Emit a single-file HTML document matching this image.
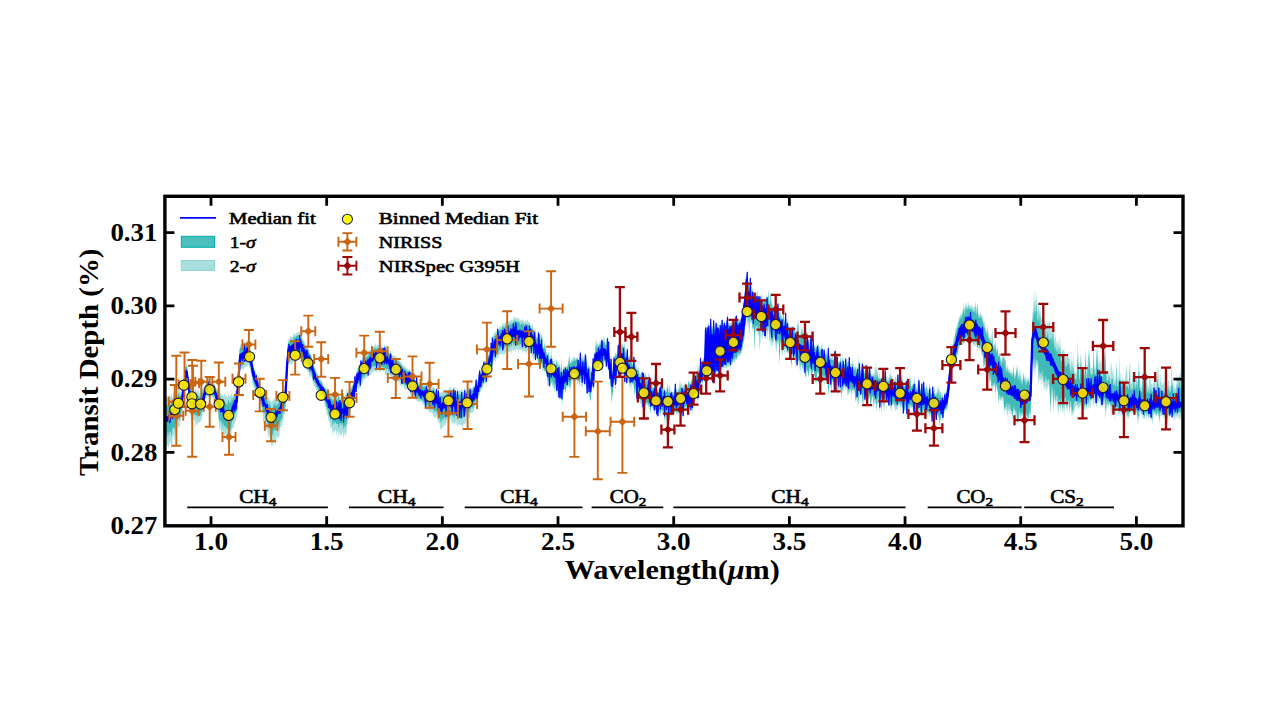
<!DOCTYPE html><html><head><meta charset="utf-8"><style>html,body{margin:0;padding:0;background:#fff;overflow:hidden}svg{display:block}</style></head><body><svg width="1263" height="719" viewBox="0 0 1263 719">
<rect width="1263" height="719" fill="#fff"/>
<defs><clipPath id="cp"><rect x="164.9" y="196.3" width="1018.1" height="329.49999999999994"/></clipPath></defs>
<g clip-path="url(#cp)">
<polygon points="162.9,399.0 163.5,397.2 164.1,395.8 164.7,399.8 165.3,398.4 165.9,399.4 166.5,398.4 167.1,396.4 167.7,396.6 168.3,395.9 168.9,398.0 169.5,392.2 170.1,397.5 170.7,396.3 171.3,392.6 171.9,397.1 172.5,397.7 173.1,395.5 173.7,391.3 174.3,391.8 174.9,394.8 175.5,397.1 176.1,390.3 176.7,392.8 177.3,395.1 177.9,388.8 178.5,387.7 179.1,389.9 179.7,390.0 180.3,392.9 180.9,391.4 181.5,390.6 182.1,387.6 182.7,385.9 183.3,384.7 183.9,378.9 184.5,373.7 185.1,370.7 185.7,363.3 186.3,364.5 186.9,364.4 187.5,367.3 188.1,373.4 188.7,380.1 189.3,385.0 189.9,386.2 190.5,387.2 191.1,391.1 191.7,391.9 192.3,390.0 192.9,390.0 193.5,388.8 194.1,391.5 194.7,390.4 195.3,387.7 195.9,389.9 196.5,391.5 197.1,393.2 197.7,388.8 198.3,388.9 198.9,392.3 199.5,393.9 200.1,394.3 200.7,392.5 201.3,387.5 201.9,389.9 202.5,388.8 203.1,386.6 203.7,388.5 204.3,386.7 204.9,385.4 205.5,384.4 206.1,383.0 206.7,381.6 207.3,379.5 207.9,379.6 208.5,378.3 209.1,380.6 209.7,379.5 210.3,380.7 210.9,381.9 211.5,382.2 212.1,383.2 212.7,383.7 213.3,383.3 213.9,384.1 214.5,383.4 215.1,386.4 215.7,387.2 216.3,388.6 216.9,388.4 217.5,387.9 218.1,390.3 218.7,391.9 219.3,393.2 219.9,388.2 220.5,392.8 221.1,396.5 221.7,393.8 222.3,394.4 222.9,394.8 223.5,396.3 224.1,394.1 224.7,394.3 225.3,394.7 225.9,397.6 226.5,396.1 227.1,396.1 227.7,397.4 228.3,393.0 228.9,394.0 229.5,397.2 230.1,394.6 230.7,395.5 231.3,395.2 231.9,391.6 232.5,397.3 233.1,395.1 233.7,394.9 234.3,393.7 234.9,392.6 235.5,389.7 236.1,390.2 236.7,390.3 237.3,390.3 237.9,382.4 238.5,367.6 239.1,354.0 239.7,347.2 240.3,345.8 240.9,343.7 241.5,344.5 242.1,344.7 242.7,344.5 243.3,345.1 243.9,342.1 244.5,341.5 245.1,343.0 245.7,343.0 246.3,343.3 246.9,339.3 247.5,341.4 248.1,339.7 248.7,339.1 249.3,343.5 249.9,346.1 250.5,348.5 251.1,352.7 251.7,355.5 252.3,359.1 252.9,361.4 253.5,365.1 254.1,367.3 254.7,369.0 255.3,370.4 255.9,373.2 256.5,372.7 257.1,377.2 257.7,379.0 258.3,380.7 258.9,383.3 259.5,384.3 260.1,385.3 260.7,388.0 261.3,388.3 261.9,390.8 262.5,390.4 263.1,392.0 263.7,392.8 264.3,394.1 264.9,390.8 265.5,393.4 266.1,394.1 266.7,393.2 267.3,397.2 267.9,396.6 268.5,397.0 269.1,401.2 269.7,395.7 270.3,400.1 270.9,401.8 271.5,403.1 272.1,401.1 272.7,400.6 273.3,400.5 273.9,400.0 274.5,399.4 275.1,396.6 275.7,402.6 276.3,400.6 276.9,399.4 277.5,399.5 278.1,400.1 278.7,398.2 279.3,392.8 279.9,394.4 280.5,393.4 281.1,396.6 281.7,394.0 282.3,391.4 282.9,393.5 283.5,390.9 284.1,392.1 284.7,390.7 285.3,388.9 285.9,385.1 286.5,371.5 287.1,353.5 287.7,342.5 288.3,339.4 288.9,339.2 289.5,339.5 290.1,336.5 290.7,336.6 291.3,336.3 291.9,337.4 292.5,337.1 293.1,337.0 293.7,331.9 294.3,333.5 294.9,335.3 295.5,334.5 296.1,332.2 296.7,333.7 297.3,332.5 297.9,332.7 298.5,331.7 299.1,332.7 299.7,331.2 300.3,331.6 300.9,332.6 301.5,332.5 302.1,337.2 302.7,338.9 303.3,340.2 303.9,340.4 304.5,341.8 305.1,343.9 305.7,344.9 306.3,346.6 306.9,345.3 307.5,345.4 308.1,346.1 308.7,350.5 309.3,349.7 309.9,352.9 310.5,352.1 311.1,356.4 311.7,354.5 312.3,359.2 312.9,360.6 313.5,362.1 314.1,365.5 314.7,366.3 315.3,369.5 315.9,368.6 316.5,372.2 317.1,373.4 317.7,374.3 318.3,376.1 318.9,377.9 319.5,378.6 320.1,379.3 320.7,378.7 321.3,380.9 321.9,380.3 322.5,383.7 323.1,382.3 323.7,386.3 324.3,386.9 324.9,385.6 325.5,387.2 326.1,388.4 326.7,387.8 327.3,389.3 327.9,388.8 328.5,389.9 329.1,389.1 329.7,393.5 330.3,391.4 330.9,393.4 331.5,393.8 332.1,394.3 332.7,397.4 333.3,394.7 333.9,394.7 334.5,394.8 335.1,394.2 335.7,396.2 336.3,395.4 336.9,392.5 337.5,397.4 338.1,392.2 338.7,393.3 339.3,396.4 339.9,396.4 340.5,397.4 341.1,397.0 341.7,393.7 342.3,396.9 342.9,394.2 343.5,393.7 344.1,395.2 344.7,397.3 345.3,394.5 345.9,395.0 346.5,387.6 347.1,393.2 347.7,388.4 348.3,392.2 348.9,390.7 349.5,389.0 350.1,388.6 350.7,386.9 351.3,387.0 351.9,385.2 352.5,384.5 353.1,383.9 353.7,381.5 354.3,379.8 354.9,373.7 355.5,375.9 356.1,373.8 356.7,370.9 357.3,368.8 357.9,366.7 358.5,366.7 359.1,364.5 359.7,364.1 360.3,363.5 360.9,357.9 361.5,361.5 362.1,359.1 362.7,360.2 363.3,353.3 363.9,357.5 364.5,357.4 365.1,356.7 365.7,354.4 366.3,353.6 366.9,354.3 367.5,353.3 368.1,353.5 368.7,350.9 369.3,350.1 369.9,349.5 370.5,350.8 371.1,350.2 371.7,343.9 372.3,347.4 372.9,347.1 373.5,346.7 374.1,345.5 374.7,344.3 375.3,343.1 375.9,346.5 376.5,346.4 377.1,344.0 377.7,344.8 378.3,344.8 378.9,345.5 379.5,346.4 380.1,345.1 380.7,346.9 381.3,346.7 381.9,344.3 382.5,348.1 383.1,345.4 383.7,348.1 384.3,345.7 384.9,343.7 385.5,346.3 386.1,344.8 386.7,349.9 387.3,348.4 387.9,350.4 388.5,350.2 389.1,352.6 389.7,352.6 390.3,350.5 390.9,351.1 391.5,354.1 392.1,355.0 392.7,355.2 393.3,355.8 393.9,355.4 394.5,356.4 395.1,354.8 395.7,356.1 396.3,358.1 396.9,357.0 397.5,359.2 398.1,359.4 398.7,359.3 399.3,360.9 399.9,360.3 400.5,362.7 401.1,361.5 401.7,362.4 402.3,364.8 402.9,364.7 403.5,365.3 404.1,366.8 404.7,366.5 405.3,366.0 405.9,367.8 406.5,368.3 407.1,368.9 407.7,368.6 408.3,368.7 408.9,370.3 409.5,369.8 410.1,369.6 410.7,372.3 411.3,373.5 411.9,374.4 412.5,373.3 413.1,376.7 413.7,371.1 414.3,377.9 414.9,378.5 415.5,380.0 416.1,381.0 416.7,374.4 417.3,382.0 417.9,382.2 418.5,382.6 419.1,382.7 419.7,382.5 420.3,383.1 420.9,383.8 421.5,382.0 422.1,382.5 422.7,384.1 423.3,384.5 423.9,384.8 424.5,383.5 425.1,385.0 425.7,386.2 426.3,383.7 426.9,386.2 427.5,386.5 428.1,386.0 428.7,385.5 429.3,386.8 429.9,386.8 430.5,387.8 431.1,386.4 431.7,386.5 432.3,388.5 432.9,385.8 433.5,386.9 434.1,387.4 434.7,389.2 435.3,387.5 435.9,390.2 436.5,385.7 437.1,390.9 437.7,389.4 438.3,385.2 438.9,391.9 439.5,392.6 440.1,393.0 440.7,392.7 441.3,392.0 441.9,393.4 442.5,391.4 443.1,392.8 443.7,391.7 444.3,393.5 444.9,390.1 445.5,392.5 446.1,388.6 446.7,389.8 447.3,391.6 447.9,389.9 448.5,391.2 449.1,388.8 449.7,388.1 450.3,387.0 450.9,387.8 451.5,391.1 452.1,389.8 452.7,391.4 453.3,385.6 453.9,388.1 454.5,387.9 455.1,386.4 455.7,390.7 456.3,392.0 456.9,391.1 457.5,387.1 458.1,390.8 458.7,391.0 459.3,391.0 459.9,390.0 460.5,391.1 461.1,390.7 461.7,388.5 462.3,389.8 462.9,391.8 463.5,391.7 464.1,388.7 464.7,387.4 465.3,389.3 465.9,391.3 466.5,389.5 467.1,388.9 467.7,387.5 468.3,388.1 468.9,388.7 469.5,386.0 470.1,386.3 470.7,388.3 471.3,388.0 471.9,387.1 472.5,387.8 473.1,386.9 473.7,386.1 474.3,385.3 474.9,384.0 475.5,384.1 476.1,376.5 476.7,382.9 477.3,380.3 477.9,379.3 478.5,376.6 479.1,372.3 479.7,368.4 480.3,372.2 480.9,371.6 481.5,368.7 482.1,367.1 482.7,366.3 483.3,363.4 483.9,359.5 484.5,361.6 485.1,361.1 485.7,359.9 486.3,358.3 486.9,355.3 487.5,356.3 488.1,354.9 488.7,352.7 489.3,351.7 489.9,345.5 490.5,347.2 491.1,340.0 491.7,342.2 492.3,334.9 492.9,337.9 493.5,334.4 494.1,332.3 494.7,333.2 495.3,331.6 495.9,331.5 496.5,330.8 497.1,331.8 497.7,323.8 498.3,329.9 498.9,328.3 499.5,326.6 500.1,326.7 500.7,327.0 501.3,326.6 501.9,325.9 502.5,321.4 503.1,325.3 503.7,322.9 504.3,324.1 504.9,322.7 505.5,322.7 506.1,321.6 506.7,320.6 507.3,321.5 507.9,320.9 508.5,320.9 509.1,322.0 509.7,320.6 510.3,321.4 510.9,319.0 511.5,319.9 512.1,319.6 512.7,320.8 513.3,318.9 513.9,317.2 514.5,316.2 515.1,317.7 515.7,317.7 516.3,319.5 516.9,316.9 517.5,319.0 518.1,318.5 518.7,318.0 519.3,318.8 519.9,321.7 520.5,319.1 521.1,321.1 521.7,320.5 522.3,317.9 522.9,321.1 523.5,319.4 524.1,322.4 524.7,321.7 525.3,319.7 525.9,321.5 526.5,322.2 527.1,320.1 527.7,319.2 528.3,321.4 528.9,322.6 529.5,321.2 530.1,324.7 530.7,325.9 531.3,326.4 531.9,324.9 532.5,323.4 533.1,328.2 533.7,329.7 534.3,328.7 534.9,330.1 535.5,329.3 536.1,334.3 536.7,337.5 537.3,336.5 537.9,331.9 538.5,330.4 539.1,333.2 539.7,340.1 540.3,342.2 540.9,329.4 541.5,336.0 542.1,333.5 542.7,344.9 543.3,346.4 543.9,346.0 544.5,340.2 545.1,346.5 545.7,345.5 546.3,350.9 546.9,353.5 547.5,353.7 548.1,354.1 548.7,349.6 549.3,356.1 549.9,359.8 550.5,357.1 551.1,348.6 551.7,353.7 552.3,361.2 552.9,361.0 553.5,361.0 554.1,364.1 554.7,358.4 555.3,364.9 555.9,360.5 556.5,360.6 557.1,357.7 557.7,366.1 558.3,360.5 558.9,365.5 559.5,362.4 560.1,367.6 560.7,369.4 561.3,355.9 561.9,370.5 562.5,370.0 563.1,370.8 563.7,364.6 564.3,365.7 564.9,367.5 565.5,365.7 566.1,367.2 566.7,366.7 567.3,365.2 567.9,364.0 568.5,361.5 569.1,349.9 569.7,360.1 570.3,362.6 570.9,361.2 571.5,360.0 572.1,357.1 572.7,359.7 573.3,357.0 573.9,355.9 574.5,357.3 575.1,358.0 575.7,358.8 576.3,357.6 576.9,357.9 577.5,356.0 578.1,357.7 578.7,361.1 579.3,354.3 579.9,350.6 580.5,350.3 581.1,358.6 581.7,358.9 582.3,357.4 582.9,354.9 583.5,357.9 584.1,355.5 584.7,359.6 585.3,352.7 585.9,354.1 586.5,364.2 587.1,360.7 587.7,368.0 588.3,363.0 588.9,367.6 589.5,367.0 590.1,365.0 590.7,375.3 591.3,372.3 591.9,364.4 592.5,365.0 593.1,355.5 593.7,358.7 594.3,351.9 594.9,352.0 595.5,347.3 596.1,338.4 596.7,344.9 597.3,344.0 597.9,345.0 598.5,344.3 599.1,342.3 599.7,343.5 600.3,343.2 600.9,339.7 601.5,338.1 602.1,338.4 602.7,341.6 603.3,338.4 603.9,335.6 604.5,338.9 605.1,341.7 605.7,343.3 606.3,337.0 606.9,341.3 607.5,335.9 608.1,343.6 608.7,339.8 609.3,353.6 609.9,357.2 610.5,358.3 611.1,353.5 611.7,368.6 612.3,373.7 612.9,368.3 613.5,356.8 614.1,354.3 614.7,357.1 615.3,351.4 615.9,353.7 616.5,354.2 617.1,351.6 617.7,345.9 618.3,341.8 618.9,349.8 619.5,348.7 620.1,345.4 620.7,344.7 621.3,345.6 621.9,342.4 622.5,342.0 623.1,346.5 623.7,346.0 624.3,341.3 624.9,353.4 625.5,346.1 626.1,354.0 626.7,351.6 627.3,340.9 627.9,352.7 628.5,356.4 629.1,359.8 629.7,353.1 630.3,361.0 630.9,359.2 631.5,354.6 632.1,362.6 632.7,363.0 633.3,357.5 633.9,354.9 634.5,364.2 635.1,365.4 635.7,365.5 636.3,365.6 636.9,368.7 637.5,366.9 638.1,367.4 638.7,369.3 639.3,372.4 639.9,372.9 640.5,375.1 641.1,371.8 641.7,373.7 642.3,370.0 642.9,379.3 643.5,371.6 644.1,381.3 644.7,373.4 645.3,371.8 645.9,378.9 646.5,375.4 647.1,378.1 647.7,382.0 648.3,373.8 648.9,373.2 649.5,374.8 650.1,380.4 650.7,384.8 651.3,383.2 651.9,376.7 652.5,387.9 653.1,388.2 653.7,388.4 654.3,376.1 654.9,374.4 655.5,389.9 656.1,389.6 656.7,383.4 657.3,387.8 657.9,390.7 658.5,389.7 659.1,388.7 659.7,386.3 660.3,385.5 660.9,379.8 661.5,389.7 662.1,385.2 662.7,380.0 663.3,389.8 663.9,387.2 664.5,387.4 665.1,390.8 665.7,391.2 666.3,387.2 666.9,389.2 667.5,380.5 668.1,386.1 668.7,389.6 669.3,386.1 669.9,384.3 670.5,391.8 671.1,392.1 671.7,388.6 672.3,392.6 672.9,392.0 673.5,392.1 674.1,389.4 674.7,388.2 675.3,381.9 675.9,390.9 676.5,388.2 677.1,390.6 677.7,390.6 678.3,388.1 678.9,387.5 679.5,380.0 680.1,388.0 680.7,382.0 681.3,381.8 681.9,386.3 682.5,385.3 683.1,386.0 683.7,385.3 684.3,385.8 684.9,381.5 685.5,384.0 686.1,385.5 686.7,384.8 687.3,387.2 687.9,384.4 688.5,379.6 689.1,382.6 689.7,381.4 690.3,381.7 690.9,382.7 691.5,379.7 692.1,376.3 692.7,379.8 693.3,374.9 693.9,371.0 694.5,375.3 695.1,375.3 695.7,373.4 696.3,372.7 696.9,372.5 697.5,362.5 698.1,372.8 698.7,364.9 699.3,370.0 699.9,368.6 700.5,356.2 701.1,363.7 701.7,361.6 702.3,360.0 702.9,360.2 703.5,358.0 704.1,356.8 704.7,348.3 705.3,327.1 705.9,324.6 706.5,329.3 707.1,328.4 707.7,324.5 708.3,323.8 708.9,321.1 709.5,326.5 710.1,328.3 710.7,316.0 711.3,327.2 711.9,327.8 712.5,325.3 713.1,326.2 713.7,317.8 714.3,326.8 714.9,327.0 715.5,325.3 716.1,320.1 716.7,326.0 717.3,324.4 717.9,324.6 718.5,324.4 719.1,324.9 719.7,324.6 720.3,321.9 720.9,325.8 721.5,324.9 722.1,317.4 722.7,325.3 723.3,323.8 723.9,321.0 724.5,320.6 725.1,324.4 725.7,323.0 726.3,323.9 726.9,318.5 727.5,312.6 728.1,323.5 728.7,323.2 729.3,322.8 729.9,323.3 730.5,323.2 731.1,323.1 731.7,321.8 732.3,319.4 732.9,322.3 733.5,321.8 734.1,320.4 734.7,321.2 735.3,317.1 735.9,314.5 736.5,313.4 737.1,320.0 737.7,320.5 738.3,319.9 738.9,320.4 739.5,318.2 740.1,319.4 740.7,319.1 741.3,315.9 741.9,314.9 742.5,307.5 743.1,308.9 743.7,301.5 744.3,298.6 744.9,293.0 745.5,283.6 746.1,271.8 746.7,275.7 747.3,269.8 747.9,280.0 748.5,283.5 749.1,285.1 749.7,286.9 750.3,275.4 750.9,285.4 751.5,284.8 752.1,288.3 752.7,290.2 753.3,290.5 753.9,293.7 754.5,298.0 755.1,295.3 755.7,299.2 756.3,291.5 756.9,293.8 757.5,290.2 758.1,294.6 758.7,298.7 759.3,300.7 759.9,293.8 760.5,299.9 761.1,295.4 761.7,291.9 762.3,297.6 762.9,300.7 763.5,298.1 764.1,298.9 764.7,298.4 765.3,299.1 765.9,298.1 766.5,295.7 767.1,294.2 767.7,300.5 768.3,287.7 768.9,302.3 769.5,300.4 770.1,301.8 770.7,292.8 771.3,299.7 771.9,304.5 772.5,304.7 773.1,305.1 773.7,307.7 774.3,308.1 774.9,305.6 775.5,308.0 776.1,308.5 776.7,313.1 777.3,309.9 777.9,301.4 778.5,306.1 779.1,309.0 779.7,315.8 780.3,308.2 780.9,314.0 781.5,316.0 782.1,316.0 782.7,318.7 783.3,307.4 783.9,316.2 784.5,319.0 785.1,321.2 785.7,310.6 786.3,323.7 786.9,324.3 787.5,319.3 788.1,319.7 788.7,326.4 789.3,328.1 789.9,324.9 790.5,327.8 791.1,326.1 791.7,328.3 792.3,325.6 792.9,328.5 793.5,324.1 794.1,331.9 794.7,325.5 795.3,331.6 795.9,332.2 796.5,333.4 797.1,332.5 797.7,320.7 798.3,319.0 798.9,334.4 799.5,334.5 800.1,334.2 800.7,332.1 801.3,324.4 801.9,334.4 802.5,325.7 803.1,338.4 803.7,333.9 804.3,332.5 804.9,332.1 805.5,339.2 806.1,341.3 806.7,327.4 807.3,334.1 807.9,330.9 808.5,343.6 809.1,338.2 809.7,340.4 810.3,341.4 810.9,328.0 811.5,333.5 812.1,345.3 812.7,344.3 813.3,338.2 813.9,347.7 814.5,344.6 815.1,345.1 815.7,346.5 816.3,347.2 816.9,343.9 817.5,342.9 818.1,347.6 818.7,341.9 819.3,346.4 819.9,347.5 820.5,348.9 821.1,345.4 821.7,344.6 822.3,342.5 822.9,350.6 823.5,352.2 824.1,346.0 824.7,351.6 825.3,353.3 825.9,352.3 826.5,348.7 827.1,354.8 827.7,353.4 828.3,343.1 828.9,350.4 829.5,356.6 830.1,357.1 830.7,356.4 831.3,357.6 831.9,358.3 832.5,354.2 833.1,358.3 833.7,358.8 834.3,358.2 834.9,349.2 835.5,348.2 836.1,361.2 836.7,354.4 837.3,353.9 837.9,361.6 838.5,361.7 839.1,361.0 839.7,361.1 840.3,360.4 840.9,355.4 841.5,362.4 842.1,363.2 842.7,355.0 843.3,359.3 843.9,362.2 844.5,363.8 845.1,359.5 845.7,356.3 846.3,364.5 846.9,357.4 847.5,363.5 848.1,360.8 848.7,361.3 849.3,354.8 849.9,365.2 850.5,363.4 851.1,363.7 851.7,364.0 852.3,364.4 852.9,358.4 853.5,368.2 854.1,368.2 854.7,366.3 855.3,363.6 855.9,370.0 856.5,365.8 857.1,368.6 857.7,367.4 858.3,353.1 858.9,369.3 859.5,361.5 860.1,369.9 860.7,372.4 861.3,368.0 861.9,360.4 862.5,361.7 863.1,364.5 863.7,371.2 864.3,373.6 864.9,369.5 865.5,373.8 866.1,363.4 866.7,372.5 867.3,374.7 867.9,360.7 868.5,372.8 869.1,372.2 869.7,365.2 870.3,374.1 870.9,372.0 871.5,375.4 872.1,373.3 872.7,374.9 873.3,374.0 873.9,374.2 874.5,376.4 875.1,359.2 875.7,376.0 876.3,376.8 876.9,362.1 877.5,372.8 878.1,375.5 878.7,377.5 879.3,371.2 879.9,377.7 880.5,377.6 881.1,378.1 881.7,376.1 882.3,375.5 882.9,373.0 883.5,378.2 884.1,372.1 884.7,379.1 885.3,365.4 885.9,371.7 886.5,380.2 887.1,380.5 887.7,374.5 888.3,378.3 888.9,378.2 889.5,376.7 890.1,368.9 890.7,378.1 891.3,374.0 891.9,381.7 892.5,374.4 893.1,381.5 893.7,378.8 894.3,380.0 894.9,378.9 895.5,376.2 896.1,376.4 896.7,380.9 897.3,380.4 897.9,372.4 898.5,381.7 899.1,383.3 899.7,381.7 900.3,372.8 900.9,378.2 901.5,375.1 902.1,377.7 902.7,377.4 903.3,383.7 903.9,384.2 904.5,384.9 905.1,383.6 905.7,383.5 906.3,379.0 906.9,382.0 907.5,376.0 908.1,383.1 908.7,378.3 909.3,384.4 909.9,373.9 910.5,378.5 911.1,386.4 911.7,385.9 912.3,384.8 912.9,383.2 913.5,386.3 914.1,375.3 914.7,382.7 915.3,382.9 915.9,385.3 916.5,386.6 917.1,387.7 917.7,384.6 918.3,379.9 918.9,377.6 919.5,385.4 920.1,388.8 920.7,389.4 921.3,386.3 921.9,378.9 922.5,389.9 923.1,379.4 923.7,380.2 924.3,388.6 924.9,385.4 925.5,388.7 926.1,389.5 926.7,382.1 927.3,389.6 927.9,386.3 928.5,391.7 929.1,388.2 929.7,381.7 930.3,388.0 930.9,393.2 931.5,392.6 932.1,393.8 932.7,384.7 933.3,391.9 933.9,391.3 934.5,385.9 935.1,391.7 935.7,394.4 936.3,395.0 936.9,391.3 937.5,392.2 938.1,384.8 938.7,389.0 939.3,390.5 939.9,390.4 940.5,391.6 941.1,392.0 941.7,396.0 942.3,392.4 942.9,396.6 943.5,396.0 944.1,395.6 944.7,392.3 945.3,391.2 945.9,392.5 946.5,388.9 947.1,387.2 947.7,385.3 948.3,380.0 948.9,371.5 949.5,365.2 950.1,359.3 950.7,353.4 951.3,347.8 951.9,345.0 952.5,344.5 953.1,342.6 953.7,338.4 954.3,337.1 954.9,335.0 955.5,327.5 956.1,331.1 956.7,323.9 957.3,325.3 957.9,323.0 958.5,319.4 959.1,318.4 959.7,315.9 960.3,317.0 960.9,312.1 961.5,315.8 962.1,311.9 962.7,310.4 963.3,308.8 963.9,302.7 964.5,309.6 965.1,309.8 965.7,303.2 966.3,301.9 966.9,305.7 967.5,308.1 968.1,301.0 968.7,305.5 969.3,304.2 969.9,306.2 970.5,306.3 971.1,303.7 971.7,306.5 972.3,305.7 972.9,308.0 973.5,307.5 974.1,307.6 974.7,306.2 975.3,307.6 975.9,300.1 976.5,312.6 977.1,305.7 977.7,302.0 978.3,313.7 978.9,313.9 979.5,314.3 980.1,314.8 980.7,311.8 981.3,315.8 981.9,314.0 982.5,318.9 983.1,314.6 983.7,323.7 984.3,321.3 984.9,322.8 985.5,328.7 986.1,329.6 986.7,332.1 987.3,324.1 987.9,332.7 988.5,332.8 989.1,338.4 989.7,333.6 990.3,337.0 990.9,340.2 991.5,342.1 992.1,326.9 992.7,340.4 993.3,344.8 993.9,344.4 994.5,341.4 995.1,346.1 995.7,337.7 996.3,348.3 996.9,351.2 997.5,344.6 998.1,353.2 998.7,355.1 999.3,352.9 999.9,353.3 1000.5,358.1 1001.1,360.8 1001.7,359.9 1002.3,352.3 1002.9,362.1 1003.5,353.0 1004.1,351.7 1004.7,360.6 1005.3,356.1 1005.9,368.1 1006.5,367.2 1007.1,370.7 1007.7,362.6 1008.3,369.5 1008.9,369.4 1009.5,368.9 1010.1,370.0 1010.7,372.2 1011.3,373.3 1011.9,368.7 1012.5,374.5 1013.1,366.8 1013.7,365.5 1014.3,374.3 1014.9,376.6 1015.5,373.8 1016.1,370.5 1016.7,367.0 1017.3,363.4 1017.9,377.9 1018.5,370.6 1019.1,377.6 1019.7,368.3 1020.3,381.4 1020.9,367.1 1021.5,380.8 1022.1,380.8 1022.7,379.2 1023.3,371.2 1023.9,375.2 1024.5,378.6 1025.1,374.0 1025.7,380.9 1026.3,382.5 1026.9,374.3 1027.5,381.3 1028.1,376.4 1028.7,378.5 1029.3,383.0 1029.9,380.1 1030.5,384.9 1031.1,366.4 1031.7,335.6 1032.3,313.4 1032.9,311.2 1033.5,302.7 1034.1,288.8 1034.7,302.6 1035.3,297.4 1035.9,306.6 1036.5,288.8 1037.1,308.3 1037.7,311.0 1038.3,309.4 1038.9,301.1 1039.5,315.3 1040.1,302.2 1040.7,317.1 1041.3,317.6 1041.9,318.6 1042.5,302.5 1043.1,298.5 1043.7,315.7 1044.3,321.7 1044.9,320.5 1045.5,321.4 1046.1,326.1 1046.7,328.7 1047.3,323.4 1047.9,322.2 1048.5,324.6 1049.1,322.3 1049.7,321.7 1050.3,323.7 1050.9,332.1 1051.5,323.5 1052.1,334.3 1052.7,325.0 1053.3,323.0 1053.9,326.3 1054.5,336.9 1055.1,342.6 1055.7,331.4 1056.3,345.4 1056.9,340.9 1057.5,344.0 1058.1,338.6 1058.7,345.4 1059.3,348.1 1059.9,334.8 1060.5,344.2 1061.1,355.1 1061.7,355.1 1062.3,349.6 1062.9,351.0 1063.5,349.8 1064.1,348.5 1064.7,353.5 1065.3,356.9 1065.9,357.6 1066.5,357.6 1067.1,356.2 1067.7,353.5 1068.3,358.3 1068.9,356.2 1069.5,360.4 1070.1,355.7 1070.7,367.1 1071.3,369.2 1071.9,353.8 1072.5,363.4 1073.1,370.1 1073.7,348.5 1074.3,372.0 1074.9,371.7 1075.5,372.4 1076.1,374.2 1076.7,373.2 1077.3,337.2 1077.9,358.7 1078.5,353.7 1079.1,375.2 1079.7,375.0 1080.3,367.4 1080.9,350.8 1081.5,363.1 1082.1,369.2 1082.7,371.6 1083.3,370.4 1083.9,376.5 1084.5,371.7 1085.1,361.1 1085.7,346.8 1086.3,366.2 1086.9,373.9 1087.5,358.6 1088.1,368.5 1088.7,346.7 1089.3,354.8 1089.9,350.0 1090.5,370.1 1091.1,366.8 1091.7,367.2 1092.3,369.1 1092.9,367.5 1093.5,338.9 1094.1,370.1 1094.7,362.9 1095.3,368.6 1095.9,367.7 1096.5,344.5 1097.1,369.4 1097.7,340.7 1098.3,368.9 1098.9,352.9 1099.5,364.8 1100.1,359.3 1100.7,362.3 1101.3,369.4 1101.9,352.9 1102.5,355.9 1103.1,370.7 1103.7,358.8 1104.3,348.1 1104.9,366.9 1105.5,338.5 1106.1,369.4 1106.7,374.5 1107.3,376.3 1107.9,368.8 1108.5,375.2 1109.1,370.3 1109.7,375.0 1110.3,379.2 1110.9,361.0 1111.5,365.0 1112.1,367.5 1112.7,373.5 1113.3,376.9 1113.9,364.9 1114.5,379.1 1115.1,381.4 1115.7,379.7 1116.3,358.0 1116.9,380.5 1117.5,374.9 1118.1,381.9 1118.7,373.1 1119.3,353.4 1119.9,375.6 1120.5,372.3 1121.1,382.2 1121.7,380.7 1122.3,375.0 1122.9,380.6 1123.5,380.9 1124.1,377.8 1124.7,383.0 1125.3,370.1 1125.9,378.1 1126.5,363.8 1127.1,368.0 1127.7,381.8 1128.3,383.2 1128.9,384.8 1129.5,362.0 1130.1,363.6 1130.7,382.8 1131.3,384.6 1131.9,382.3 1132.5,369.0 1133.1,381.6 1133.7,375.5 1134.3,383.2 1134.9,372.8 1135.5,384.5 1136.1,376.7 1136.7,375.0 1137.3,383.7 1137.9,377.7 1138.5,361.5 1139.1,363.6 1139.7,382.5 1140.3,384.4 1140.9,388.1 1141.5,385.3 1142.1,387.4 1142.7,370.8 1143.3,376.1 1143.9,385.1 1144.5,384.6 1145.1,384.3 1145.7,384.6 1146.3,373.5 1146.9,369.1 1147.5,386.7 1148.1,384.2 1148.7,388.9 1149.3,376.0 1149.9,376.1 1150.5,379.4 1151.1,384.0 1151.7,383.8 1152.3,388.3 1152.9,381.3 1153.5,383.2 1154.1,382.5 1154.7,369.8 1155.3,386.3 1155.9,382.0 1156.5,374.2 1157.1,378.3 1157.7,368.1 1158.3,365.6 1158.9,381.4 1159.5,387.7 1160.1,365.2 1160.7,381.9 1161.3,380.2 1161.9,385.1 1162.5,385.3 1163.1,382.2 1163.7,382.3 1164.3,386.6 1164.9,369.4 1165.5,382.9 1166.1,381.3 1166.7,389.7 1167.3,384.3 1167.9,376.8 1168.5,380.9 1169.1,380.9 1169.7,388.0 1170.3,384.5 1170.9,387.8 1171.5,356.5 1172.1,383.4 1172.7,376.7 1173.3,381.9 1173.9,387.0 1174.5,385.9 1175.1,389.4 1175.7,387.4 1176.3,387.9 1176.9,371.0 1177.5,381.1 1178.1,376.0 1178.7,377.9 1179.3,375.2 1179.9,374.6 1180.5,367.5 1181.1,383.3 1181.7,388.2 1182.3,388.3 1182.9,388.1 1183.5,387.7 1184.1,389.1 1184.7,373.8 1184.7,428.6 1184.1,413.5 1183.5,415.3 1182.9,415.8 1182.3,419.0 1181.7,423.4 1181.1,414.1 1180.5,417.8 1179.9,420.5 1179.3,418.8 1178.7,413.9 1178.1,420.1 1177.5,416.6 1176.9,419.8 1176.3,413.6 1175.7,416.2 1175.1,421.7 1174.5,415.6 1173.9,421.5 1173.3,414.4 1172.7,416.0 1172.1,419.5 1171.5,414.5 1170.9,415.7 1170.3,415.7 1169.7,417.4 1169.1,417.2 1168.5,415.8 1167.9,423.9 1167.3,424.0 1166.7,416.1 1166.1,418.9 1165.5,414.1 1164.9,417.0 1164.3,419.3 1163.7,413.8 1163.1,418.9 1162.5,414.4 1161.9,415.7 1161.3,416.2 1160.7,414.7 1160.1,416.1 1159.5,425.3 1158.9,415.9 1158.3,416.4 1157.7,413.3 1157.1,414.4 1156.5,417.8 1155.9,415.5 1155.3,415.0 1154.7,414.4 1154.1,414.3 1153.5,416.1 1152.9,421.2 1152.3,425.3 1151.7,414.1 1151.1,422.9 1150.5,413.5 1149.9,416.7 1149.3,417.5 1148.7,418.3 1148.1,417.2 1147.5,414.4 1146.9,421.2 1146.3,413.7 1145.7,414.8 1145.1,417.2 1144.5,419.4 1143.9,417.4 1143.3,419.3 1142.7,418.1 1142.1,413.1 1141.5,415.2 1140.9,412.5 1140.3,413.3 1139.7,416.0 1139.1,415.7 1138.5,419.7 1137.9,426.4 1137.3,416.3 1136.7,415.3 1136.1,412.4 1135.5,413.2 1134.9,412.4 1134.3,416.8 1133.7,411.7 1133.1,413.1 1132.5,413.8 1131.9,412.5 1131.3,411.0 1130.7,412.5 1130.1,412.3 1129.5,416.5 1128.9,412.9 1128.3,420.1 1127.7,414.6 1127.1,419.4 1126.5,415.4 1125.9,411.0 1125.3,410.6 1124.7,409.5 1124.1,409.1 1123.5,412.9 1122.9,417.4 1122.3,409.1 1121.7,410.2 1121.1,419.0 1120.5,410.7 1119.9,415.5 1119.3,412.8 1118.7,416.3 1118.1,411.3 1117.5,409.0 1116.9,410.0 1116.3,409.5 1115.7,410.3 1115.1,420.3 1114.5,414.8 1113.9,409.5 1113.3,409.3 1112.7,414.5 1112.1,406.1 1111.5,413.7 1110.9,418.0 1110.3,405.9 1109.7,404.2 1109.1,403.7 1108.5,408.5 1107.9,407.5 1107.3,403.5 1106.7,402.3 1106.1,412.5 1105.5,419.9 1104.9,408.3 1104.3,400.1 1103.7,407.4 1103.1,399.4 1102.5,407.4 1101.9,407.4 1101.3,405.7 1100.7,408.7 1100.1,397.8 1099.5,402.7 1098.9,400.4 1098.3,403.9 1097.7,398.3 1097.1,408.6 1096.5,405.6 1095.9,406.4 1095.3,397.9 1094.7,399.2 1094.1,408.1 1093.5,402.7 1092.9,405.4 1092.3,398.5 1091.7,399.6 1091.1,404.7 1090.5,408.9 1089.9,400.3 1089.3,408.7 1088.7,408.7 1088.1,403.6 1087.5,402.5 1086.9,411.6 1086.3,407.4 1085.7,404.2 1085.1,410.3 1084.5,408.9 1083.9,409.3 1083.3,408.6 1082.7,417.5 1082.1,407.1 1081.5,410.0 1080.9,407.1 1080.3,404.4 1079.7,407.7 1079.1,406.8 1078.5,410.4 1077.9,408.0 1077.3,404.8 1076.7,406.4 1076.1,406.9 1075.5,405.4 1074.9,408.0 1074.3,412.6 1073.7,409.9 1073.1,416.7 1072.5,412.6 1071.9,418.6 1071.3,408.4 1070.7,406.1 1070.1,408.3 1069.5,414.3 1068.9,406.8 1068.3,404.0 1067.7,406.6 1067.1,413.7 1066.5,408.7 1065.9,405.0 1065.3,404.6 1064.7,401.4 1064.1,418.2 1063.5,407.5 1062.9,406.9 1062.3,414.7 1061.7,406.6 1061.1,403.1 1060.5,413.7 1059.9,406.0 1059.3,406.0 1058.7,406.8 1058.1,418.3 1057.5,401.0 1056.9,400.7 1056.3,400.9 1055.7,401.2 1055.1,408.5 1054.5,396.2 1053.9,402.3 1053.3,414.5 1052.7,391.8 1052.1,402.0 1051.5,391.3 1050.9,412.7 1050.3,411.4 1049.7,394.0 1049.1,385.1 1048.5,383.7 1047.9,390.2 1047.3,385.5 1046.7,393.3 1046.1,384.4 1045.5,387.1 1044.9,390.9 1044.3,388.2 1043.7,381.6 1043.1,389.4 1042.5,379.3 1041.9,374.8 1041.3,385.9 1040.7,379.5 1040.1,380.1 1039.5,375.9 1038.9,388.1 1038.3,371.8 1037.7,369.2 1037.1,363.7 1036.5,366.8 1035.9,361.9 1035.3,377.6 1034.7,358.9 1034.1,376.7 1033.5,364.5 1032.9,362.7 1032.3,361.4 1031.7,379.6 1031.1,400.5 1030.5,420.2 1029.9,417.1 1029.3,413.5 1028.7,425.0 1028.1,418.0 1027.5,420.3 1026.9,419.6 1026.3,414.9 1025.7,420.6 1025.1,417.5 1024.5,419.5 1023.9,416.8 1023.3,419.4 1022.7,415.7 1022.1,416.5 1021.5,415.5 1020.9,418.9 1020.3,417.4 1019.7,416.2 1019.1,414.3 1018.5,423.5 1017.9,421.5 1017.3,426.1 1016.7,419.4 1016.1,412.8 1015.5,417.1 1014.9,417.6 1014.3,409.7 1013.7,410.1 1013.1,414.4 1012.5,420.7 1011.9,416.1 1011.3,413.8 1010.7,414.1 1010.1,407.5 1009.5,410.9 1008.9,415.6 1008.3,405.7 1007.7,406.0 1007.1,420.0 1006.5,406.0 1005.9,408.1 1005.3,410.5 1004.7,409.9 1004.1,415.1 1003.5,400.8 1002.9,401.1 1002.3,398.2 1001.7,398.6 1001.1,401.1 1000.5,400.5 999.9,399.4 999.3,398.1 998.7,406.3 998.1,391.7 997.5,393.0 996.9,388.7 996.3,385.8 995.7,398.8 995.1,386.8 994.5,384.3 993.9,389.5 993.3,385.6 992.7,386.9 992.1,393.2 991.5,389.6 990.9,375.4 990.3,383.3 989.7,383.6 989.1,376.0 988.5,373.6 987.9,374.5 987.3,374.0 986.7,368.2 986.1,371.8 985.5,367.4 984.9,365.0 984.3,367.5 983.7,369.3 983.1,359.0 982.5,354.4 981.9,357.8 981.3,351.5 980.7,348.8 980.1,348.3 979.5,351.6 978.9,347.9 978.3,347.8 977.7,349.0 977.1,349.6 976.5,344.1 975.9,344.4 975.3,347.5 974.7,343.7 974.1,345.7 973.5,347.3 972.9,344.6 972.3,340.6 971.7,340.0 971.1,342.8 970.5,340.2 969.9,339.2 969.3,343.2 968.7,337.3 968.1,341.8 967.5,340.0 966.9,337.4 966.3,339.6 965.7,341.3 965.1,338.9 964.5,343.2 963.9,342.9 963.3,345.3 962.7,344.3 962.1,345.1 961.5,344.0 960.9,343.3 960.3,343.7 959.7,346.1 959.1,349.8 958.5,348.2 957.9,352.7 957.3,357.6 956.7,355.2 956.1,362.8 955.5,363.0 954.9,362.9 954.3,366.2 953.7,368.5 953.1,369.0 952.5,370.1 951.9,372.5 951.3,374.9 950.7,377.7 950.1,381.7 949.5,388.4 948.9,393.6 948.3,399.7 947.7,407.9 947.1,408.6 946.5,410.7 945.9,410.5 945.3,411.0 944.7,412.2 944.1,412.2 943.5,416.9 942.9,421.9 942.3,418.8 941.7,415.1 941.1,417.2 940.5,422.0 939.9,416.6 939.3,429.1 938.7,415.4 938.1,417.0 937.5,415.8 936.9,414.8 936.3,421.8 935.7,418.0 935.1,427.1 934.5,415.1 933.9,421.7 933.3,414.1 932.7,416.5 932.1,423.5 931.5,416.1 930.9,418.1 930.3,413.5 929.7,413.8 929.1,418.2 928.5,412.8 927.9,413.0 927.3,417.7 926.7,417.2 926.1,412.2 925.5,414.1 924.9,412.7 924.3,413.4 923.7,412.5 923.1,412.1 922.5,416.9 921.9,412.4 921.3,416.6 920.7,414.3 920.1,412.6 919.5,411.5 918.9,410.0 918.3,411.5 917.7,419.1 917.1,409.1 916.5,409.2 915.9,422.4 915.3,413.8 914.7,407.9 914.1,418.2 913.5,407.8 912.9,409.0 912.3,407.1 911.7,407.5 911.1,408.5 910.5,407.4 909.9,407.1 909.3,411.8 908.7,416.9 908.1,406.9 907.5,407.6 906.9,418.2 906.3,408.3 905.7,410.0 905.1,409.5 904.5,413.2 903.9,409.6 903.3,415.6 902.7,407.9 902.1,407.3 901.5,406.9 900.9,405.9 900.3,410.5 899.7,404.5 899.1,405.6 898.5,404.2 897.9,407.3 897.3,410.0 896.7,408.8 896.1,410.4 895.5,411.0 894.9,408.9 894.3,403.5 893.7,406.0 893.1,403.2 892.5,406.5 891.9,403.2 891.3,412.9 890.7,409.5 890.1,405.9 889.5,406.4 888.9,407.1 888.3,401.9 887.7,402.6 887.1,401.7 886.5,402.2 885.9,400.8 885.3,403.0 884.7,402.2 884.1,412.8 883.5,407.2 882.9,403.1 882.3,401.1 881.7,417.3 881.1,404.6 880.5,398.9 879.9,409.9 879.3,412.1 878.7,398.8 878.1,401.9 877.5,405.6 876.9,403.8 876.3,412.3 875.7,402.8 875.1,403.5 874.5,399.3 873.9,408.7 873.3,403.9 872.7,398.6 872.1,396.7 871.5,403.3 870.9,406.6 870.3,404.1 869.7,396.8 869.1,399.1 868.5,401.2 867.9,398.8 867.3,398.7 866.7,397.3 866.1,397.7 865.5,396.0 864.9,403.6 864.3,395.4 863.7,397.0 863.1,406.6 862.5,402.8 861.9,394.8 861.3,394.2 860.7,396.6 860.1,395.1 859.5,399.8 858.9,393.3 858.3,408.1 857.7,399.7 857.1,405.6 856.5,398.2 855.9,400.5 855.3,403.0 854.7,391.1 854.1,394.9 853.5,390.7 852.9,390.1 852.3,390.7 851.7,401.5 851.1,390.7 850.5,389.4 849.9,395.9 849.3,390.1 848.7,392.1 848.1,395.7 847.5,395.5 846.9,389.0 846.3,388.2 845.7,389.3 845.1,387.6 844.5,386.4 843.9,392.5 843.3,388.3 842.7,389.0 842.1,394.0 841.5,401.0 840.9,390.8 840.3,392.3 839.7,391.2 839.1,385.6 838.5,388.8 837.9,396.8 837.3,385.4 836.7,385.2 836.1,384.3 835.5,386.0 834.9,385.1 834.3,394.0 833.7,383.4 833.1,382.0 832.5,381.8 831.9,383.4 831.3,397.6 830.7,387.3 830.1,384.2 829.5,383.4 828.9,390.8 828.3,396.1 827.7,385.0 827.1,380.0 826.5,383.2 825.9,381.7 825.3,376.8 824.7,377.4 824.1,391.1 823.5,379.1 822.9,382.9 822.3,381.8 821.7,374.9 821.1,384.5 820.5,385.7 819.9,375.8 819.3,377.3 818.7,373.4 818.1,375.1 817.5,372.6 816.9,375.7 816.3,386.2 815.7,382.9 815.1,379.2 814.5,380.2 813.9,371.7 813.3,370.4 812.7,372.7 812.1,374.2 811.5,378.1 810.9,371.2 810.3,372.3 809.7,368.2 809.1,372.8 808.5,378.5 807.9,371.2 807.3,373.1 806.7,369.9 806.1,379.9 805.5,377.9 804.9,375.1 804.3,367.9 803.7,373.0 803.1,363.5 802.5,373.5 801.9,364.9 801.3,365.7 800.7,364.4 800.1,377.9 799.5,362.4 798.9,360.6 798.3,362.9 797.7,361.3 797.1,370.6 796.5,360.1 795.9,368.6 795.3,359.8 794.7,358.3 794.1,359.0 793.5,358.9 792.9,356.6 792.3,354.8 791.7,369.3 791.1,363.8 790.5,360.7 789.9,353.7 789.3,359.3 788.7,352.9 788.1,352.0 787.5,354.1 786.9,352.5 786.3,351.8 785.7,348.5 785.1,349.6 784.5,356.6 783.9,347.3 783.3,350.1 782.7,347.5 782.1,357.4 781.5,345.9 780.9,342.6 780.3,344.0 779.7,365.4 779.1,349.9 778.5,341.1 777.9,340.8 777.3,345.1 776.7,342.2 776.1,353.5 775.5,341.0 774.9,339.6 774.3,337.0 773.7,337.2 773.1,346.5 772.5,344.4 771.9,347.2 771.3,341.9 770.7,330.3 770.1,351.7 769.5,339.9 768.9,328.6 768.3,331.7 767.7,341.1 767.1,327.4 766.5,330.6 765.9,340.2 765.3,337.9 764.7,339.1 764.1,327.1 763.5,334.2 762.9,337.3 762.3,339.5 761.7,338.1 761.1,328.3 760.5,328.5 759.9,354.3 759.3,326.9 758.7,334.1 758.1,337.7 757.5,329.3 756.9,327.9 756.3,328.3 755.7,335.1 755.1,328.6 754.5,354.7 753.9,327.5 753.3,330.3 752.7,331.8 752.1,325.8 751.5,321.2 750.9,325.2 750.3,318.4 749.7,317.6 749.1,340.1 748.5,316.1 747.9,330.2 747.3,314.0 746.7,313.6 746.1,324.3 745.5,326.3 744.9,328.6 744.3,339.6 743.7,342.8 743.1,345.4 742.5,350.4 741.9,352.9 741.3,353.3 740.7,355.3 740.1,355.0 739.5,356.6 738.9,355.5 738.3,356.4 737.7,356.4 737.1,359.9 736.5,360.1 735.9,360.7 735.3,359.8 734.7,360.4 734.1,364.2 733.5,361.4 732.9,362.9 732.3,364.0 731.7,364.5 731.1,365.8 730.5,368.4 729.9,366.3 729.3,367.2 728.7,366.3 728.1,366.9 727.5,365.8 726.9,367.9 726.3,368.6 725.7,367.4 725.1,367.4 724.5,367.2 723.9,368.0 723.3,368.8 722.7,370.0 722.1,368.2 721.5,369.7 720.9,372.0 720.3,369.1 719.7,372.5 719.1,377.1 718.5,370.6 717.9,374.1 717.3,371.5 716.7,372.9 716.1,374.3 715.5,371.1 714.9,378.0 714.3,375.6 713.7,374.6 713.1,374.0 712.5,384.6 711.9,374.2 711.3,374.2 710.7,375.9 710.1,375.9 709.5,375.9 708.9,376.2 708.3,378.0 707.7,377.5 707.1,376.1 706.5,379.9 705.9,377.4 705.3,377.6 704.7,383.0 704.1,377.0 703.5,381.6 702.9,378.7 702.3,386.3 701.7,381.3 701.1,383.9 700.5,385.4 699.9,391.1 699.3,397.9 698.7,397.1 698.1,400.2 697.5,405.3 696.9,395.6 696.3,395.9 695.7,401.1 695.1,400.4 694.5,396.6 693.9,402.9 693.3,405.4 692.7,416.0 692.1,410.0 691.5,406.2 690.9,412.4 690.3,402.9 689.7,410.9 689.1,409.2 688.5,412.7 687.9,417.4 687.3,414.3 686.7,406.9 686.1,408.6 685.5,409.1 684.9,410.7 684.3,411.1 683.7,414.7 683.1,419.1 682.5,413.8 681.9,408.6 681.3,415.7 680.7,409.6 680.1,410.0 679.5,409.3 678.9,411.0 678.3,416.2 677.7,409.9 677.1,416.3 676.5,414.1 675.9,411.0 675.3,413.1 674.7,413.3 674.1,413.1 673.5,417.6 672.9,414.1 672.3,412.5 671.7,415.3 671.1,417.0 670.5,415.1 669.9,416.4 669.3,424.7 668.7,421.5 668.1,421.9 667.5,416.1 666.9,411.9 666.3,422.4 665.7,411.5 665.1,428.9 664.5,420.0 663.9,413.6 663.3,411.1 662.7,413.7 662.1,411.7 661.5,411.3 660.9,413.8 660.3,416.4 659.7,413.6 659.1,411.6 658.5,411.3 657.9,418.4 657.3,413.7 656.7,417.6 656.1,410.6 655.5,409.7 654.9,414.8 654.3,412.6 653.7,409.4 653.1,411.7 652.5,407.6 651.9,409.0 651.3,406.6 650.7,414.1 650.1,413.0 649.5,405.7 648.9,408.0 648.3,407.0 647.7,405.3 647.1,405.3 646.5,403.8 645.9,406.6 645.3,402.9 644.7,412.6 644.1,404.6 643.5,404.2 642.9,411.1 642.3,403.5 641.7,407.7 641.1,399.6 640.5,406.0 639.9,401.5 639.3,396.1 638.7,401.6 638.1,395.4 637.5,401.7 636.9,403.4 636.3,389.5 635.7,393.8 635.1,392.6 634.5,396.8 633.9,384.6 633.3,387.7 632.7,383.7 632.1,385.2 631.5,389.8 630.9,381.1 630.3,391.4 629.7,386.3 629.1,386.4 628.5,379.1 627.9,382.4 627.3,382.0 626.7,384.9 626.1,376.6 625.5,379.9 624.9,386.6 624.3,383.6 623.7,377.6 623.1,371.9 622.5,374.1 621.9,372.5 621.3,377.4 620.7,370.7 620.1,374.4 619.5,369.0 618.9,377.6 618.3,373.4 617.7,374.7 617.1,378.1 616.5,375.8 615.9,390.3 615.3,388.4 614.7,378.4 614.1,383.7 613.5,386.3 612.9,394.6 612.3,396.1 611.7,405.3 611.1,387.1 610.5,390.9 609.9,381.2 609.3,376.7 608.7,371.4 608.1,369.5 607.5,367.8 606.9,365.3 606.3,369.8 605.7,365.3 605.1,362.5 604.5,362.6 603.9,361.5 603.3,366.4 602.7,376.2 602.1,363.8 601.5,365.5 600.9,365.1 600.3,363.4 599.7,370.4 599.1,371.8 598.5,365.4 597.9,370.1 597.3,366.9 596.7,367.3 596.1,371.3 595.5,372.3 594.9,372.4 594.3,381.7 593.7,389.5 593.1,391.8 592.5,384.4 591.9,391.1 591.3,393.4 590.7,402.1 590.1,400.4 589.5,395.2 588.9,396.9 588.3,390.5 587.7,389.6 587.1,396.7 586.5,387.0 585.9,387.3 585.3,382.9 584.7,386.1 584.1,383.8 583.5,381.2 582.9,386.3 582.3,386.4 581.7,384.6 581.1,387.3 580.5,380.9 579.9,382.4 579.3,388.4 578.7,381.2 578.1,381.6 577.5,384.9 576.9,382.2 576.3,379.7 575.7,382.7 575.1,380.2 574.5,380.4 573.9,388.6 573.3,381.4 572.7,381.2 572.1,380.2 571.5,384.5 570.9,382.6 570.3,390.8 569.7,388.0 569.1,388.2 568.5,385.2 567.9,387.8 567.3,386.8 566.7,386.4 566.1,389.3 565.5,394.6 564.9,389.2 564.3,390.6 563.7,390.6 563.1,397.5 562.5,402.5 561.9,407.6 561.3,393.8 560.7,392.6 560.1,401.9 559.5,398.3 558.9,400.8 558.3,389.0 557.7,390.0 557.1,399.1 556.5,391.9 555.9,391.5 555.3,387.1 554.7,389.1 554.1,392.7 553.5,382.8 552.9,388.5 552.3,381.7 551.7,382.7 551.1,385.6 550.5,388.2 549.9,379.1 549.3,388.5 548.7,376.6 548.1,385.6 547.5,385.4 546.9,379.5 546.3,371.6 545.7,372.4 545.1,370.4 544.5,372.9 543.9,370.4 543.3,369.6 542.7,371.7 542.1,370.6 541.5,363.9 540.9,365.8 540.3,366.9 539.7,361.2 539.1,366.1 538.5,365.1 537.9,359.1 537.3,362.9 536.7,357.0 536.1,355.2 535.5,361.7 534.9,358.4 534.3,357.0 533.7,361.5 533.1,357.7 532.5,355.4 531.9,353.7 531.3,358.0 530.7,353.0 530.1,353.6 529.5,357.2 528.9,353.8 528.3,354.0 527.7,349.1 527.1,354.6 526.5,351.4 525.9,354.1 525.3,350.8 524.7,351.1 524.1,350.4 523.5,351.8 522.9,350.8 522.3,354.5 521.7,348.8 521.1,349.5 520.5,350.0 519.9,348.9 519.3,350.3 518.7,353.9 518.1,347.6 517.5,350.0 516.9,349.8 516.3,349.1 515.7,352.7 515.1,347.9 514.5,350.3 513.9,351.9 513.3,350.0 512.7,351.5 512.1,347.7 511.5,354.9 510.9,349.6 510.3,352.9 509.7,352.2 509.1,351.2 508.5,351.7 507.9,352.1 507.3,353.9 506.7,349.4 506.1,353.8 505.5,351.0 504.9,353.9 504.3,355.1 503.7,352.3 503.1,356.9 502.5,354.9 501.9,352.6 501.3,354.8 500.7,353.8 500.1,354.2 499.5,355.4 498.9,354.1 498.3,358.8 497.7,355.4 497.1,360.4 496.5,358.1 495.9,357.1 495.3,362.9 494.7,359.5 494.1,360.0 493.5,360.7 492.9,367.2 492.3,367.3 491.7,370.0 491.1,368.3 490.5,371.0 489.9,374.1 489.3,374.9 488.7,377.8 488.1,380.2 487.5,378.4 486.9,380.0 486.3,388.5 485.7,381.1 485.1,384.0 484.5,383.5 483.9,384.2 483.3,387.1 482.7,388.7 482.1,388.3 481.5,389.5 480.9,391.1 480.3,391.9 479.7,394.6 479.1,396.0 478.5,397.0 477.9,399.1 477.3,402.4 476.7,402.1 476.1,401.9 475.5,404.6 474.9,406.6 474.3,408.8 473.7,410.0 473.1,411.9 472.5,412.6 471.9,413.5 471.3,412.4 470.7,412.8 470.1,414.6 469.5,419.6 468.9,416.7 468.3,417.9 467.7,419.9 467.1,417.4 466.5,417.9 465.9,426.0 465.3,420.2 464.7,424.7 464.1,424.3 463.5,424.5 462.9,425.4 462.3,428.8 461.7,423.8 461.1,425.9 460.5,425.9 459.9,423.3 459.3,425.1 458.7,423.8 458.1,427.1 457.5,427.1 456.9,419.7 456.3,425.4 455.7,424.2 455.1,421.4 454.5,424.3 453.9,426.1 453.3,421.5 452.7,423.5 452.1,423.5 451.5,420.7 450.9,418.2 450.3,419.1 449.7,422.6 449.1,417.5 448.5,422.8 447.9,418.3 447.3,419.1 446.7,421.3 446.1,423.0 445.5,427.4 444.9,423.7 444.3,425.6 443.7,426.8 443.1,424.9 442.5,427.7 441.9,428.8 441.3,427.4 440.7,430.3 440.1,429.3 439.5,423.4 438.9,421.3 438.3,424.2 437.7,419.4 437.1,420.8 436.5,416.4 435.9,416.5 435.3,418.5 434.7,416.3 434.1,417.5 433.5,416.1 432.9,412.2 432.3,414.3 431.7,412.1 431.1,411.5 430.5,414.2 429.9,412.1 429.3,413.1 428.7,408.8 428.1,411.6 427.5,411.0 426.9,408.2 426.3,408.9 425.7,411.1 425.1,407.9 424.5,407.2 423.9,405.8 423.3,404.2 422.7,403.3 422.1,403.3 421.5,402.7 420.9,402.0 420.3,400.9 419.7,402.5 419.1,401.1 418.5,401.6 417.9,402.1 417.3,401.6 416.7,401.1 416.1,399.2 415.5,400.4 414.9,398.2 414.3,398.7 413.7,395.3 413.1,394.9 412.5,395.0 411.9,393.5 411.3,393.7 410.7,396.8 410.1,392.8 409.5,392.6 408.9,389.9 408.3,389.6 407.7,388.2 407.1,389.4 406.5,388.2 405.9,390.2 405.3,389.2 404.7,389.2 404.1,388.3 403.5,385.7 402.9,387.0 402.3,384.3 401.7,387.3 401.1,383.7 400.5,385.9 399.9,386.0 399.3,382.5 398.7,380.9 398.1,381.6 397.5,381.0 396.9,383.1 396.3,380.1 395.7,379.1 395.1,380.7 394.5,379.6 393.9,379.2 393.3,379.5 392.7,380.1 392.1,376.6 391.5,377.2 390.9,378.3 390.3,376.8 389.7,374.8 389.1,374.5 388.5,375.5 387.9,372.5 387.3,373.1 386.7,375.3 386.1,373.3 385.5,374.9 384.9,372.7 384.3,370.6 383.7,371.7 383.1,371.2 382.5,370.3 381.9,370.8 381.3,369.9 380.7,371.5 380.1,373.2 379.5,369.8 378.9,373.7 378.3,369.1 377.7,369.1 377.1,370.4 376.5,372.7 375.9,371.5 375.3,370.9 374.7,369.9 374.1,371.5 373.5,371.3 372.9,373.1 372.3,371.1 371.7,374.1 371.1,372.8 370.5,375.6 369.9,375.8 369.3,374.4 368.7,374.7 368.1,379.4 367.5,375.9 366.9,378.1 366.3,376.9 365.7,378.5 365.1,378.9 364.5,379.0 363.9,381.3 363.3,379.8 362.7,381.6 362.1,384.4 361.5,382.4 360.9,384.9 360.3,389.2 359.7,386.9 359.1,388.2 358.5,389.2 357.9,388.1 357.3,388.0 356.7,390.6 356.1,395.5 355.5,394.0 354.9,395.9 354.3,402.2 353.7,400.6 353.1,404.7 352.5,404.1 351.9,407.6 351.3,407.8 350.7,410.6 350.1,411.7 349.5,413.8 348.9,417.6 348.3,420.0 347.7,423.5 347.1,424.9 346.5,433.8 345.9,432.6 345.3,438.3 344.7,432.7 344.1,435.5 343.5,438.9 342.9,433.7 342.3,431.7 341.7,434.5 341.1,437.6 340.5,435.2 339.9,432.8 339.3,432.6 338.7,439.8 338.1,431.2 337.5,430.9 336.9,437.5 336.3,431.9 335.7,429.7 335.1,430.4 334.5,433.0 333.9,429.8 333.3,432.8 332.7,436.2 332.1,429.1 331.5,426.7 330.9,427.8 330.3,428.8 329.7,421.5 329.1,422.4 328.5,419.2 327.9,416.4 327.3,415.4 326.7,413.2 326.1,410.8 325.5,406.0 324.9,407.1 324.3,404.2 323.7,400.4 323.1,400.9 322.5,397.4 321.9,397.2 321.3,396.5 320.7,396.3 320.1,394.2 319.5,395.8 318.9,393.2 318.3,393.5 317.7,392.6 317.1,390.3 316.5,391.2 315.9,388.8 315.3,387.5 314.7,385.7 314.1,387.0 313.5,384.6 312.9,381.5 312.3,381.8 311.7,377.5 311.1,375.5 310.5,375.5 309.9,378.2 309.3,376.3 308.7,373.9 308.1,370.3 307.5,372.2 306.9,370.1 306.3,369.7 305.7,367.2 305.1,366.5 304.5,368.9 303.9,365.6 303.3,365.8 302.7,364.5 302.1,361.3 301.5,364.1 300.9,361.6 300.3,358.4 299.7,358.9 299.1,359.6 298.5,357.6 297.9,359.7 297.3,359.8 296.7,361.0 296.1,359.3 295.5,360.5 294.9,358.4 294.3,359.9 293.7,361.4 293.1,360.3 292.5,363.9 291.9,363.1 291.3,365.3 290.7,363.1 290.1,364.1 289.5,361.2 288.9,364.9 288.3,364.1 287.7,369.9 287.1,374.7 286.5,387.5 285.9,400.1 285.3,410.9 284.7,414.3 284.1,414.9 283.5,418.5 282.9,417.5 282.3,426.5 281.7,427.1 281.1,424.4 280.5,428.6 279.9,429.1 279.3,436.7 278.7,437.5 278.1,439.3 277.5,436.5 276.9,435.6 276.3,439.2 275.7,443.2 275.1,444.6 274.5,439.5 273.9,439.6 273.3,442.6 272.7,447.1 272.1,443.9 271.5,446.2 270.9,443.5 270.3,439.3 269.7,437.6 269.1,433.6 268.5,441.2 267.9,434.0 267.3,430.5 266.7,429.5 266.1,428.9 265.5,425.9 264.9,420.1 264.3,419.5 263.7,421.4 263.1,423.2 262.5,411.6 261.9,412.7 261.3,408.4 260.7,406.5 260.1,401.3 259.5,399.4 258.9,397.3 258.3,398.0 257.7,395.0 257.1,393.2 256.5,391.0 255.9,392.7 255.3,389.3 254.7,390.5 254.1,387.6 253.5,384.8 252.9,385.6 252.3,382.4 251.7,377.0 251.1,375.0 250.5,370.2 249.9,368.8 249.3,367.7 248.7,363.3 248.1,366.6 247.5,365.4 246.9,367.4 246.3,365.8 245.7,365.7 245.1,367.8 244.5,366.8 243.9,369.5 243.3,369.0 242.7,369.7 242.1,367.6 241.5,369.7 240.9,368.3 240.3,370.6 239.7,372.0 239.1,376.5 238.5,389.7 237.9,401.1 237.3,414.6 236.7,416.5 236.1,420.8 235.5,420.3 234.9,425.9 234.3,421.9 233.7,427.1 233.1,428.0 232.5,428.3 231.9,428.9 231.3,434.7 230.7,439.1 230.1,438.3 229.5,444.8 228.9,449.6 228.3,445.6 227.7,438.7 227.1,441.6 226.5,436.5 225.9,438.9 225.3,433.1 224.7,435.8 224.1,436.0 223.5,431.0 222.9,437.4 222.3,430.9 221.7,432.3 221.1,431.8 220.5,426.1 219.9,431.3 219.3,428.3 218.7,419.4 218.1,416.4 217.5,411.8 216.9,409.6 216.3,409.1 215.7,404.1 215.1,404.3 214.5,400.8 213.9,397.8 213.3,398.9 212.7,397.3 212.1,397.8 211.5,398.2 210.9,396.3 210.3,396.6 209.7,396.0 209.1,394.9 208.5,396.9 207.9,396.6 207.3,396.2 206.7,398.2 206.1,397.8 205.5,398.5 204.9,400.3 204.3,406.7 203.7,409.0 203.1,412.4 202.5,413.1 201.9,421.2 201.3,418.1 200.7,421.8 200.1,420.9 199.5,424.4 198.9,421.2 198.3,422.3 197.7,426.1 197.1,422.2 196.5,426.0 195.9,421.1 195.3,427.7 194.7,419.5 194.1,420.2 193.5,419.9 192.9,423.3 192.3,424.7 191.7,420.0 191.1,422.8 190.5,412.4 189.9,407.0 189.3,399.7 188.7,396.2 188.1,389.4 187.5,386.4 186.9,385.0 186.3,382.6 185.7,383.8 185.1,387.2 184.5,392.7 183.9,396.2 183.3,401.5 182.7,406.9 182.1,415.1 181.5,416.5 180.9,420.3 180.3,420.6 179.7,429.0 179.1,425.9 178.5,426.8 177.9,425.5 177.3,428.7 176.7,436.8 176.1,431.8 175.5,432.1 174.9,436.1 174.3,441.6 173.7,435.6 173.1,435.8 172.5,437.6 171.9,448.1 171.3,444.1 170.7,441.2 170.1,444.9 169.5,441.8 168.9,447.5 168.3,446.8 167.7,443.6 167.1,447.8 166.5,447.0 165.9,441.4 165.3,454.0 164.7,442.6 164.1,449.8 163.5,441.6 162.9,442.0" fill="#A6DFDE"/>
<polygon points="162.9,406.5 163.5,403.3 164.1,405.5 164.7,406.2 165.3,404.9 165.9,406.1 166.5,405.5 167.1,407.2 167.7,405.6 168.3,401.4 168.9,405.4 169.5,400.9 170.1,405.2 170.7,405.2 171.3,399.6 171.9,402.4 172.5,403.1 173.1,402.4 173.7,399.0 174.3,399.1 174.9,399.9 175.5,402.6 176.1,395.4 176.7,400.8 177.3,399.8 177.9,393.4 178.5,392.8 179.1,396.1 179.7,394.8 180.3,396.1 180.9,395.7 181.5,393.6 182.1,390.6 182.7,389.1 183.3,386.7 183.9,380.5 184.5,376.2 185.1,372.6 185.7,366.8 186.3,366.5 186.9,366.8 187.5,370.1 188.1,376.5 188.7,382.0 189.3,386.5 189.9,388.9 190.5,391.1 191.1,395.0 191.7,396.1 192.3,393.7 192.9,396.2 193.5,394.9 194.1,395.1 194.7,394.9 195.3,391.8 195.9,393.2 196.5,396.8 197.1,397.0 197.7,394.9 198.3,395.8 198.9,396.3 199.5,397.3 200.1,397.7 200.7,396.3 201.3,391.8 201.9,393.2 202.5,393.2 203.1,389.9 203.7,391.0 204.3,388.5 204.9,387.7 205.5,386.4 206.1,385.2 206.7,383.6 207.3,382.5 207.9,381.7 208.5,381.3 209.1,382.5 209.7,381.8 210.3,383.1 210.9,383.9 211.5,384.3 212.1,384.8 212.7,385.3 213.3,385.1 213.9,385.9 214.5,385.6 215.1,388.1 215.7,389.3 216.3,390.7 216.9,391.2 217.5,390.6 218.1,393.8 218.7,395.0 219.3,396.5 219.9,393.9 220.5,396.6 221.1,400.5 221.7,398.6 222.3,400.2 222.9,400.2 223.5,400.8 224.1,402.6 224.7,399.9 225.3,402.3 225.9,404.1 226.5,404.4 227.1,405.3 227.7,403.3 228.3,400.4 228.9,399.7 229.5,404.5 230.1,400.6 230.7,403.2 231.3,402.7 231.9,396.9 232.5,401.3 233.1,399.0 233.7,398.2 234.3,396.7 234.9,396.0 235.5,394.5 236.1,393.7 236.7,393.3 237.3,393.1 237.9,384.1 238.5,369.6 239.1,356.0 239.7,349.4 240.3,348.1 240.9,347.1 241.5,349.2 242.1,347.4 242.7,347.4 243.3,347.9 243.9,345.7 244.5,344.8 245.1,346.4 245.7,345.8 246.3,345.6 246.9,344.2 247.5,344.2 248.1,342.8 248.7,342.3 249.3,346.2 249.9,348.7 250.5,351.6 251.1,355.1 251.7,357.8 252.3,361.8 252.9,365.3 253.5,368.9 254.1,369.5 254.7,371.7 255.3,374.0 255.9,375.0 256.5,375.0 257.1,378.9 257.7,380.7 258.3,382.5 258.9,384.9 259.5,386.6 260.1,387.9 260.7,390.3 261.3,391.1 261.9,393.1 262.5,393.2 263.1,395.5 263.7,396.0 264.3,397.6 264.9,393.8 265.5,398.0 266.1,398.4 266.7,399.3 267.3,400.8 267.9,400.9 268.5,404.0 269.1,405.9 269.7,400.5 270.3,405.5 270.9,407.5 271.5,409.8 272.1,408.5 272.7,408.1 273.3,405.9 273.9,405.1 274.5,403.9 275.1,401.2 275.7,406.6 276.3,405.8 276.9,404.8 277.5,404.2 278.1,403.7 278.7,401.9 279.3,399.4 279.9,398.8 280.5,396.9 281.1,400.1 281.7,398.6 282.3,396.8 282.9,396.3 283.5,393.9 284.1,394.8 284.7,393.5 285.3,392.0 285.9,387.0 286.5,373.8 287.1,357.3 287.7,345.0 288.3,342.9 288.9,342.2 289.5,342.1 290.1,340.6 290.7,339.0 291.3,339.6 291.9,340.6 292.5,340.0 293.1,340.0 293.7,336.9 294.3,336.1 294.9,337.9 295.5,337.7 296.1,335.7 296.7,336.6 297.3,335.8 297.9,335.5 298.5,335.0 299.1,335.4 299.7,334.7 300.3,335.9 300.9,337.7 301.5,337.5 302.1,340.7 302.7,341.5 303.3,343.0 303.9,344.1 304.5,344.9 305.1,346.6 305.7,347.7 306.3,349.1 306.9,349.4 307.5,348.8 308.1,348.7 308.7,353.0 309.3,353.1 309.9,355.4 310.5,354.8 311.1,358.9 311.7,358.4 312.3,361.7 312.9,363.7 313.5,365.0 314.1,368.2 314.7,368.2 315.3,371.6 315.9,371.1 316.5,374.8 317.1,375.7 317.7,376.7 318.3,378.0 318.9,379.5 319.5,380.5 320.1,381.1 320.7,381.2 321.3,383.1 321.9,382.6 322.5,385.3 323.1,385.0 323.7,387.8 324.3,388.5 324.9,387.4 325.5,389.2 326.1,390.7 326.7,391.0 327.3,393.0 327.9,393.9 328.5,394.9 329.1,393.2 329.7,397.3 330.3,397.0 330.9,398.0 331.5,399.6 332.1,399.3 332.7,401.1 333.3,401.3 333.9,398.4 334.5,399.6 335.1,399.3 335.7,399.9 336.3,399.8 336.9,397.5 337.5,401.2 338.1,396.0 338.7,396.9 339.3,400.6 339.9,399.9 340.5,401.3 341.1,400.6 341.7,398.2 342.3,400.4 342.9,401.5 343.5,398.3 344.1,400.0 344.7,400.9 345.3,398.0 345.9,399.1 346.5,394.0 347.1,396.3 347.7,392.1 348.3,395.0 348.9,393.8 349.5,391.7 350.1,391.1 350.7,390.0 351.3,388.9 351.9,387.8 352.5,386.5 353.1,386.0 353.7,383.7 354.3,382.1 354.9,376.1 355.5,377.6 356.1,375.6 356.7,372.7 357.3,371.5 357.9,369.9 358.5,369.3 359.1,368.0 359.7,367.9 360.3,366.3 360.9,360.3 361.5,363.8 362.1,361.6 362.7,362.4 363.3,356.2 363.9,360.3 364.5,359.8 365.1,358.9 365.7,357.6 366.3,356.4 366.9,357.3 367.5,356.4 368.1,355.8 368.7,354.5 369.3,352.6 369.9,352.1 370.5,353.2 371.1,352.5 371.7,346.4 372.3,349.7 372.9,349.7 373.5,349.7 374.1,348.8 374.7,346.8 375.3,347.7 375.9,349.5 376.5,349.3 377.1,347.3 377.7,348.9 378.3,347.4 378.9,348.5 379.5,348.8 380.1,347.5 380.7,349.9 381.3,350.2 381.9,347.4 382.5,350.7 383.1,347.7 383.7,350.6 384.3,348.8 384.9,347.2 385.5,349.3 386.1,349.3 386.7,352.7 387.3,350.8 387.9,353.4 388.5,352.7 389.1,355.1 389.7,354.9 390.3,353.5 390.9,353.8 391.5,357.2 392.1,357.3 392.7,358.2 393.3,358.5 393.9,358.1 394.5,359.4 395.1,358.1 395.7,358.4 396.3,360.5 396.9,359.1 397.5,361.4 398.1,361.9 398.7,361.2 399.3,363.5 399.9,362.6 400.5,364.6 401.1,364.6 401.7,365.6 402.3,366.6 402.9,367.7 403.5,367.5 404.1,368.7 404.7,368.7 405.3,369.2 405.9,369.7 406.5,370.7 407.1,371.0 407.7,371.8 408.3,371.1 408.9,373.0 409.5,371.5 410.1,371.7 410.7,374.5 411.3,375.8 411.9,377.0 412.5,375.8 413.1,378.5 413.7,373.1 414.3,379.6 414.9,380.4 415.5,381.8 416.1,382.8 416.7,376.9 417.3,383.8 417.9,384.4 418.5,384.9 419.1,384.7 419.7,385.0 420.3,385.4 420.9,385.5 421.5,384.6 422.1,385.1 422.7,385.8 423.3,387.1 423.9,387.2 424.5,385.8 425.1,387.3 425.7,388.3 426.3,385.8 426.9,388.2 427.5,388.7 428.1,388.5 428.7,389.5 429.3,389.2 429.9,389.7 430.5,390.1 431.1,389.1 431.7,391.0 432.3,390.8 432.9,388.2 433.5,390.0 434.1,391.1 434.7,392.0 435.3,391.3 435.9,392.9 436.5,389.0 437.1,393.6 437.7,392.6 438.3,390.3 438.9,394.7 439.5,396.0 440.1,396.2 440.7,396.0 441.3,395.8 441.9,397.0 442.5,395.2 443.1,397.4 443.7,395.0 444.3,396.9 444.9,393.9 445.5,395.5 446.1,394.4 446.7,392.6 447.3,394.8 447.9,393.5 448.5,393.8 449.1,391.9 449.7,392.0 450.3,390.8 450.9,390.4 451.5,393.7 452.1,393.6 452.7,394.1 453.3,389.2 453.9,392.0 454.5,390.6 455.1,390.2 455.7,394.8 456.3,394.9 456.9,394.3 457.5,390.8 458.1,394.8 458.7,394.8 459.3,393.9 459.9,394.2 460.5,395.5 461.1,394.5 461.7,391.9 462.3,392.7 462.9,395.9 463.5,395.3 464.1,392.3 464.7,390.2 465.3,392.4 465.9,394.1 466.5,392.2 467.1,391.7 467.7,391.0 468.3,390.6 468.9,391.4 469.5,388.6 470.1,388.9 470.7,390.5 471.3,390.3 471.9,390.5 472.5,390.1 473.1,390.1 473.7,388.5 474.3,387.3 474.9,386.9 475.5,386.1 476.1,379.4 476.7,384.7 477.3,383.0 477.9,381.9 478.5,379.0 479.1,374.3 479.7,370.3 480.3,374.4 480.9,373.4 481.5,371.0 482.1,369.5 482.7,368.3 483.3,367.2 483.9,361.5 484.5,364.5 485.1,363.1 485.7,362.1 486.3,360.3 486.9,359.1 487.5,358.7 488.1,357.7 488.7,354.9 489.3,354.0 489.9,348.8 490.5,349.7 491.1,342.7 491.7,344.7 492.3,337.4 492.9,341.1 493.5,338.8 494.1,336.0 494.7,335.9 495.3,334.9 495.9,335.4 496.5,334.4 497.1,334.5 497.7,328.6 498.3,333.0 498.9,331.2 499.5,329.3 500.1,330.7 500.7,329.8 501.3,329.3 501.9,328.8 502.5,325.4 503.1,328.4 503.7,325.9 504.3,328.1 504.9,326.5 505.5,326.8 506.1,324.3 506.7,326.1 507.3,324.6 507.9,324.9 508.5,325.0 509.1,325.7 509.7,324.0 510.3,325.3 510.9,322.1 511.5,324.8 512.1,323.1 512.7,324.9 513.3,322.9 513.9,321.4 514.5,320.1 515.1,321.6 515.7,321.0 516.3,322.3 516.9,320.5 517.5,322.3 518.1,323.0 518.7,321.2 519.3,321.8 519.9,324.4 520.5,324.8 521.1,324.3 521.7,324.1 522.3,322.0 522.9,325.6 523.5,323.1 524.1,325.8 524.7,325.8 525.3,323.1 525.9,324.3 526.5,325.3 527.1,324.1 527.7,324.6 528.3,324.4 528.9,325.3 529.5,325.3 530.1,327.4 530.7,328.6 531.3,329.2 531.9,328.0 532.5,328.3 533.1,331.4 533.7,332.7 534.3,331.5 534.9,334.1 535.5,331.6 536.1,338.2 536.7,339.5 537.3,338.2 537.9,336.9 538.5,332.4 539.1,334.7 539.7,342.2 540.3,343.9 540.9,334.3 541.5,339.3 542.1,335.5 542.7,347.2 543.3,347.9 543.9,348.9 544.5,344.7 545.1,349.7 545.7,348.5 546.3,353.9 546.9,355.2 547.5,355.3 548.1,357.4 548.7,351.2 549.3,360.1 549.9,361.3 550.5,359.2 551.1,355.8 551.7,358.5 552.3,362.7 552.9,362.8 553.5,364.8 554.1,365.8 554.7,366.5 555.3,366.8 555.9,364.7 556.5,362.1 557.1,360.8 557.7,368.0 558.3,365.6 558.9,367.0 559.5,364.9 560.1,372.4 560.7,371.4 561.3,362.5 561.9,372.4 562.5,371.8 563.1,372.3 563.7,369.1 564.3,367.2 564.9,370.2 565.5,367.3 566.1,368.7 566.7,368.4 567.3,367.3 567.9,365.7 568.5,363.8 569.1,356.0 569.7,361.6 570.3,364.2 570.9,363.5 571.5,363.0 572.1,362.1 572.7,361.2 573.3,360.6 573.9,362.0 574.5,358.8 575.1,361.0 575.7,360.5 576.3,359.1 576.9,359.4 577.5,359.3 578.1,359.6 578.7,362.6 579.3,362.1 579.9,352.1 580.5,352.2 581.1,360.3 581.7,361.8 582.3,358.9 582.9,361.5 583.5,359.5 584.1,361.6 584.7,362.4 585.3,354.3 585.9,357.2 586.5,366.5 587.1,367.6 587.7,369.5 588.3,365.5 588.9,369.8 589.5,368.5 590.1,367.1 590.7,377.1 591.3,374.9 591.9,367.3 592.5,366.6 593.1,358.2 593.7,360.2 594.3,353.8 594.9,353.5 595.5,348.8 596.1,340.3 596.7,347.3 597.3,347.4 597.9,347.1 598.5,346.0 599.1,345.6 599.7,345.0 600.3,344.9 600.9,344.9 601.5,341.0 602.1,340.1 602.7,343.6 603.3,342.4 603.9,342.3 604.5,341.7 605.1,344.4 605.7,345.1 606.3,345.0 606.9,342.8 607.5,338.0 608.1,346.3 608.7,341.4 609.3,355.2 609.9,359.2 610.5,364.1 611.1,358.6 611.7,373.1 612.3,375.6 612.9,370.0 613.5,362.6 614.1,357.5 614.7,358.8 615.3,355.4 615.9,355.3 616.5,355.8 617.1,354.8 617.7,348.0 618.3,344.6 618.9,351.3 619.5,350.4 620.1,347.9 620.7,348.8 621.3,350.9 621.9,344.1 622.5,347.1 623.1,348.2 623.7,347.6 624.3,344.0 624.9,355.8 625.5,351.3 626.1,357.2 626.7,353.1 627.3,349.0 627.9,356.4 628.5,358.2 629.1,361.4 629.7,354.8 630.3,362.6 630.9,360.9 631.5,362.7 632.1,364.5 632.7,365.0 633.3,365.6 633.9,356.7 634.5,366.6 635.1,368.9 635.7,368.1 636.3,370.0 636.9,371.9 637.5,369.8 638.1,370.0 638.7,371.6 639.3,375.6 639.9,377.5 640.5,377.6 641.1,373.6 641.7,381.5 642.3,372.0 642.9,382.8 643.5,373.1 644.1,383.3 644.7,376.1 645.3,373.3 645.9,382.3 646.5,378.3 647.1,384.7 647.7,385.4 648.3,380.1 648.9,381.3 649.5,376.7 650.1,385.4 650.7,388.0 651.3,388.1 651.9,379.4 652.5,389.4 653.1,389.8 653.7,390.2 654.3,379.7 654.9,381.9 655.5,391.5 656.1,391.7 656.7,389.0 657.3,389.4 657.9,392.3 658.5,392.7 659.1,392.2 659.7,388.4 660.3,387.0 660.9,382.3 661.5,393.2 662.1,387.1 662.7,382.5 663.3,391.9 663.9,391.8 664.5,390.3 665.1,392.3 665.7,393.0 666.3,392.1 666.9,391.7 667.5,385.7 668.1,392.8 668.7,392.6 669.3,390.0 669.9,392.4 670.5,393.3 671.1,393.8 671.7,392.1 672.3,394.7 672.9,394.8 673.5,394.9 674.1,391.0 674.7,390.5 675.3,383.5 675.9,392.7 676.5,391.6 677.1,392.7 677.7,392.1 678.3,391.9 678.9,391.3 679.5,388.1 680.1,390.0 680.7,383.9 681.3,389.9 681.9,387.8 682.5,388.5 683.1,390.2 683.7,386.8 684.3,389.6 684.9,384.2 685.5,385.7 686.1,387.5 686.7,386.4 687.3,388.8 687.9,386.0 688.5,381.2 689.1,384.1 689.7,384.4 690.3,385.3 690.9,384.3 691.5,381.3 692.1,379.2 692.7,381.6 693.3,376.9 693.9,373.8 694.5,376.8 695.1,377.1 695.7,375.4 696.3,374.2 696.9,374.4 697.5,370.7 698.1,374.4 698.7,373.0 699.3,371.6 699.9,370.2 700.5,357.7 701.1,366.2 701.7,365.1 702.3,362.0 702.9,363.0 703.5,360.7 704.1,358.7 704.7,350.1 705.3,329.7 705.9,327.3 706.5,331.7 707.1,331.0 707.7,327.2 708.3,328.0 708.9,325.4 709.5,331.2 710.1,330.9 710.7,318.5 711.3,330.2 711.9,330.4 712.5,328.6 713.1,328.4 713.7,320.2 714.3,329.7 714.9,329.4 715.5,328.6 716.1,322.6 716.7,328.7 717.3,327.0 717.9,327.4 718.5,328.7 719.1,327.4 719.7,327.5 720.3,324.9 720.9,328.3 721.5,328.1 722.1,319.6 722.7,327.6 723.3,326.7 723.9,324.8 724.5,322.7 725.1,326.8 725.7,325.2 726.3,326.7 726.9,321.3 727.5,316.6 728.1,326.4 728.7,325.3 729.3,325.1 729.9,326.0 730.5,326.1 731.1,325.5 731.7,326.0 732.3,323.4 732.9,324.8 733.5,324.5 734.1,324.0 734.7,323.8 735.3,320.3 735.9,316.8 736.5,315.6 737.1,323.1 737.7,322.7 738.3,322.4 738.9,322.5 739.5,320.6 740.1,322.1 740.7,321.4 741.3,318.9 741.9,317.6 742.5,309.7 743.1,311.4 743.7,303.9 744.3,301.5 744.9,296.0 745.5,286.0 746.1,276.8 746.7,277.5 747.3,271.6 747.9,282.7 748.5,285.3 749.1,287.9 749.7,289.6 750.3,277.6 750.9,288.5 751.5,292.8 752.1,290.2 752.7,291.7 753.3,293.3 753.9,296.3 754.5,300.7 755.1,296.8 755.7,301.8 756.3,299.6 756.9,295.9 757.5,298.3 758.1,296.1 758.7,300.7 759.3,302.3 759.9,296.0 760.5,301.5 761.1,299.5 761.7,299.6 762.3,299.3 762.9,302.7 763.5,301.7 764.1,302.7 764.7,300.9 765.3,300.7 765.9,299.6 766.5,297.7 767.1,297.2 767.7,302.2 768.3,290.7 768.9,303.9 769.5,304.4 770.1,303.7 770.7,294.4 771.3,302.4 771.9,306.9 772.5,308.8 773.1,309.0 773.7,309.3 774.3,309.9 774.9,307.7 775.5,310.7 776.1,313.5 776.7,314.6 777.3,312.9 777.9,303.3 778.5,308.1 779.1,311.3 779.7,317.6 780.3,314.9 780.9,317.9 781.5,319.3 782.1,319.1 782.7,320.9 783.3,311.6 783.9,319.1 784.5,322.4 785.1,323.0 785.7,312.6 786.3,325.2 786.9,326.7 787.5,322.8 788.1,325.1 788.7,328.0 789.3,330.0 789.9,329.6 790.5,329.4 791.1,327.6 791.7,331.3 792.3,327.2 792.9,330.0 793.5,325.7 794.1,333.4 794.7,327.1 795.3,333.3 795.9,334.6 796.5,334.9 797.1,334.0 797.7,323.4 798.3,325.8 798.9,335.9 799.5,337.4 800.1,338.0 800.7,336.5 801.3,329.3 801.9,339.2 802.5,327.8 803.1,340.4 803.7,335.7 804.3,340.1 804.9,340.2 805.5,340.9 806.1,343.4 806.7,331.7 807.3,337.6 807.9,339.0 808.5,345.2 809.1,339.7 809.7,345.9 810.3,343.2 810.9,336.1 811.5,338.3 812.1,346.9 812.7,348.7 813.3,340.4 813.9,349.3 814.5,346.2 815.1,349.7 815.7,348.4 816.3,350.3 816.9,346.2 817.5,345.7 818.1,350.2 818.7,344.5 819.3,352.0 819.9,352.3 820.5,351.8 821.1,348.4 821.7,349.5 822.3,348.9 822.9,352.1 823.5,354.7 824.1,349.5 824.7,355.2 825.3,355.3 825.9,353.8 826.5,356.4 827.1,356.7 827.7,355.0 828.3,347.9 828.9,353.4 829.5,359.0 830.1,359.3 830.7,357.9 831.3,359.8 831.9,359.8 832.5,359.9 833.1,359.9 833.7,360.7 834.3,359.7 834.9,350.9 835.5,351.2 836.1,362.8 836.7,357.0 837.3,356.5 837.9,363.2 838.5,363.5 839.1,363.8 839.7,364.5 840.3,362.0 840.9,357.2 841.5,364.4 842.1,365.3 842.7,356.9 843.3,361.0 843.9,363.8 844.5,365.4 845.1,362.7 845.7,358.5 846.3,366.8 846.9,359.6 847.5,365.3 848.1,367.1 848.7,367.0 849.3,356.4 849.9,366.9 850.5,366.9 851.1,369.0 851.7,369.1 852.3,366.6 852.9,360.6 853.5,370.7 854.1,369.7 854.7,369.6 855.3,367.0 855.9,371.8 856.5,370.6 857.1,372.1 857.7,369.0 858.3,361.2 858.9,371.9 859.5,363.0 860.1,372.6 860.7,374.1 861.3,374.3 861.9,362.8 862.5,363.6 863.1,368.3 863.7,373.0 864.3,375.1 864.9,371.0 865.5,376.0 866.1,364.9 866.7,374.3 867.3,376.3 867.9,364.7 868.5,374.3 869.1,374.0 869.7,366.9 870.3,377.1 870.9,373.6 871.5,376.9 872.1,376.4 872.7,377.1 873.3,375.5 873.9,375.8 874.5,378.0 875.1,366.4 875.7,378.3 876.3,378.4 876.9,367.0 877.5,374.9 878.1,378.6 878.7,379.0 879.3,379.3 879.9,379.2 880.5,379.5 881.1,379.7 881.7,378.4 882.3,377.3 882.9,374.5 883.5,379.7 884.1,377.2 884.7,380.9 885.3,370.3 885.9,373.4 886.5,381.7 887.1,382.0 887.7,381.3 888.3,381.0 888.9,382.2 889.5,379.6 890.1,373.5 890.7,380.2 891.3,375.5 891.9,383.2 892.5,381.6 893.1,383.0 893.7,380.9 894.3,383.8 894.9,381.6 895.5,381.4 896.1,384.6 896.7,382.4 897.3,382.2 897.9,374.4 898.5,385.4 899.1,385.2 899.7,383.2 900.3,375.0 900.9,379.8 901.5,383.2 902.1,385.8 902.7,380.4 903.3,385.7 903.9,386.0 904.5,386.4 905.1,386.3 905.7,386.7 906.3,380.8 906.9,387.1 907.5,377.7 908.1,385.0 908.7,386.4 909.3,385.9 909.9,376.5 910.5,380.2 911.1,387.9 911.7,387.7 912.3,386.3 912.9,385.7 913.5,388.6 914.1,379.2 914.7,384.6 915.3,384.4 915.9,389.6 916.5,389.8 917.1,389.3 917.7,389.9 918.3,382.1 918.9,380.0 919.5,387.3 920.1,390.3 920.7,391.3 921.3,390.3 921.9,383.4 922.5,391.7 923.1,387.2 923.7,381.8 924.3,390.4 924.9,387.0 925.5,391.9 926.1,392.7 926.7,385.4 927.3,393.4 927.9,390.4 928.5,393.3 929.1,392.7 929.7,383.4 930.3,390.9 930.9,394.8 931.5,394.2 932.1,395.3 932.7,386.4 933.3,393.5 933.9,393.0 934.5,394.0 935.1,393.4 935.7,396.5 936.3,396.6 936.9,392.9 937.5,393.7 938.1,387.2 938.7,397.1 939.3,397.1 939.9,392.8 940.5,393.1 941.1,398.0 941.7,397.6 942.3,397.3 942.9,398.8 943.5,398.2 944.1,397.7 944.7,394.2 945.3,392.7 945.9,394.2 946.5,391.7 947.1,389.7 947.7,387.2 948.3,382.2 948.9,374.2 949.5,368.6 950.1,361.7 950.7,356.1 951.3,350.6 951.9,347.7 952.5,346.9 953.1,345.6 953.7,343.8 954.3,342.1 954.9,337.7 955.5,332.4 956.1,333.7 956.7,329.0 957.3,327.8 957.9,326.3 958.5,322.0 959.1,321.9 959.7,318.4 960.3,320.1 960.9,314.7 961.5,318.9 962.1,314.7 962.7,313.9 963.3,311.4 963.9,306.5 964.5,314.4 965.1,314.0 965.7,305.9 966.3,308.6 966.9,308.5 967.5,311.0 968.1,304.5 968.7,309.0 969.3,308.0 969.9,309.6 970.5,309.8 971.1,306.7 971.7,310.4 972.3,308.6 972.9,312.5 973.5,311.5 974.1,310.4 974.7,311.4 975.3,313.5 975.9,302.9 976.5,316.1 977.1,312.8 977.7,306.4 978.3,317.2 978.9,317.4 979.5,317.2 980.1,318.7 980.7,314.5 981.3,318.6 981.9,316.8 982.5,323.4 983.1,320.4 983.7,326.6 984.3,328.6 984.9,325.6 985.5,331.5 986.1,334.6 986.7,335.1 987.3,327.5 987.9,337.3 988.5,338.1 989.1,341.3 989.7,338.6 990.3,340.2 990.9,343.4 991.5,345.3 992.1,329.7 992.7,344.9 993.3,347.7 993.9,348.6 994.5,346.2 995.1,351.4 995.7,344.2 996.3,351.1 996.9,354.6 997.5,347.4 998.1,355.9 998.7,357.7 999.3,355.8 999.9,356.5 1000.5,362.1 1001.1,363.4 1001.7,364.8 1002.3,356.1 1002.9,365.1 1003.5,357.2 1004.1,357.0 1004.7,364.3 1005.3,358.8 1005.9,371.3 1006.5,370.3 1007.1,373.6 1007.7,365.6 1008.3,372.5 1008.9,372.4 1009.5,373.1 1010.1,373.4 1010.7,375.2 1011.3,376.0 1011.9,372.7 1012.5,377.4 1013.1,373.4 1013.7,370.3 1014.3,378.4 1014.9,379.4 1015.5,376.6 1016.1,373.8 1016.7,370.9 1017.3,367.9 1017.9,381.1 1018.5,375.8 1019.1,382.4 1019.7,373.7 1020.3,384.3 1020.9,371.9 1021.5,383.7 1022.1,385.2 1022.7,382.2 1023.3,374.0 1023.9,378.7 1024.5,382.6 1025.1,377.5 1025.7,384.5 1026.3,385.7 1026.9,378.5 1027.5,384.2 1028.1,379.8 1028.7,381.7 1029.3,385.6 1029.9,384.8 1030.5,387.8 1031.1,371.8 1031.7,341.8 1032.3,321.8 1032.9,319.4 1033.5,316.0 1034.1,306.1 1034.7,314.6 1035.3,309.0 1035.9,315.7 1036.5,302.0 1037.1,317.9 1037.7,320.4 1038.3,321.1 1038.9,310.2 1039.5,324.4 1040.1,311.0 1040.7,327.6 1041.3,328.4 1041.9,327.2 1042.5,322.6 1043.1,318.4 1043.7,324.3 1044.3,333.8 1044.9,328.9 1045.5,331.0 1046.1,336.9 1046.7,337.2 1047.3,334.9 1047.9,331.2 1048.5,337.9 1049.1,341.0 1049.7,338.4 1050.3,337.3 1050.9,339.9 1051.5,337.3 1052.1,345.1 1052.7,332.8 1053.3,337.4 1053.9,343.7 1054.5,346.7 1055.1,351.2 1055.7,345.7 1056.3,352.7 1056.9,349.5 1057.5,353.4 1058.1,347.1 1058.7,355.4 1059.3,357.1 1059.9,345.9 1060.5,351.9 1061.1,362.0 1061.7,362.6 1062.3,359.0 1062.9,359.0 1063.5,361.9 1064.1,363.2 1064.7,359.7 1065.3,366.4 1065.9,366.0 1066.5,367.0 1067.1,365.3 1067.7,361.1 1068.3,364.8 1068.9,362.5 1069.5,366.1 1070.1,370.4 1070.7,372.6 1071.3,375.2 1071.9,358.9 1072.5,370.6 1073.1,376.9 1073.7,365.9 1074.3,377.1 1074.9,379.1 1075.5,379.6 1076.1,378.9 1076.7,379.7 1077.3,357.6 1077.9,363.2 1078.5,364.7 1079.1,379.5 1079.7,380.7 1080.3,371.6 1080.9,355.2 1081.5,377.7 1082.1,375.2 1082.7,381.0 1083.3,379.6 1083.9,380.8 1084.5,376.1 1085.1,365.6 1085.7,354.1 1086.3,379.5 1086.9,378.2 1087.5,366.7 1088.1,379.4 1088.7,352.6 1089.3,360.3 1089.9,368.7 1090.5,374.5 1091.1,373.5 1091.7,376.5 1092.3,373.8 1092.9,375.0 1093.5,350.1 1094.1,375.2 1094.7,368.8 1095.3,375.7 1095.9,374.7 1096.5,348.9 1097.1,374.6 1097.7,348.6 1098.3,375.3 1098.9,367.8 1099.5,370.1 1100.1,373.4 1100.7,374.5 1101.3,376.1 1101.9,377.2 1102.5,377.6 1103.1,375.6 1103.7,366.9 1104.3,353.0 1104.9,372.7 1105.5,354.1 1106.1,374.0 1106.7,380.3 1107.3,381.7 1107.9,381.1 1108.5,379.7 1109.1,374.9 1109.7,379.9 1110.3,383.8 1110.9,384.5 1111.5,379.1 1112.1,379.2 1112.7,378.4 1113.3,384.3 1113.9,385.4 1114.5,383.9 1115.1,385.9 1115.7,386.5 1116.3,362.6 1116.9,386.4 1117.5,386.3 1118.1,386.5 1118.7,381.1 1119.3,377.8 1119.9,381.6 1120.5,380.1 1121.1,387.6 1121.7,385.9 1122.3,379.6 1122.9,388.3 1123.5,385.4 1124.1,384.3 1124.7,387.8 1125.3,380.9 1125.9,386.9 1126.5,386.6 1127.1,385.9 1127.7,386.5 1128.3,388.2 1128.9,389.6 1129.5,367.3 1130.1,384.5 1130.7,390.3 1131.3,390.1 1131.9,387.4 1132.5,390.9 1133.1,386.9 1133.7,380.2 1134.3,390.1 1134.9,381.0 1135.5,389.3 1136.1,388.0 1136.7,381.1 1137.3,389.3 1137.9,382.4 1138.5,372.9 1139.1,370.0 1139.7,387.0 1140.3,389.0 1140.9,392.6 1141.5,391.6 1142.1,392.0 1142.7,375.7 1143.3,383.8 1143.9,391.8 1144.5,389.2 1145.1,390.0 1145.7,393.4 1146.3,378.9 1146.9,392.4 1147.5,393.5 1148.1,388.7 1148.7,393.6 1149.3,393.3 1149.9,389.9 1150.5,387.1 1151.1,393.6 1151.7,388.4 1152.3,392.9 1152.9,390.8 1153.5,387.7 1154.1,387.4 1154.7,393.5 1155.3,391.5 1155.9,389.8 1156.5,391.1 1157.1,383.6 1157.7,378.4 1158.3,387.3 1158.9,387.5 1159.5,392.2 1160.1,389.6 1160.7,388.4 1161.3,393.9 1161.9,390.5 1162.5,391.8 1163.1,389.8 1163.7,393.8 1164.3,393.5 1164.9,393.7 1165.5,387.8 1166.1,394.2 1166.7,394.2 1167.3,392.0 1167.9,385.2 1168.5,389.2 1169.1,390.9 1169.7,394.4 1170.3,390.3 1170.9,393.0 1171.5,380.9 1172.1,389.8 1172.7,382.2 1173.3,393.2 1173.9,394.5 1174.5,390.5 1175.1,394.5 1175.7,394.4 1176.3,393.4 1176.9,383.5 1177.5,387.2 1178.1,382.1 1178.7,388.0 1179.3,381.9 1179.9,379.9 1180.5,386.9 1181.1,390.6 1181.7,393.7 1182.3,393.3 1182.9,392.6 1183.5,392.3 1184.1,394.0 1184.7,388.1 1184.7,420.8 1184.1,411.9 1183.5,412.1 1182.9,414.2 1182.3,416.2 1181.7,414.8 1181.1,411.9 1180.5,413.3 1179.9,411.9 1179.3,411.9 1178.7,411.8 1178.1,411.9 1177.5,413.0 1176.9,416.3 1176.3,411.8 1175.7,414.3 1175.1,412.9 1174.5,413.6 1173.9,415.9 1173.3,412.7 1172.7,414.2 1172.1,417.6 1171.5,412.5 1170.9,413.7 1170.3,413.5 1169.7,415.7 1169.1,412.5 1168.5,414.0 1167.9,415.3 1167.3,420.9 1166.7,414.3 1166.1,417.1 1165.5,411.5 1164.9,414.9 1164.3,416.9 1163.7,412.0 1163.1,415.1 1162.5,411.7 1161.9,411.5 1161.3,412.8 1160.7,412.7 1160.1,412.0 1159.5,421.0 1158.9,412.8 1158.3,414.2 1157.7,411.4 1157.1,412.4 1156.5,414.6 1155.9,413.7 1155.3,411.5 1154.7,412.1 1154.1,412.4 1153.5,411.4 1152.9,411.3 1152.3,418.8 1151.7,411.3 1151.1,421.0 1150.5,411.3 1149.9,414.3 1149.3,414.6 1148.7,416.4 1148.1,413.2 1147.5,411.9 1146.9,416.1 1146.3,411.4 1145.7,412.0 1145.1,412.9 1144.5,417.5 1143.9,413.8 1143.3,414.9 1142.7,411.1 1142.1,410.8 1141.5,413.0 1140.9,410.6 1140.3,411.3 1139.7,410.4 1139.1,411.0 1138.5,416.4 1137.9,420.1 1137.3,413.4 1136.7,410.7 1136.1,410.2 1135.5,410.6 1134.9,410.4 1134.3,412.6 1133.7,409.3 1133.1,409.2 1132.5,410.8 1131.9,410.3 1131.3,409.0 1130.7,410.5 1130.1,409.3 1129.5,411.8 1128.9,410.8 1128.3,418.0 1127.7,411.8 1127.1,417.0 1126.5,411.6 1125.9,407.2 1125.3,407.3 1124.7,407.3 1124.1,406.9 1123.5,408.6 1122.9,414.5 1122.3,407.0 1121.7,406.2 1121.1,408.6 1120.5,408.0 1119.9,411.0 1119.3,410.0 1118.7,412.0 1118.1,408.9 1117.5,406.6 1116.9,407.5 1116.3,405.4 1115.7,407.6 1115.1,408.6 1114.5,410.4 1113.9,407.1 1113.3,404.4 1112.7,407.4 1112.1,403.5 1111.5,406.2 1110.9,406.2 1110.3,403.4 1109.7,402.0 1109.1,401.5 1108.5,404.5 1107.9,404.9 1107.3,401.2 1106.7,400.0 1106.1,409.9 1105.5,407.9 1104.9,400.5 1104.3,397.7 1103.7,400.8 1103.1,396.8 1102.5,404.1 1101.9,405.2 1101.3,399.9 1100.7,402.5 1100.1,395.5 1099.5,398.3 1098.9,394.8 1098.3,396.0 1097.7,395.6 1097.1,398.3 1096.5,403.1 1095.9,403.3 1095.3,395.3 1094.7,395.4 1094.1,395.4 1093.5,399.1 1092.9,398.4 1092.3,396.1 1091.7,397.0 1091.1,398.9 1090.5,400.2 1089.9,397.9 1089.3,398.8 1088.7,405.3 1088.1,399.3 1087.5,400.1 1086.9,407.9 1086.3,404.4 1085.7,401.1 1085.1,405.6 1084.5,405.3 1083.9,406.3 1083.3,401.4 1082.7,404.4 1082.1,402.4 1081.5,401.8 1080.9,403.9 1080.3,401.3 1079.7,404.0 1079.1,400.7 1078.5,403.1 1077.9,405.3 1077.3,402.0 1076.7,401.1 1076.1,402.0 1075.5,400.3 1074.9,402.3 1074.3,402.0 1073.7,404.2 1073.1,412.1 1072.5,408.4 1071.9,415.2 1071.3,403.3 1070.7,400.7 1070.1,403.4 1069.5,409.4 1068.9,399.1 1068.3,399.9 1067.7,401.6 1067.1,407.7 1066.5,404.5 1065.9,397.7 1065.3,397.6 1064.7,397.2 1064.1,411.5 1063.5,401.8 1062.9,399.3 1062.3,410.2 1061.7,396.6 1061.1,398.6 1060.5,408.6 1059.9,400.3 1059.3,400.1 1058.7,397.5 1058.1,413.7 1057.5,395.9 1056.9,395.2 1056.3,396.2 1055.7,396.3 1055.1,401.3 1054.5,388.6 1053.9,393.7 1053.3,409.7 1052.7,385.2 1052.1,391.4 1051.5,385.1 1050.9,405.5 1050.3,403.4 1049.7,388.3 1049.1,379.1 1048.5,378.7 1047.9,381.5 1047.3,379.0 1046.7,383.2 1046.1,375.7 1045.5,376.8 1044.9,381.5 1044.3,381.9 1043.7,374.1 1043.1,383.4 1042.5,371.4 1041.9,368.4 1041.3,378.7 1040.7,372.6 1040.1,373.8 1039.5,369.2 1038.9,383.8 1038.3,363.7 1037.7,361.4 1037.1,359.6 1036.5,362.0 1035.9,358.0 1035.3,370.5 1034.7,353.7 1034.1,373.0 1033.5,360.4 1032.9,359.1 1032.3,357.1 1031.7,376.1 1031.1,396.3 1030.5,413.9 1029.9,412.1 1029.3,409.7 1028.7,420.8 1028.1,413.5 1027.5,416.8 1026.9,416.4 1026.3,411.8 1025.7,417.8 1025.1,412.3 1024.5,416.2 1023.9,413.5 1023.3,416.1 1022.7,413.1 1022.1,412.5 1021.5,412.3 1020.9,415.5 1020.3,413.3 1019.7,411.3 1019.1,410.8 1018.5,419.7 1017.9,418.1 1017.3,422.8 1016.7,414.5 1016.1,409.3 1015.5,411.4 1014.9,410.9 1014.3,406.8 1013.7,406.8 1013.1,411.8 1012.5,415.8 1011.9,411.5 1011.3,410.5 1010.7,410.5 1010.1,404.1 1009.5,404.5 1008.9,412.4 1008.3,403.1 1007.7,403.5 1007.1,416.7 1006.5,402.5 1005.9,404.3 1005.3,407.5 1004.7,407.1 1004.1,410.3 1003.5,396.8 1002.9,397.7 1002.3,394.9 1001.7,396.2 1001.1,398.8 1000.5,397.6 999.9,395.1 999.3,395.1 998.7,403.8 998.1,389.1 997.5,390.6 996.9,385.8 996.3,383.6 995.7,392.3 995.1,382.7 994.5,381.8 993.9,386.8 993.3,383.1 992.7,383.4 992.1,386.8 991.5,385.9 990.9,373.1 990.3,380.9 989.7,380.6 989.1,372.8 988.5,369.9 987.9,372.0 987.3,368.5 986.7,366.0 986.1,369.0 985.5,361.9 984.9,360.7 984.3,365.0 983.7,366.9 983.1,355.9 982.5,352.1 981.9,354.0 981.3,348.7 980.7,346.4 980.1,345.1 979.5,347.8 978.9,344.7 978.3,345.1 977.7,346.4 977.1,347.4 976.5,341.4 975.9,342.1 975.3,341.9 974.7,341.4 974.1,341.1 973.5,344.9 972.9,341.8 972.3,338.2 971.7,337.4 971.1,340.7 970.5,338.0 969.9,336.1 969.3,340.5 968.7,334.1 968.1,337.8 967.5,337.7 966.9,335.0 966.3,336.9 965.7,338.9 965.1,336.9 964.5,340.1 963.9,339.1 963.3,341.9 962.7,342.3 962.1,341.5 961.5,341.2 960.9,341.4 960.3,341.9 959.7,344.2 959.1,345.4 958.5,346.4 957.9,350.4 957.3,354.5 956.7,353.3 956.1,359.8 955.5,360.6 954.9,361.1 954.3,362.3 953.7,366.4 953.1,367.3 952.5,368.3 951.9,370.3 951.3,373.1 950.7,375.9 950.1,379.9 949.5,386.7 948.9,392.0 948.3,397.6 947.7,406.1 947.1,406.9 946.5,409.0 945.9,408.3 945.3,408.7 944.7,410.1 944.1,410.7 943.5,413.0 942.9,418.1 942.3,417.1 941.7,413.5 941.1,414.5 940.5,420.5 939.9,414.4 939.3,427.0 938.7,413.9 938.1,415.5 937.5,413.5 936.9,413.2 936.3,420.2 935.7,414.7 935.1,420.9 934.5,412.6 933.9,418.3 933.3,412.2 932.7,412.3 932.1,421.8 931.5,414.5 930.9,415.0 930.3,411.3 929.7,412.3 929.1,415.3 928.5,410.9 927.9,411.2 927.3,412.5 926.7,412.6 926.1,409.9 925.5,412.5 924.9,411.2 924.3,409.2 923.7,409.2 923.1,409.1 922.5,415.3 921.9,410.5 921.3,414.5 920.7,412.2 920.1,408.9 919.5,407.7 918.9,408.2 918.3,409.1 917.7,411.5 917.1,407.5 916.5,406.6 915.9,418.9 915.3,412.3 914.7,406.1 914.1,414.3 913.5,406.2 912.9,407.4 912.3,405.5 911.7,406.0 911.1,405.3 910.5,405.0 909.9,404.8 909.3,406.2 908.7,414.3 908.1,405.3 907.5,405.5 906.9,414.3 906.3,406.8 905.7,403.9 905.1,407.2 904.5,411.3 903.9,403.6 903.3,413.8 902.7,404.9 902.1,405.3 901.5,403.4 900.9,403.1 900.3,405.6 899.7,402.9 899.1,402.7 898.5,402.7 897.9,404.2 897.3,405.0 896.7,402.8 896.1,408.2 895.5,402.9 894.9,407.4 894.3,401.5 893.7,404.3 893.1,401.2 892.5,404.9 891.9,401.1 891.3,408.8 890.7,402.6 890.1,400.4 889.5,403.4 888.9,405.6 888.3,399.7 887.7,401.1 887.1,399.4 886.5,400.7 885.9,399.1 885.3,400.3 884.7,398.6 884.1,406.9 883.5,403.2 882.9,398.8 882.3,399.5 881.7,410.8 881.1,401.9 880.5,397.3 879.9,407.6 879.3,407.5 878.7,397.3 878.1,396.6 877.5,400.0 876.9,400.6 876.3,410.8 875.7,398.7 875.1,400.3 874.5,396.4 873.9,407.2 873.3,397.9 872.7,396.1 872.1,395.2 871.5,398.8 870.9,403.9 870.3,402.6 869.7,394.7 869.1,396.1 868.5,397.8 867.9,395.8 867.3,396.7 866.7,394.2 866.1,395.9 865.5,394.3 864.9,402.1 864.3,393.5 863.7,394.1 863.1,405.0 862.5,400.3 861.9,393.3 861.3,392.7 860.7,395.1 860.1,392.1 859.5,393.2 858.9,391.6 858.3,406.1 857.7,391.6 857.1,397.5 856.5,394.4 855.9,399.0 855.3,398.3 854.7,389.5 854.1,389.9 853.5,389.2 852.9,388.6 852.3,388.6 851.7,393.4 851.1,387.6 850.5,387.3 849.9,393.2 849.3,386.7 848.7,389.9 848.1,394.2 847.5,387.4 846.9,385.9 846.3,386.7 845.7,385.4 845.1,385.4 844.5,384.9 843.9,384.6 843.3,385.4 842.7,386.6 842.1,391.8 841.5,393.7 840.9,388.0 840.3,388.4 839.7,383.5 839.1,383.1 838.5,386.5 837.9,395.0 837.3,382.2 836.7,383.0 836.1,382.1 835.5,382.8 834.9,383.2 834.3,391.6 833.7,381.6 833.1,380.2 832.5,380.3 831.9,379.6 831.3,390.3 830.7,384.8 830.1,382.5 829.5,379.4 828.9,387.2 828.3,394.6 827.7,376.9 827.1,377.4 826.5,380.6 825.9,377.5 825.3,375.2 824.7,375.1 824.1,383.0 823.5,377.3 822.9,374.8 822.3,377.1 821.7,372.9 821.1,381.8 820.5,384.2 819.9,372.2 819.3,371.6 818.7,371.3 818.1,373.4 817.5,370.8 816.9,372.4 816.3,381.8 815.7,381.4 815.1,376.3 814.5,374.5 813.9,370.2 813.3,368.9 812.7,371.0 812.1,372.3 811.5,376.3 810.9,367.5 810.3,370.7 809.7,366.7 809.1,371.2 808.5,377.0 807.9,369.5 807.3,371.5 806.7,366.2 806.1,375.6 805.5,376.3 804.9,372.9 804.3,363.0 803.7,371.1 803.1,362.0 802.5,368.9 801.9,363.4 801.3,364.1 800.7,359.3 800.1,371.2 799.5,360.5 798.9,358.8 798.3,361.3 797.7,359.8 797.1,365.6 796.5,356.5 795.9,364.0 795.3,357.2 794.7,356.2 794.1,354.2 793.5,357.4 792.9,353.9 792.3,353.3 791.7,365.0 791.1,361.2 790.5,353.7 789.9,352.1 789.3,355.4 788.7,350.9 788.1,350.4 787.5,352.2 786.9,348.3 786.3,348.6 785.7,347.0 785.1,346.3 784.5,348.6 783.9,345.4 783.3,348.2 782.7,346.0 782.1,355.9 781.5,341.0 780.9,340.4 780.3,340.6 779.7,363.2 779.1,347.9 778.5,338.4 777.9,338.7 777.3,343.6 776.7,340.0 776.1,351.8 775.5,339.4 774.9,337.9 774.3,335.3 773.7,333.8 773.1,342.8 772.5,339.6 771.9,341.0 771.3,340.3 770.7,328.5 770.1,343.6 769.5,336.0 768.9,326.7 768.3,326.1 767.7,333.0 767.1,325.8 766.5,327.0 765.9,337.3 765.3,336.3 764.7,336.3 764.1,325.5 763.5,332.3 762.9,335.3 762.3,331.4 761.7,330.0 761.1,325.3 760.5,326.9 759.9,350.9 759.3,325.3 758.7,330.4 758.1,335.1 757.5,325.3 756.9,326.4 756.3,325.1 755.7,328.0 755.1,325.9 754.5,351.1 753.9,325.7 753.3,327.4 752.7,328.8 752.1,321.2 751.5,319.7 750.9,323.2 750.3,316.8 749.7,315.9 749.1,334.4 748.5,314.3 747.9,326.5 747.3,310.7 746.7,308.9 746.1,322.2 745.5,323.6 744.9,326.5 744.3,337.0 743.7,340.4 743.1,342.0 742.5,346.0 741.9,350.3 741.3,350.4 740.7,351.6 740.1,352.9 739.5,354.3 738.9,353.0 738.3,353.3 737.7,354.0 737.1,357.7 736.5,357.7 735.9,358.5 735.3,357.6 734.7,357.8 734.1,361.1 733.5,359.0 732.9,360.6 732.3,361.7 731.7,361.9 731.1,363.3 730.5,365.0 729.9,363.6 729.3,365.0 728.7,362.9 728.1,364.1 727.5,363.0 726.9,365.2 726.3,366.5 725.7,365.1 725.1,364.2 724.5,364.7 723.9,365.4 723.3,365.9 722.7,367.1 722.1,365.8 721.5,367.4 720.9,369.5 720.3,366.4 719.7,368.5 719.1,374.7 718.5,368.4 717.9,371.1 717.3,367.7 716.7,370.7 716.1,371.7 715.5,368.9 714.9,374.9 714.3,370.8 713.7,372.1 713.1,371.2 712.5,382.4 711.9,371.4 711.3,372.0 710.7,372.6 710.1,372.7 709.5,372.7 708.9,373.8 708.3,375.3 707.7,374.2 707.1,373.8 706.5,377.4 705.9,375.2 705.3,375.6 704.7,377.6 704.1,375.3 703.5,375.8 702.9,377.1 702.3,384.0 701.7,379.8 701.1,382.4 700.5,383.9 699.9,385.5 699.3,391.0 698.7,395.4 698.1,398.6 697.5,398.1 696.9,393.7 696.3,394.3 695.7,394.4 695.1,398.6 694.5,395.1 693.9,401.2 693.3,403.8 692.7,407.9 692.1,408.3 691.5,402.7 690.9,410.6 690.3,401.3 689.7,407.4 689.1,407.0 688.5,409.5 687.9,414.5 687.3,410.6 686.7,405.0 686.1,406.9 685.5,405.7 684.9,407.7 684.3,405.6 683.7,412.9 683.1,416.4 682.5,410.2 681.9,407.0 681.3,411.7 680.7,408.1 680.1,406.9 679.5,407.8 678.9,408.3 678.3,408.1 677.7,408.4 677.1,414.8 676.5,412.3 675.9,409.5 675.3,410.6 674.7,411.6 674.1,411.4 673.5,412.0 672.9,412.0 672.3,410.8 671.7,413.3 671.1,415.2 670.5,411.2 669.9,413.6 669.3,421.5 668.7,420.0 668.1,417.5 667.5,413.1 666.9,410.3 666.3,420.9 665.7,410.0 665.1,420.8 664.5,416.6 663.9,411.7 663.3,409.6 662.7,410.6 662.1,410.1 661.5,409.8 660.9,409.8 660.3,414.1 659.7,411.0 659.1,409.3 658.5,409.4 657.9,416.5 657.3,408.4 656.7,414.6 656.1,408.3 655.5,408.0 654.9,410.3 654.3,410.6 653.7,407.2 653.1,407.1 652.5,405.7 651.9,407.1 651.3,404.4 650.7,408.5 650.1,411.5 649.5,403.7 648.9,403.6 648.3,405.5 647.7,402.2 647.1,403.1 646.5,401.9 645.9,404.8 645.3,400.8 644.7,410.9 644.1,400.7 643.5,402.7 642.9,407.5 642.3,401.9 641.7,403.7 641.1,397.6 640.5,402.0 639.9,395.8 639.3,393.4 638.7,398.6 638.1,393.9 637.5,400.1 636.9,398.9 636.3,387.6 635.7,390.4 635.1,387.1 634.5,394.9 633.9,382.9 633.3,384.7 632.7,382.0 632.1,382.6 631.5,381.7 630.9,379.6 630.3,384.6 629.7,382.4 629.1,384.1 628.5,377.6 627.9,380.3 627.3,380.5 626.7,383.4 626.1,374.4 625.5,372.6 624.9,382.1 624.3,381.8 623.7,372.1 623.1,370.3 622.5,368.9 621.9,370.5 621.3,374.5 620.7,367.8 620.1,366.3 619.5,367.5 618.9,375.8 618.3,368.6 617.7,370.6 617.1,372.7 616.5,374.0 615.9,384.7 615.3,385.1 614.7,376.8 614.1,378.8 613.5,384.8 612.9,392.6 612.3,394.6 611.7,401.9 611.1,385.4 610.5,386.6 609.9,379.3 609.3,374.8 608.7,369.4 608.1,367.6 607.5,365.8 606.9,363.6 606.3,366.8 605.7,362.2 605.1,360.8 604.5,361.1 603.9,358.9 603.3,364.6 602.7,368.1 602.1,361.7 601.5,361.9 600.9,363.5 600.3,361.8 599.7,368.6 599.1,369.5 598.5,362.6 597.9,368.6 597.3,363.6 596.7,365.8 596.1,369.8 595.5,367.2 594.9,370.9 594.3,380.0 593.7,387.2 593.1,388.5 592.5,382.5 591.9,387.4 591.3,391.4 590.7,400.2 590.1,398.6 589.5,392.0 588.9,392.4 588.3,388.0 587.7,386.8 587.1,393.8 586.5,383.7 585.9,382.5 585.3,380.5 584.7,384.4 584.1,380.4 583.5,379.6 582.9,380.3 582.3,383.0 581.7,383.1 581.1,379.1 580.5,379.1 579.9,379.0 579.3,384.8 578.7,379.6 578.1,379.9 577.5,380.4 576.9,378.4 576.3,378.2 575.7,378.2 575.1,378.3 574.5,378.3 573.9,381.9 573.3,379.6 572.7,378.0 572.1,378.5 571.5,379.0 570.9,380.5 570.3,388.0 569.7,385.2 569.1,381.4 568.5,382.1 567.9,385.9 567.3,385.3 566.7,384.3 566.1,387.5 565.5,392.8 564.9,386.8 564.3,389.0 563.7,389.0 563.1,395.1 562.5,399.7 561.9,399.5 561.3,390.1 560.7,391.0 560.1,398.4 559.5,393.4 558.9,397.7 558.3,386.7 557.7,387.7 557.1,391.0 556.5,390.3 555.9,385.2 555.3,383.2 554.7,383.1 554.1,391.0 553.5,381.2 552.9,387.0 552.3,380.2 551.7,379.7 551.1,384.1 550.5,385.1 549.9,377.2 549.3,386.5 548.7,375.1 548.1,381.9 547.5,377.3 546.9,376.3 546.3,370.0 545.7,368.8 545.1,367.9 544.5,371.4 543.9,367.9 543.3,368.1 542.7,365.4 542.1,362.5 541.5,362.0 540.9,363.0 540.3,365.2 539.7,359.7 539.1,363.4 538.5,363.5 537.9,357.6 537.3,358.6 536.7,355.3 536.1,353.6 535.5,360.3 534.9,354.4 534.3,352.8 533.7,355.4 533.1,351.6 532.5,350.6 531.9,348.6 531.3,353.3 530.7,348.1 530.1,348.9 529.5,349.6 528.9,347.3 528.3,345.6 527.7,344.8 527.1,346.3 526.5,345.6 525.9,348.0 525.3,345.6 524.7,345.9 524.1,344.0 523.5,347.2 522.9,345.6 522.3,347.6 521.7,344.2 521.1,343.3 520.5,344.8 519.9,343.5 519.3,344.4 518.7,346.6 518.1,343.0 517.5,344.5 516.9,343.5 516.3,344.3 515.7,346.1 515.1,342.4 514.5,343.8 513.9,345.9 513.3,344.3 512.7,342.5 512.1,343.3 511.5,347.9 510.9,344.0 510.3,345.5 509.7,347.0 509.1,345.8 508.5,347.4 507.9,344.7 507.3,346.8 506.7,345.0 506.1,345.5 505.5,346.3 504.9,348.7 504.3,346.4 503.7,347.3 503.1,350.2 502.5,350.5 501.9,347.3 501.3,347.4 500.7,349.6 500.1,348.2 499.5,350.7 498.9,349.6 498.3,353.7 497.7,351.2 497.1,352.3 496.5,354.1 495.9,353.1 495.3,357.6 494.7,354.8 494.1,354.8 493.5,356.0 492.9,360.6 492.3,363.2 491.7,366.2 491.1,364.4 490.5,367.3 489.9,370.1 489.3,371.1 488.7,372.8 488.1,373.6 487.5,375.0 486.9,376.3 486.3,382.3 485.7,377.8 485.1,380.2 484.5,379.8 483.9,381.0 483.3,383.6 482.7,383.6 482.1,385.3 481.5,386.3 480.9,388.2 480.3,389.1 479.7,391.4 479.1,392.4 478.5,394.0 477.9,396.3 477.3,399.3 476.7,398.7 476.1,399.5 475.5,401.0 474.9,402.4 474.3,405.2 473.7,406.2 473.1,407.1 472.5,408.6 471.9,407.1 471.3,407.3 470.7,408.7 470.1,409.1 469.5,413.6 468.9,410.3 468.3,412.8 467.7,411.2 467.1,411.5 466.5,412.1 465.9,416.0 465.3,413.5 464.7,417.5 464.1,417.0 463.5,416.9 462.9,416.3 462.3,419.8 461.7,417.6 461.1,419.2 460.5,419.7 459.9,416.3 459.3,418.3 458.7,417.5 458.1,418.7 457.5,420.1 456.9,414.1 456.3,415.9 455.7,414.4 455.1,413.4 454.5,419.0 453.9,418.2 453.3,415.5 452.7,417.0 452.1,415.0 451.5,412.9 450.9,412.2 450.3,413.7 449.7,416.0 449.1,411.6 448.5,417.7 447.9,412.8 447.3,414.0 446.7,414.2 446.1,417.0 445.5,420.1 444.9,417.1 444.3,417.6 443.7,420.2 443.1,417.7 442.5,419.1 441.9,420.8 441.3,420.8 440.7,423.5 440.1,417.7 439.5,417.2 438.9,415.6 438.3,417.2 437.7,414.0 437.1,413.4 436.5,411.3 435.9,411.4 435.3,409.7 434.7,411.0 434.1,412.5 433.5,410.3 432.9,408.3 432.3,408.4 431.7,407.1 431.1,406.9 430.5,410.3 429.9,407.0 429.3,408.3 428.7,405.4 428.1,405.6 427.5,405.6 426.9,405.0 426.3,405.1 425.7,407.8 425.1,404.3 424.5,402.6 423.9,402.1 423.3,401.5 422.7,400.3 422.1,399.7 421.5,399.9 420.9,399.6 420.3,398.6 419.7,399.0 419.1,398.6 418.5,398.7 417.9,398.0 417.3,398.1 416.7,398.6 416.1,395.9 415.5,397.0 414.9,394.9 414.3,395.3 413.7,392.7 413.1,391.9 412.5,392.5 411.9,390.4 411.3,390.2 410.7,392.5 410.1,388.6 409.5,389.4 408.9,386.5 408.3,386.1 407.7,385.5 407.1,385.5 406.5,385.2 405.9,385.0 405.3,385.9 404.7,383.7 404.1,384.7 403.5,382.6 402.9,383.9 402.3,381.2 401.7,383.8 401.1,380.0 400.5,380.2 399.9,379.9 399.3,378.1 398.7,377.9 398.1,377.1 397.5,376.7 396.9,377.7 396.3,376.0 395.7,375.0 395.1,375.7 394.5,375.0 393.9,374.8 393.3,373.7 392.7,375.7 392.1,373.0 391.5,373.0 390.9,375.1 390.3,371.7 389.7,371.0 389.1,370.2 388.5,371.4 387.9,369.0 387.3,369.1 386.7,368.8 386.1,369.9 385.5,368.1 384.9,368.6 384.3,366.8 383.7,367.3 383.1,367.7 382.5,366.4 381.9,366.7 381.3,366.5 380.7,368.0 380.1,369.5 379.5,365.5 378.9,369.3 378.3,365.6 377.7,365.2 377.1,366.6 376.5,368.5 375.9,366.4 375.3,366.2 374.7,366.5 374.1,365.5 373.5,366.3 372.9,366.4 372.3,366.5 371.7,367.3 371.1,367.4 370.5,369.9 369.9,370.9 369.3,370.1 368.7,370.7 368.1,375.8 367.5,372.2 366.9,373.7 366.3,372.7 365.7,374.6 365.1,374.9 364.5,375.8 363.9,377.0 363.3,376.6 362.7,377.7 362.1,378.6 361.5,379.5 360.9,381.2 360.3,385.9 359.7,382.7 359.1,383.5 358.5,383.5 357.9,384.1 357.3,385.3 356.7,387.5 356.1,392.3 355.5,391.1 354.9,393.4 354.3,398.7 353.7,397.3 353.1,401.5 352.5,400.9 351.9,402.5 351.3,403.4 350.7,405.7 350.1,407.6 349.5,409.3 348.9,410.8 348.3,415.0 347.7,417.1 347.1,417.4 346.5,425.7 345.9,423.3 345.3,428.4 344.7,424.7 344.1,427.8 343.5,429.4 342.9,425.3 342.3,423.1 341.7,426.1 341.1,423.2 340.5,423.3 339.9,423.2 339.3,425.2 338.7,428.9 338.1,423.9 337.5,423.7 336.9,423.4 336.3,424.3 335.7,422.9 335.1,421.1 334.5,424.4 333.9,421.4 333.3,423.1 332.7,426.5 332.1,420.1 331.5,419.1 330.9,417.8 330.3,421.9 329.7,416.1 329.1,414.9 328.5,413.9 327.9,409.9 327.3,409.0 326.7,406.7 326.1,407.3 325.5,402.3 324.9,401.1 324.3,401.2 323.7,397.6 323.1,397.6 322.5,395.0 321.9,394.8 321.3,393.7 320.7,393.6 320.1,390.8 319.5,392.5 318.9,390.3 318.3,389.5 317.7,388.3 317.1,387.5 316.5,387.0 315.9,384.3 315.3,383.7 314.7,381.7 314.1,381.8 313.5,381.7 312.9,378.3 312.3,377.8 311.7,374.4 311.1,372.2 310.5,371.9 309.9,372.7 309.3,371.3 308.7,369.9 308.1,366.1 307.5,366.4 306.9,365.4 306.3,364.5 305.7,363.3 305.1,361.7 304.5,362.4 303.9,361.6 303.3,361.5 302.7,357.8 302.1,357.4 301.5,356.4 300.9,355.4 300.3,353.9 299.7,352.2 299.1,354.0 298.5,352.5 297.9,352.9 297.3,354.5 296.7,353.0 296.1,354.5 295.5,355.3 294.9,354.3 294.3,354.3 293.7,354.8 293.1,356.4 292.5,356.6 291.9,358.0 291.3,359.1 290.7,356.8 290.1,357.8 289.5,357.2 288.9,360.2 288.3,359.0 287.7,362.4 287.1,371.4 286.5,384.8 285.9,397.8 285.3,406.8 284.7,409.3 284.1,408.8 283.5,412.7 282.9,412.1 282.3,419.2 281.7,420.1 281.1,418.1 280.5,421.8 279.9,421.5 279.3,429.0 278.7,423.1 278.1,424.6 277.5,428.8 276.9,427.0 276.3,426.3 275.7,431.3 275.1,430.3 274.5,429.1 273.9,430.3 273.3,432.3 272.7,435.8 272.1,434.5 271.5,434.2 270.9,431.9 270.3,428.9 269.7,427.8 269.1,425.5 268.5,425.9 267.9,426.4 267.3,421.8 266.7,420.5 266.1,420.9 265.5,414.6 264.9,413.0 264.3,413.3 263.7,411.2 263.1,413.7 262.5,407.1 261.9,405.6 261.3,404.1 260.7,403.4 260.1,398.6 259.5,396.6 258.9,394.6 258.3,393.2 257.7,391.6 257.1,390.0 256.5,388.1 255.9,389.6 255.3,386.4 254.7,387.0 254.1,384.7 253.5,381.9 252.9,379.6 252.3,376.1 251.7,373.4 251.1,369.9 250.5,366.7 249.9,364.6 249.3,363.9 248.7,359.1 248.1,362.7 247.5,361.8 246.9,360.3 246.3,361.1 245.7,361.1 245.1,362.6 244.5,362.2 243.9,362.1 243.3,362.8 242.7,365.4 242.1,363.8 241.5,365.3 240.9,363.8 240.3,364.5 239.7,364.8 239.1,372.9 238.5,386.0 237.9,397.9 237.3,410.1 236.7,410.9 236.1,411.1 235.5,412.5 234.9,415.0 234.3,414.0 233.7,416.8 233.1,422.0 232.5,419.4 231.9,421.0 231.3,426.2 230.7,430.2 230.1,428.6 229.5,431.9 228.9,431.7 228.3,431.8 227.7,429.1 227.1,427.9 226.5,427.5 225.9,429.0 225.3,425.4 224.7,426.4 224.1,426.0 223.5,422.8 222.9,430.4 222.3,423.1 221.7,420.6 221.1,424.5 220.5,419.1 219.9,422.1 219.3,420.9 218.7,413.7 218.1,410.3 217.5,406.9 216.9,404.8 216.3,405.9 215.7,400.0 215.1,400.5 214.5,396.2 213.9,395.2 213.3,395.9 212.7,395.0 212.1,395.3 211.5,395.9 210.9,393.7 210.3,394.3 209.7,392.5 209.1,391.9 208.5,393.4 207.9,393.2 207.3,393.4 206.7,395.3 206.1,394.9 205.5,395.8 204.9,397.7 204.3,400.7 203.7,404.3 203.1,406.8 202.5,407.6 201.9,413.5 201.3,411.5 200.7,416.0 200.1,414.9 199.5,416.8 198.9,414.8 198.3,414.9 197.7,418.2 197.1,414.4 196.5,415.6 195.9,414.6 195.3,416.5 194.7,413.9 194.1,413.0 193.5,414.4 192.9,413.6 192.3,413.9 191.7,413.2 191.1,417.2 190.5,407.6 189.9,403.0 189.3,396.8 188.7,392.7 188.1,386.8 187.5,383.6 186.9,381.0 186.3,377.9 185.7,380.0 185.1,384.3 184.5,388.4 183.9,393.2 183.3,397.7 182.7,402.5 182.1,409.4 181.5,410.3 180.9,414.9 180.3,415.1 179.7,420.0 179.1,419.4 178.5,417.7 177.9,419.0 177.3,420.3 176.7,422.4 176.1,423.6 175.5,424.7 174.9,428.1 174.3,429.5 173.7,427.4 173.1,427.8 172.5,427.4 171.9,436.4 171.3,434.1 170.7,430.7 170.1,432.8 169.5,431.1 168.9,436.9 168.3,432.7 167.7,431.6 167.1,437.9 166.5,437.3 165.9,431.7 165.3,440.3 164.7,431.4 164.1,433.4 163.5,432.2 162.9,432.5" fill="#3FBAB7"/>
<polygon points="162.9,416.5 163.5,415.3 164.1,413.9 164.7,415.8 165.3,416.6 165.9,416.3 166.5,416.5 167.1,416.5 167.7,416.8 168.3,416.1 168.9,415.8 169.5,414.1 170.1,411.9 170.7,413.6 171.3,414.1 171.9,410.1 172.5,411.6 173.1,412.9 173.7,411.6 174.3,412.2 174.9,411.1 175.5,411.0 176.1,409.4 176.7,409.1 177.3,406.5 177.9,406.6 178.5,405.4 179.1,404.3 179.7,402.9 180.3,401.5 180.9,400.5 181.5,396.3 182.1,397.7 182.7,393.0 183.3,390.0 183.9,384.3 184.5,380.6 185.1,374.3 185.7,370.7 186.3,369.8 186.9,371.9 187.5,372.2 188.1,380.1 188.7,384.7 189.3,387.3 189.9,394.6 190.5,397.7 191.1,397.6 191.7,398.1 192.3,401.8 192.9,401.6 193.5,402.4 194.1,402.4 194.7,403.0 195.3,402.3 195.9,402.8 196.5,399.8 197.1,401.6 197.7,399.6 198.3,400.7 198.9,404.1 199.5,403.6 200.1,403.6 200.7,403.0 201.3,401.5 201.9,399.0 202.5,398.0 203.1,396.9 203.7,395.1 204.3,393.2 204.9,391.3 205.5,389.5 206.1,388.1 206.7,386.8 207.3,385.1 207.9,383.5 208.5,381.6 209.1,384.9 209.7,383.5 210.3,386.3 210.9,386.7 211.5,387.3 212.1,385.4 212.7,387.8 213.3,387.7 213.9,387.7 214.5,385.9 215.1,390.8 215.7,392.3 216.3,393.2 216.9,395.0 217.5,397.6 218.1,398.1 218.7,400.1 219.3,401.3 219.9,404.6 220.5,404.2 221.1,407.6 221.7,408.0 222.3,408.1 222.9,409.2 223.5,405.7 224.1,410.5 224.7,411.3 225.3,411.3 225.9,412.5 226.5,410.1 227.1,413.2 227.7,413.8 228.3,413.0 228.9,414.1 229.5,415.1 230.1,414.0 230.7,412.6 231.3,410.0 231.9,409.0 232.5,405.6 233.1,405.3 233.7,403.0 234.3,402.3 234.9,400.0 235.5,400.9 236.1,399.4 236.7,398.7 237.3,397.9 237.9,387.4 238.5,373.1 239.1,362.2 239.7,354.4 240.3,354.0 240.9,353.9 241.5,353.7 242.1,352.7 242.7,352.4 243.3,352.1 243.9,352.1 244.5,345.1 245.1,350.9 245.7,350.7 246.3,348.8 246.9,347.5 247.5,348.5 248.1,344.2 248.7,348.4 249.3,349.9 249.9,351.2 250.5,356.4 251.1,359.5 251.7,362.7 252.3,365.4 252.9,369.3 253.5,372.3 254.1,371.3 254.7,374.4 255.3,376.8 255.9,377.9 256.5,375.3 257.1,380.5 257.7,381.0 258.3,384.7 258.9,386.0 259.5,388.5 260.1,389.9 260.7,393.0 261.3,395.2 261.9,397.1 262.5,398.6 263.1,396.3 263.7,397.4 264.3,401.6 264.9,403.1 265.5,403.3 266.1,404.5 266.7,406.2 267.3,404.2 267.9,407.9 268.5,411.0 269.1,410.9 269.7,413.2 270.3,415.1 270.9,416.2 271.5,415.0 272.1,416.4 272.7,416.5 273.3,416.7 273.9,413.5 274.5,414.9 275.1,414.2 275.7,410.1 276.3,412.5 276.9,411.1 277.5,410.6 278.1,409.9 278.7,409.3 279.3,407.5 279.9,407.6 280.5,407.1 281.1,403.1 281.7,404.4 282.3,401.9 282.9,398.0 283.5,399.2 284.1,398.8 284.7,397.2 285.3,395.5 285.9,387.8 286.5,377.1 287.1,362.6 287.7,350.5 288.3,347.9 288.9,344.2 289.5,346.0 290.1,346.6 290.7,346.4 291.3,345.5 291.9,345.0 292.5,344.6 293.1,344.5 293.7,344.1 294.3,342.8 294.9,343.0 295.5,339.9 296.1,341.4 296.7,338.9 297.3,341.9 297.9,341.1 298.5,340.9 299.1,339.3 299.7,335.1 300.3,340.3 300.9,340.1 301.5,344.1 302.1,345.5 302.7,343.9 303.3,346.0 303.9,347.1 304.5,350.3 305.1,350.6 305.7,352.4 306.3,349.8 306.9,351.8 307.5,350.6 308.1,356.3 308.7,357.0 309.3,355.4 309.9,358.3 310.5,357.7 311.1,363.3 311.7,362.9 312.3,364.4 312.9,368.2 313.5,368.9 314.1,371.9 314.7,372.9 315.3,373.7 315.9,376.0 316.5,378.1 317.1,377.1 317.7,380.4 318.3,380.5 318.9,382.8 319.5,383.7 320.1,383.9 320.7,385.1 321.3,386.0 321.9,386.2 322.5,388.1 323.1,387.1 323.7,390.7 324.3,389.1 324.9,391.8 325.5,394.5 326.1,395.2 326.7,396.0 327.3,397.1 327.9,396.3 328.5,400.2 329.1,401.1 329.7,399.4 330.3,402.1 330.9,404.1 331.5,404.7 332.1,406.2 332.7,406.6 333.3,404.2 333.9,406.4 334.5,407.0 335.1,407.8 335.7,407.9 336.3,400.9 336.9,408.0 337.5,408.2 338.1,402.0 338.7,407.0 339.3,403.7 339.9,400.2 340.5,402.4 341.1,402.5 341.7,408.4 342.3,408.8 342.9,408.9 343.5,408.5 344.1,401.1 344.7,408.4 345.3,407.9 345.9,406.5 346.5,403.8 347.1,404.0 347.7,393.4 348.3,400.9 348.9,399.2 349.5,397.4 350.1,395.0 350.7,392.8 351.3,392.9 351.9,392.4 352.5,391.4 353.1,388.9 353.7,385.2 354.3,385.1 354.9,376.4 355.5,382.3 356.1,380.2 356.7,373.9 357.3,373.5 357.9,374.8 358.5,372.3 359.1,371.6 359.7,372.4 360.3,370.3 360.9,360.6 361.5,369.3 362.1,361.9 362.7,367.5 363.3,356.5 363.9,364.2 364.5,361.6 365.1,363.6 365.7,360.6 366.3,362.3 366.9,362.2 367.5,359.8 368.1,360.2 368.7,359.2 369.3,359.1 369.9,357.1 370.5,358.3 371.1,357.1 371.7,346.7 372.3,354.8 372.9,353.4 373.5,352.4 374.1,354.6 374.7,354.0 375.3,352.3 375.9,351.7 376.5,350.3 377.1,352.6 377.7,351.3 378.3,355.0 378.9,352.0 379.5,355.0 380.1,353.5 380.7,350.4 381.3,354.5 381.9,355.8 382.5,355.4 383.1,348.0 383.7,356.0 384.3,349.1 384.9,347.5 385.5,357.1 386.1,357.2 386.7,358.0 387.3,351.1 387.9,357.4 388.5,359.3 389.1,359.9 389.7,358.8 390.3,353.8 390.9,354.1 391.5,361.7 392.1,362.2 392.7,359.6 393.3,362.2 393.9,363.2 394.5,364.5 395.1,364.8 395.7,364.4 396.3,361.8 396.9,365.5 397.5,366.4 398.1,365.4 398.7,367.6 399.3,366.4 399.9,367.7 400.5,369.7 401.1,370.4 401.7,371.0 402.3,368.8 402.9,371.6 403.5,371.7 404.1,373.5 404.7,371.3 405.3,373.0 405.9,373.8 406.5,374.6 407.1,375.2 407.7,376.0 408.3,372.3 408.9,376.6 409.5,371.8 410.1,372.0 410.7,375.6 411.3,380.2 411.9,377.3 412.5,381.0 413.1,382.4 413.7,373.4 414.3,384.7 414.9,385.2 415.5,384.0 416.1,385.2 416.7,377.2 417.3,388.2 417.9,385.8 418.5,388.2 419.1,387.5 419.7,389.2 420.3,390.0 420.9,390.1 421.5,390.2 422.1,390.8 422.7,390.5 423.3,391.5 423.9,391.7 424.5,390.1 425.1,390.3 425.7,392.7 426.3,386.1 426.9,393.2 427.5,389.3 428.1,393.8 428.7,394.6 429.3,395.0 429.9,394.4 430.5,394.0 431.1,395.4 431.7,392.0 432.3,395.7 432.9,396.7 433.5,390.8 434.1,396.4 434.7,396.6 435.3,395.6 435.9,396.2 436.5,389.3 437.1,399.7 437.7,398.7 438.3,390.6 438.9,399.2 439.5,402.2 440.1,397.1 440.7,403.6 441.3,403.8 441.9,403.3 442.5,402.3 443.1,403.3 443.7,403.6 444.3,403.2 444.9,398.8 445.5,402.4 446.1,401.5 446.7,401.3 447.3,399.5 447.9,397.3 448.5,399.5 449.1,399.5 449.7,398.9 450.3,395.0 450.9,390.7 451.5,399.6 452.1,397.4 452.7,399.2 453.3,389.5 453.9,392.3 454.5,400.2 455.1,390.5 455.7,400.5 456.3,400.9 456.9,401.6 457.5,391.1 458.1,400.8 458.7,401.7 459.3,401.6 459.9,402.7 460.5,402.9 461.1,400.2 461.7,392.2 462.3,402.7 462.9,401.6 463.5,401.9 464.1,398.8 464.7,390.5 465.3,400.7 465.9,398.4 466.5,393.7 467.1,396.3 467.7,396.9 468.3,398.3 468.9,397.4 469.5,397.0 470.1,389.2 470.7,395.2 471.3,395.8 471.9,395.6 472.5,395.3 473.1,393.2 473.7,394.2 474.3,387.6 474.9,392.7 475.5,387.1 476.1,379.7 476.7,387.3 477.3,387.4 477.9,385.8 478.5,384.4 479.1,374.6 479.7,370.6 480.3,378.2 480.9,374.6 481.5,374.4 482.1,375.1 482.7,371.2 483.3,371.9 483.9,361.8 484.5,369.6 485.1,368.3 485.7,367.4 486.3,366.0 486.9,365.7 487.5,364.5 488.1,361.6 488.7,361.2 489.3,357.1 489.9,357.1 490.5,354.9 491.1,343.0 491.7,350.5 492.3,337.7 492.9,345.9 493.5,345.1 494.1,341.4 494.7,340.5 495.3,338.8 495.9,341.5 496.5,339.3 497.1,340.2 497.7,328.9 498.3,334.3 498.9,335.9 499.5,336.6 500.1,337.1 500.7,336.1 501.3,333.4 501.9,335.1 502.5,330.3 503.1,334.1 503.7,331.8 504.3,328.8 504.9,329.3 505.5,332.2 506.1,333.0 506.7,333.4 507.3,332.1 507.9,325.2 508.5,331.3 509.1,331.8 509.7,331.9 510.3,330.7 510.9,328.6 511.5,329.3 512.1,329.0 512.7,330.9 513.3,323.2 513.9,329.2 514.5,326.6 515.1,329.5 515.7,322.6 516.3,324.4 516.9,330.7 517.5,330.7 518.1,331.0 518.7,330.4 519.3,331.2 519.9,329.7 520.5,331.4 521.1,331.2 521.7,330.6 522.3,330.7 522.9,331.7 523.5,332.0 524.1,331.3 524.7,326.8 525.3,332.3 525.9,325.6 526.5,326.2 527.1,330.7 527.7,331.4 528.3,331.3 528.9,332.4 529.5,325.6 530.1,331.2 530.7,328.9 531.3,331.7 531.9,336.1 532.5,334.7 533.1,337.8 533.7,339.4 534.3,331.8 534.9,338.0 535.5,342.6 536.1,343.5 536.7,344.8 537.3,345.0 537.9,346.8 538.5,332.7 539.1,335.0 539.7,347.8 540.3,344.2 540.9,347.6 541.5,339.6 542.1,352.2 542.7,349.0 543.3,353.9 543.9,352.3 544.5,353.7 545.1,357.0 545.7,357.6 546.3,359.3 546.9,359.1 547.5,355.6 548.1,363.6 548.7,364.3 549.3,366.0 549.9,365.5 550.5,359.5 551.1,362.1 551.7,358.8 552.3,369.8 552.9,370.6 553.5,370.5 554.1,371.4 554.7,371.2 555.3,373.0 555.9,369.4 556.5,374.4 557.1,372.8 557.7,368.3 558.3,373.8 558.9,367.3 559.5,376.0 560.1,378.1 560.7,377.9 561.3,372.1 561.9,375.7 562.5,376.5 563.1,376.9 563.7,369.4 564.3,371.6 564.9,376.3 565.5,367.6 566.1,374.5 566.7,371.7 567.3,369.1 567.9,371.9 568.5,371.7 569.1,371.3 569.7,366.7 570.3,369.2 570.9,369.4 571.5,367.0 572.1,368.4 572.7,367.3 573.3,367.4 573.9,366.3 574.5,367.5 575.1,367.2 575.7,368.1 576.3,367.8 576.9,366.6 577.5,368.3 578.1,359.9 578.7,368.5 579.3,367.8 579.9,363.4 580.5,353.1 581.1,368.7 581.7,368.5 582.3,365.9 582.9,361.8 583.5,369.2 584.1,369.6 584.7,365.8 585.3,354.6 585.9,357.5 586.5,371.4 587.1,372.8 587.7,374.3 588.3,368.7 588.9,376.3 589.5,381.0 590.1,382.3 590.7,384.9 591.3,381.3 591.9,371.9 592.5,371.3 593.1,358.5 593.7,364.9 594.3,362.0 594.9,353.9 595.5,354.1 596.1,353.7 596.7,352.2 597.3,352.7 597.9,352.8 598.5,347.7 599.1,352.0 599.7,350.5 600.3,349.6 600.9,349.8 601.5,341.3 602.1,340.4 602.7,349.0 603.3,349.0 603.9,348.7 604.5,347.9 605.1,350.0 605.7,349.1 606.3,351.7 606.9,352.8 607.5,338.3 608.1,346.6 608.7,341.7 609.3,361.7 609.9,364.4 610.5,369.0 611.1,358.9 611.7,380.8 612.3,380.9 612.9,376.2 613.5,362.9 614.1,357.8 614.7,365.6 615.3,364.4 615.9,363.6 616.5,362.1 617.1,358.2 617.7,359.1 618.3,344.9 618.9,356.6 619.5,356.2 620.1,356.1 620.7,355.6 621.3,355.1 621.9,353.1 622.5,357.1 623.1,353.1 623.7,347.9 624.3,360.7 624.9,360.5 625.5,361.7 626.1,357.5 626.7,364.3 627.3,349.3 627.9,365.0 628.5,366.7 629.1,364.5 629.7,366.7 630.3,368.4 630.9,368.9 631.5,369.0 632.1,367.6 632.7,369.7 633.3,371.1 633.9,357.0 634.5,373.8 635.1,372.5 635.7,376.1 636.3,374.5 636.9,378.3 637.5,374.0 638.1,380.8 638.7,377.3 639.3,377.4 639.9,384.4 640.5,383.3 641.1,385.0 641.7,385.5 642.3,372.3 642.9,388.9 643.5,373.4 644.1,389.1 644.7,384.3 645.3,390.2 645.9,390.3 646.5,390.8 647.1,387.7 647.7,387.2 648.3,380.4 648.9,386.6 649.5,377.0 650.1,385.7 650.7,392.1 651.3,392.0 651.9,391.1 652.5,394.6 653.1,393.6 653.7,392.8 654.3,387.9 654.9,395.6 655.5,396.4 656.1,392.0 656.7,397.9 657.3,398.1 657.9,392.6 658.5,398.0 659.1,398.8 659.7,388.7 660.3,387.3 660.9,387.3 661.5,395.9 662.1,399.2 662.7,397.5 663.3,396.1 663.9,398.3 664.5,390.6 665.1,397.0 665.7,399.8 666.3,397.8 666.9,400.1 667.5,400.1 668.1,398.7 668.7,400.2 669.3,400.4 669.9,400.5 670.5,393.6 671.1,394.1 671.7,392.4 672.3,396.7 672.9,400.9 673.5,399.0 674.1,395.8 674.7,397.9 675.3,383.8 675.9,393.0 676.5,396.4 677.1,398.3 677.7,397.1 678.3,397.6 678.9,396.8 679.5,396.1 680.1,393.6 680.7,396.4 681.3,395.6 681.9,388.1 682.5,389.3 683.1,395.3 683.7,392.7 684.3,391.3 684.9,392.7 685.5,388.1 686.1,392.2 686.7,394.8 687.3,392.4 687.9,394.1 688.5,392.7 689.1,391.7 689.7,391.9 690.3,391.1 690.9,384.6 691.5,388.6 692.1,387.5 692.7,383.5 693.3,385.6 693.9,385.7 694.5,383.6 695.1,379.4 695.7,375.7 696.3,381.8 696.9,380.9 697.5,380.9 698.1,380.1 698.7,377.8 699.3,374.1 699.9,372.3 700.5,358.0 701.1,371.7 701.7,370.1 702.3,362.3 702.9,364.4 703.5,362.3 704.1,363.8 704.7,354.3 705.3,330.0 705.9,327.6 706.5,334.0 707.1,335.5 707.7,327.5 708.3,328.3 708.9,325.7 709.5,336.2 710.1,337.0 710.7,318.8 711.3,334.6 711.9,335.0 712.5,334.4 713.1,335.3 713.7,320.5 714.3,334.1 714.9,334.1 715.5,335.1 716.1,322.9 716.7,329.3 717.3,328.8 717.9,327.7 718.5,329.0 719.1,334.5 719.7,333.9 720.3,325.2 720.9,331.4 721.5,331.5 722.1,319.9 722.7,333.4 723.3,333.4 723.9,325.1 724.5,323.0 725.1,333.3 725.7,325.5 726.3,331.9 726.9,321.6 727.5,316.9 728.1,329.6 728.7,328.7 729.3,331.0 729.9,326.5 730.5,330.2 731.1,325.8 731.7,329.8 732.3,324.5 732.9,329.2 733.5,326.6 734.1,326.1 734.7,329.7 735.3,320.6 735.9,317.1 736.5,315.9 737.1,326.8 737.7,324.7 738.3,325.6 738.9,327.5 739.5,323.0 740.1,325.3 740.7,323.8 741.3,319.2 741.9,317.9 742.5,310.0 743.1,316.9 743.7,304.2 744.3,301.8 744.9,299.0 745.5,289.4 746.1,279.1 746.7,278.5 747.3,271.9 747.9,290.5 748.5,293.7 749.1,291.7 749.7,297.4 750.3,277.9 750.9,301.2 751.5,303.1 752.1,295.9 752.7,292.0 753.3,306.4 753.9,296.6 754.5,306.8 755.1,297.1 755.7,303.8 756.3,308.7 756.9,296.2 757.5,305.0 758.1,296.4 758.7,304.8 759.3,307.5 759.9,296.3 760.5,309.6 761.1,305.7 761.7,309.0 762.3,309.9 762.9,305.5 763.5,310.0 764.1,304.4 764.7,309.4 765.3,308.0 765.9,310.2 766.5,310.0 767.1,297.5 767.7,305.6 768.3,308.0 768.9,306.8 769.5,310.6 770.1,311.3 770.7,313.1 771.3,314.1 771.9,309.2 772.5,313.5 773.1,315.3 773.7,317.6 774.3,318.3 774.9,309.3 775.5,315.2 776.1,321.0 776.7,319.6 777.3,321.8 777.9,303.6 778.5,323.7 779.1,318.3 779.7,320.0 780.3,322.1 780.9,321.1 781.5,324.1 782.1,319.4 782.7,326.3 783.3,326.3 783.9,329.1 784.5,325.8 785.1,326.4 785.7,312.9 786.3,328.8 786.9,327.6 787.5,323.1 788.1,334.8 788.7,334.9 789.3,336.1 789.9,336.2 790.5,329.7 791.1,333.5 791.7,338.7 792.3,327.5 792.9,339.3 793.5,338.9 794.1,340.2 794.7,340.5 795.3,333.6 795.9,339.0 796.5,335.4 797.1,342.1 797.7,340.7 798.3,343.0 798.9,343.8 799.5,343.9 800.1,344.2 800.7,345.0 801.3,345.5 801.9,346.5 802.5,346.1 803.1,345.1 803.7,348.1 804.3,348.7 804.9,340.5 805.5,341.2 806.1,349.5 806.7,342.6 807.3,337.9 807.9,339.3 808.5,351.8 809.1,349.1 809.7,351.3 810.3,353.7 810.9,336.4 811.5,338.6 812.1,349.4 812.7,353.1 813.3,340.7 813.9,352.8 814.5,352.1 815.1,355.5 815.7,356.0 816.3,357.0 816.9,350.6 817.5,346.0 818.1,352.3 818.7,357.5 819.3,355.9 819.9,358.7 820.5,359.3 821.1,359.5 821.7,349.8 822.3,349.2 822.9,360.4 823.5,361.3 824.1,349.8 824.7,359.2 825.3,361.1 825.9,362.1 826.5,363.1 827.1,363.4 827.7,364.3 828.3,348.2 828.9,363.8 829.5,359.9 830.1,366.0 830.7,365.6 831.3,366.7 831.9,366.9 832.5,366.3 833.1,367.9 833.7,367.2 834.3,365.0 834.9,351.2 835.5,351.5 836.1,368.0 836.7,364.7 837.3,356.8 837.9,370.4 838.5,368.7 839.1,370.2 839.7,367.2 840.3,362.3 840.9,370.0 841.5,370.7 842.1,371.5 842.7,367.3 843.3,361.3 843.9,367.7 844.5,372.4 845.1,372.1 845.7,358.8 846.3,372.3 846.9,373.7 847.5,366.8 848.1,373.9 848.7,367.3 849.3,357.3 849.9,374.8 850.5,367.2 851.1,375.4 851.7,372.1 852.3,366.9 852.9,374.6 853.5,377.1 854.1,376.0 854.7,377.4 855.3,377.1 855.9,376.8 856.5,375.2 857.1,373.7 857.7,369.3 858.3,378.7 858.9,379.8 859.5,363.3 860.1,376.1 860.7,380.5 861.3,380.4 861.9,369.4 862.5,363.9 863.1,368.6 863.7,380.7 864.3,378.8 864.9,382.1 865.5,382.3 866.1,365.2 866.7,382.5 867.3,381.7 867.9,377.9 868.5,382.1 869.1,374.3 869.7,367.2 870.3,378.5 870.9,379.6 871.5,383.1 872.1,376.7 872.7,378.2 873.3,380.8 873.9,381.9 874.5,383.6 875.1,380.3 875.7,384.5 876.3,383.4 876.9,384.0 877.5,380.9 878.1,385.2 878.7,383.4 879.3,381.5 879.9,385.3 880.5,385.3 881.1,380.9 881.7,378.7 882.3,386.5 882.9,386.6 883.5,386.2 884.1,385.6 884.7,386.8 885.3,370.6 885.9,387.7 886.5,387.7 887.1,388.1 887.7,387.5 888.3,388.5 888.9,387.7 889.5,387.3 890.1,388.8 890.7,380.5 891.3,387.1 891.9,389.2 892.5,388.8 893.1,390.0 893.7,387.6 894.3,386.3 894.9,381.9 895.5,387.3 896.1,390.8 896.7,391.0 897.3,390.9 897.9,374.7 898.5,387.6 899.1,391.5 899.7,390.0 900.3,375.3 900.9,380.1 901.5,389.8 902.1,389.6 902.7,386.1 903.3,391.7 903.9,392.5 904.5,389.5 905.1,390.9 905.7,392.9 906.3,381.1 906.9,393.0 907.5,387.1 908.1,391.2 908.7,393.3 909.3,393.2 909.9,393.1 910.5,391.2 911.1,394.1 911.7,392.8 912.3,391.6 912.9,389.0 913.5,392.8 914.1,384.1 914.7,395.2 915.3,392.1 915.9,393.4 916.5,391.9 917.1,395.9 917.7,394.9 918.3,394.9 918.9,380.3 919.5,387.9 920.1,396.2 920.7,395.4 921.3,392.8 921.9,383.7 922.5,396.9 923.1,398.0 923.7,382.1 924.3,394.3 924.9,394.0 925.5,398.3 926.1,397.4 926.7,397.0 927.3,396.3 927.9,399.8 928.5,399.6 929.1,399.9 929.7,388.7 930.3,400.5 930.9,399.1 931.5,400.9 932.1,400.8 932.7,386.7 933.3,393.8 933.9,399.9 934.5,398.7 935.1,396.7 935.7,400.0 936.3,402.4 936.9,398.4 937.5,399.5 938.1,402.2 938.7,402.3 939.3,403.2 939.9,403.2 940.5,400.3 941.1,403.1 941.7,401.8 942.3,397.7 942.9,402.2 943.5,400.2 944.1,401.5 944.7,394.5 945.3,398.5 945.9,397.9 946.5,393.5 947.1,396.0 947.7,391.0 948.3,385.8 948.9,379.9 949.5,373.9 950.1,368.1 950.7,362.9 951.3,359.1 951.9,356.4 952.5,354.1 953.1,353.2 953.7,351.2 954.3,344.4 954.9,344.4 955.5,342.4 956.1,340.8 956.7,337.1 957.3,336.1 957.9,333.5 958.5,330.1 959.1,328.1 959.7,327.8 960.3,327.8 960.9,325.8 961.5,324.2 962.1,325.9 962.7,324.1 963.3,324.0 963.9,323.7 964.5,321.4 965.1,320.9 965.7,317.0 966.3,320.7 966.9,316.9 967.5,317.7 968.1,316.4 968.7,317.7 969.3,318.1 969.9,318.5 970.5,311.9 971.1,318.5 971.7,320.0 972.3,320.6 972.9,319.7 973.5,321.7 974.1,322.4 974.7,323.1 975.3,322.0 975.9,319.7 976.5,325.4 977.1,323.8 977.7,326.0 978.3,326.4 978.9,327.4 979.5,327.1 980.1,327.5 980.7,329.4 981.3,329.4 981.9,331.1 982.5,326.7 983.1,335.8 983.7,337.3 984.3,340.0 984.9,340.1 985.5,342.6 986.1,344.7 986.7,345.7 987.3,350.0 987.9,351.3 988.5,352.2 989.1,353.1 989.7,353.2 990.3,354.2 990.9,355.4 991.5,355.7 992.1,353.2 992.7,357.6 993.3,355.8 993.9,356.0 994.5,361.3 995.1,361.5 995.7,363.1 996.3,363.2 996.9,366.3 997.5,366.9 998.1,367.5 998.7,361.5 999.3,368.0 999.9,371.2 1000.5,366.4 1001.1,374.9 1001.7,368.4 1002.3,374.9 1002.9,377.9 1003.5,377.6 1004.1,379.5 1004.7,381.0 1005.3,377.4 1005.9,383.0 1006.5,381.6 1007.1,378.2 1007.7,385.1 1008.3,385.4 1008.9,381.1 1009.5,383.2 1010.1,386.4 1010.7,386.9 1011.3,386.8 1011.9,387.8 1012.5,385.9 1013.1,388.8 1013.7,387.9 1014.3,385.1 1014.9,389.6 1015.5,385.5 1016.1,390.7 1016.7,390.0 1017.3,388.7 1017.9,392.8 1018.5,389.0 1019.1,390.7 1019.7,394.1 1020.3,393.3 1020.9,394.2 1021.5,393.6 1022.1,395.5 1022.7,395.8 1023.3,396.4 1023.9,394.9 1024.5,394.1 1025.1,394.1 1025.7,393.4 1026.3,394.7 1026.9,389.9 1027.5,394.4 1028.1,392.4 1028.7,392.8 1029.3,392.1 1029.9,392.3 1030.5,392.9 1031.1,375.2 1031.7,354.6 1032.3,336.8 1032.9,332.2 1033.5,330.0 1034.1,329.9 1034.7,327.3 1035.3,326.1 1035.9,328.7 1036.5,330.9 1037.1,332.6 1037.7,336.4 1038.3,336.9 1038.9,338.3 1039.5,339.9 1040.1,340.7 1040.7,337.9 1041.3,341.4 1041.9,343.3 1042.5,343.5 1043.1,345.2 1043.7,344.3 1044.3,347.4 1044.9,348.4 1045.5,348.0 1046.1,349.9 1046.7,348.7 1047.3,350.0 1047.9,352.0 1048.5,351.1 1049.1,353.6 1049.7,354.8 1050.3,353.1 1050.9,355.1 1051.5,354.2 1052.1,357.4 1052.7,358.3 1053.3,358.9 1053.9,361.7 1054.5,361.9 1055.1,363.9 1055.7,365.9 1056.3,366.0 1056.9,367.8 1057.5,369.0 1058.1,370.2 1058.7,371.5 1059.3,372.3 1059.9,371.7 1060.5,372.3 1061.1,372.1 1061.7,374.4 1062.3,374.1 1062.9,374.8 1063.5,374.5 1064.1,373.9 1064.7,376.1 1065.3,377.0 1065.9,377.9 1066.5,377.4 1067.1,380.0 1067.7,378.1 1068.3,379.5 1068.9,380.7 1069.5,382.5 1070.1,381.4 1070.7,379.1 1071.3,383.1 1071.9,385.6 1072.5,384.5 1073.1,384.9 1073.7,386.6 1074.3,387.7 1074.9,386.6 1075.5,384.2 1076.1,388.1 1076.7,389.0 1077.3,384.3 1077.9,387.7 1078.5,388.0 1079.1,389.6 1079.7,389.0 1080.3,390.0 1080.9,383.7 1081.5,390.2 1082.1,390.6 1082.7,383.0 1083.3,389.3 1083.9,389.7 1084.5,388.7 1085.1,389.6 1085.7,388.2 1086.3,387.9 1086.9,378.5 1087.5,388.5 1088.1,384.3 1088.7,378.1 1089.3,382.3 1089.9,387.5 1090.5,386.1 1091.1,378.5 1091.7,386.5 1092.3,386.1 1092.9,384.8 1093.5,384.3 1094.1,385.3 1094.7,377.1 1095.3,384.8 1095.9,375.9 1096.5,383.1 1097.1,383.9 1097.7,369.6 1098.3,383.3 1098.9,384.6 1099.5,370.4 1100.1,377.3 1100.7,384.7 1101.3,376.4 1101.9,384.3 1102.5,385.3 1103.1,387.3 1103.7,386.7 1104.3,383.7 1104.9,388.5 1105.5,389.0 1106.1,389.3 1106.7,386.3 1107.3,390.0 1107.9,388.0 1108.5,391.0 1109.1,391.9 1109.7,385.1 1110.3,384.1 1110.9,392.6 1111.5,393.6 1112.1,393.9 1112.7,393.1 1113.3,394.2 1113.9,395.0 1114.5,391.4 1115.1,392.5 1115.7,395.8 1116.3,390.5 1116.9,390.5 1117.5,395.0 1118.1,394.4 1118.7,396.2 1119.3,392.6 1119.9,381.9 1120.5,396.4 1121.1,394.8 1121.7,396.7 1122.3,397.0 1122.9,396.3 1123.5,397.1 1124.1,397.4 1124.7,394.4 1125.3,397.2 1125.9,396.4 1126.5,398.0 1127.1,397.3 1127.7,394.3 1128.3,398.3 1128.9,398.3 1129.5,398.6 1130.1,398.9 1130.7,397.1 1131.3,397.6 1131.9,399.3 1132.5,394.4 1133.1,399.6 1133.7,395.8 1134.3,390.4 1134.9,398.5 1135.5,397.4 1136.1,398.5 1136.7,399.0 1137.3,400.2 1137.9,400.8 1138.5,398.7 1139.1,397.2 1139.7,390.9 1140.3,399.0 1140.9,400.3 1141.5,401.3 1142.1,399.1 1142.7,401.6 1143.3,400.2 1143.9,399.6 1144.5,400.7 1145.1,395.5 1145.7,402.1 1146.3,402.1 1146.9,402.0 1147.5,398.6 1148.1,401.5 1148.7,401.3 1149.3,401.7 1149.9,398.5 1150.5,400.5 1151.1,394.1 1151.7,400.8 1152.3,400.7 1152.9,402.1 1153.5,401.3 1154.1,387.7 1154.7,396.6 1155.3,402.0 1155.9,390.1 1156.5,395.8 1157.1,394.8 1157.7,401.2 1158.3,402.3 1158.9,387.8 1159.5,402.3 1160.1,402.4 1160.7,397.9 1161.3,402.4 1161.9,390.8 1162.5,402.4 1163.1,402.4 1163.7,401.8 1164.3,396.8 1164.9,401.3 1165.5,388.1 1166.1,401.5 1166.7,396.8 1167.3,401.3 1167.9,401.2 1168.5,402.6 1169.1,402.5 1169.7,400.9 1170.3,399.4 1170.9,400.1 1171.5,402.7 1172.1,401.7 1172.7,401.7 1173.3,393.5 1173.9,401.3 1174.5,401.0 1175.1,402.4 1175.7,400.7 1176.3,399.6 1176.9,397.4 1177.5,395.2 1178.1,401.9 1178.7,388.3 1179.3,402.8 1179.9,402.1 1180.5,402.0 1181.1,402.9 1181.7,401.7 1182.3,402.9 1182.9,399.7 1183.5,392.6 1184.1,402.4 1184.7,388.4 1184.7,415.2 1184.1,408.7 1183.5,407.7 1182.9,409.5 1182.3,409.2 1181.7,407.8 1181.1,407.1 1180.5,406.9 1179.9,406.9 1179.3,408.4 1178.7,407.0 1178.1,406.9 1177.5,412.7 1176.9,407.2 1176.3,408.6 1175.7,410.4 1175.1,411.7 1174.5,408.5 1173.9,406.7 1173.3,409.2 1172.7,407.7 1172.1,417.3 1171.5,407.6 1170.9,413.4 1170.3,411.1 1169.7,415.4 1169.1,408.0 1168.5,406.8 1167.9,408.5 1167.3,408.1 1166.7,408.8 1166.1,406.4 1165.5,409.2 1164.9,414.6 1164.3,407.9 1163.7,407.5 1163.1,414.8 1162.5,407.6 1161.9,406.8 1161.3,408.2 1160.7,407.2 1160.1,410.7 1159.5,410.2 1158.9,406.3 1158.3,406.6 1157.7,407.7 1157.1,407.2 1156.5,406.6 1155.9,407.8 1155.3,406.6 1154.7,409.6 1154.1,407.8 1153.5,406.3 1152.9,409.5 1152.3,406.1 1151.7,409.1 1151.1,417.8 1150.5,410.9 1149.9,414.0 1149.3,406.1 1148.7,413.7 1148.1,406.4 1147.5,406.6 1146.9,409.0 1146.3,406.7 1145.7,406.0 1145.1,409.0 1144.5,405.9 1143.9,407.1 1143.3,414.6 1142.7,407.1 1142.1,409.7 1141.5,405.5 1140.9,408.4 1140.3,409.1 1139.7,405.5 1139.1,405.7 1138.5,410.4 1137.9,409.6 1137.3,405.0 1136.7,408.1 1136.1,404.4 1135.5,404.3 1134.9,405.1 1134.3,407.0 1133.7,406.4 1133.1,407.7 1132.5,404.7 1131.9,405.3 1131.3,408.7 1130.7,406.7 1130.1,402.8 1129.5,411.5 1128.9,404.1 1128.3,410.6 1127.7,404.8 1127.1,404.0 1126.5,405.1 1125.9,402.8 1125.3,401.7 1124.7,403.6 1124.1,405.9 1123.5,403.2 1122.9,414.2 1122.3,400.9 1121.7,400.7 1121.1,402.1 1120.5,400.9 1119.9,410.7 1119.3,403.8 1118.7,400.2 1118.1,401.6 1117.5,399.9 1116.9,400.2 1116.3,400.1 1115.7,407.3 1115.1,405.9 1114.5,401.2 1113.9,399.0 1113.3,402.1 1112.7,399.6 1112.1,398.1 1111.5,397.7 1110.9,401.3 1110.3,399.6 1109.7,401.1 1109.1,396.1 1108.5,399.1 1107.9,398.7 1107.3,394.6 1106.7,398.2 1106.1,397.4 1105.5,394.1 1104.9,392.7 1104.3,392.7 1103.7,393.4 1103.1,396.4 1102.5,403.8 1101.9,404.9 1101.3,399.6 1100.7,395.4 1100.1,394.2 1099.5,398.0 1098.9,389.1 1098.3,395.7 1097.7,393.0 1097.1,388.2 1096.5,402.8 1095.9,403.0 1095.3,388.9 1094.7,393.5 1094.1,393.5 1093.5,390.7 1092.9,392.0 1092.3,390.1 1091.7,390.6 1091.1,398.6 1090.5,391.1 1089.9,396.0 1089.3,392.0 1088.7,392.3 1088.1,393.5 1087.5,392.7 1086.9,393.0 1086.3,404.1 1085.7,393.5 1085.1,396.0 1084.5,393.9 1083.9,397.8 1083.3,396.9 1082.7,398.8 1082.1,401.1 1081.5,394.5 1080.9,394.9 1080.3,394.9 1079.7,394.2 1079.1,395.5 1078.5,395.4 1077.9,395.1 1077.3,395.2 1076.7,400.8 1076.1,396.9 1075.5,394.1 1074.9,395.0 1074.3,396.5 1073.7,393.8 1073.1,392.3 1072.5,393.0 1071.9,393.7 1071.3,391.9 1070.7,395.7 1070.1,389.4 1069.5,389.0 1068.9,389.3 1068.3,388.1 1067.7,389.3 1067.1,388.8 1066.5,385.3 1065.9,386.5 1065.3,383.6 1064.7,383.0 1064.1,382.5 1063.5,381.7 1062.9,385.1 1062.3,381.2 1061.7,383.1 1061.1,380.7 1060.5,380.5 1059.9,380.5 1059.3,377.9 1058.7,377.7 1058.1,378.0 1057.5,377.0 1056.9,375.1 1056.3,372.9 1055.7,373.5 1055.1,371.4 1054.5,369.3 1053.9,367.4 1053.3,367.3 1052.7,366.1 1052.1,365.4 1051.5,363.0 1050.9,365.8 1050.3,364.4 1049.7,360.7 1049.1,360.0 1048.5,361.0 1047.9,358.6 1047.3,360.6 1046.7,360.9 1046.1,358.3 1045.5,355.3 1044.9,354.9 1044.3,353.3 1043.7,352.6 1043.1,352.0 1042.5,351.9 1041.9,349.1 1041.3,349.1 1040.7,348.3 1040.1,347.5 1039.5,346.2 1038.9,346.7 1038.3,347.8 1037.7,343.8 1037.1,341.5 1036.5,337.9 1035.9,335.9 1035.3,338.4 1034.7,334.8 1034.1,336.2 1033.5,336.9 1032.9,339.9 1032.3,345.8 1031.7,361.4 1031.1,383.5 1030.5,400.5 1029.9,399.9 1029.3,400.2 1028.7,400.0 1028.1,401.1 1027.5,401.0 1026.9,402.4 1026.3,403.0 1025.7,404.1 1025.1,402.6 1024.5,403.6 1023.9,403.5 1023.3,403.7 1022.7,403.3 1022.1,405.0 1021.5,402.3 1020.9,407.9 1020.3,402.0 1019.7,401.5 1019.1,400.8 1018.5,400.4 1017.9,400.4 1017.3,400.5 1016.7,400.4 1016.1,398.8 1015.5,398.6 1014.9,398.9 1014.3,396.9 1013.7,397.2 1013.1,396.1 1012.5,395.6 1011.9,396.1 1011.3,394.5 1010.7,394.7 1010.1,395.2 1009.5,393.7 1008.9,393.4 1008.3,395.0 1007.7,393.2 1007.1,392.0 1006.5,393.5 1005.9,390.2 1005.3,389.9 1004.7,390.2 1004.1,387.8 1003.5,386.5 1002.9,389.9 1002.3,385.3 1001.7,383.6 1001.1,385.5 1000.5,382.6 999.9,379.8 999.3,380.2 998.7,378.7 998.1,382.6 997.5,375.1 996.9,376.5 996.3,372.3 995.7,371.4 995.1,370.8 994.5,372.8 993.9,370.1 993.3,374.8 992.7,367.9 992.1,364.6 991.5,364.1 990.9,365.7 990.3,362.6 989.7,361.2 989.1,368.5 988.5,360.5 987.9,366.8 987.3,363.9 986.7,355.9 986.1,357.6 985.5,353.5 984.9,358.1 984.3,349.3 983.7,347.0 983.1,345.4 982.5,342.1 981.9,341.2 981.3,338.6 980.7,339.0 980.1,337.2 979.5,336.4 978.9,338.6 978.3,336.2 977.7,335.0 977.1,334.6 976.5,334.0 975.9,338.3 975.3,336.8 974.7,334.8 974.1,333.0 973.5,330.8 972.9,329.4 972.3,332.0 971.7,330.8 971.1,327.7 970.5,327.1 969.9,329.1 969.3,328.6 968.7,328.6 968.1,327.9 967.5,334.3 966.9,327.8 966.3,332.7 965.7,331.9 965.1,332.4 964.5,336.0 963.9,338.7 963.3,334.5 962.7,336.8 962.1,336.2 961.5,335.1 960.9,337.9 960.3,336.8 959.7,338.3 959.1,340.0 958.5,340.5 957.9,342.1 957.3,345.4 956.7,347.2 956.1,352.3 955.5,352.2 954.9,356.5 954.3,361.4 953.7,359.8 953.1,366.5 952.5,363.7 951.9,367.5 951.3,367.0 950.7,370.8 950.1,378.0 949.5,382.5 948.9,387.8 948.3,393.6 947.7,399.4 947.1,403.1 946.5,404.4 945.9,404.0 945.3,406.1 944.7,408.2 944.1,408.3 943.5,410.3 942.9,417.8 942.3,409.5 941.7,410.4 941.1,414.2 940.5,409.8 939.9,407.9 939.3,410.7 938.7,407.3 938.1,409.5 937.5,412.1 936.9,411.0 936.3,419.9 935.7,411.0 935.1,408.7 934.5,408.8 933.9,418.0 933.3,405.9 932.7,405.8 932.1,421.5 931.5,407.1 930.9,411.3 930.3,406.2 929.7,407.8 929.1,404.5 928.5,404.7 927.9,404.1 927.3,405.1 926.7,410.3 926.1,408.4 925.5,409.3 924.9,403.0 924.3,403.5 923.7,404.7 923.1,404.5 922.5,404.5 921.9,402.3 921.3,414.2 920.7,401.6 920.1,405.1 919.5,401.4 918.9,407.9 918.3,401.2 917.7,401.3 917.1,405.6 916.5,402.3 915.9,400.0 915.3,403.4 914.7,404.3 914.1,414.0 913.5,405.9 912.9,399.1 912.3,399.6 911.7,399.1 911.1,398.5 910.5,400.1 909.9,398.6 909.3,398.1 908.7,403.5 908.1,400.9 907.5,398.2 906.9,414.0 906.3,400.4 905.7,398.5 905.1,398.6 904.5,397.9 903.9,401.9 903.3,413.5 902.7,397.1 902.1,400.8 901.5,397.8 900.9,396.5 900.3,399.8 899.7,399.7 899.1,396.8 898.5,396.5 897.9,396.0 897.3,404.7 896.7,397.3 896.1,401.1 895.5,395.5 894.9,397.6 894.3,396.5 893.7,395.3 893.1,396.2 892.5,395.7 891.9,395.7 891.3,405.1 890.7,396.1 890.1,393.8 889.5,394.7 888.9,405.3 888.3,398.1 887.7,396.0 887.1,396.3 886.5,400.4 885.9,392.2 885.3,392.3 884.7,393.7 884.1,392.5 883.5,400.5 882.9,392.1 882.3,397.6 881.7,393.7 881.1,390.7 880.5,393.1 879.9,407.3 879.3,390.2 878.7,390.0 878.1,390.7 877.5,389.6 876.9,391.8 876.3,390.8 875.7,398.4 875.1,389.1 874.5,395.4 873.9,388.7 873.3,388.7 872.7,388.6 872.1,389.8 871.5,388.1 870.9,388.6 870.3,393.5 869.7,389.4 869.1,387.9 868.5,390.3 867.9,390.2 867.3,390.3 866.7,391.6 866.1,395.6 865.5,394.0 864.9,399.6 864.3,387.8 863.7,386.6 863.1,388.0 862.5,386.3 861.9,386.5 861.3,388.4 860.7,394.8 860.1,385.0 859.5,389.3 858.9,384.6 858.3,384.2 857.7,387.7 857.1,397.2 856.5,383.2 855.9,382.9 855.3,383.3 854.7,387.1 854.1,387.2 853.5,381.9 852.9,383.6 852.3,381.9 851.7,381.4 851.1,382.4 850.5,380.2 849.9,380.7 849.3,380.4 848.7,389.0 848.1,387.7 847.5,382.4 846.9,379.7 846.3,386.4 845.7,383.7 845.1,382.8 844.5,380.0 843.9,383.8 843.3,377.0 842.7,386.3 842.1,377.5 841.5,376.3 840.9,377.1 840.3,387.4 839.7,376.1 839.1,376.3 838.5,386.2 837.9,376.2 837.3,375.9 836.7,374.7 836.1,374.4 835.5,377.4 834.9,382.9 834.3,391.3 833.7,375.5 833.1,373.0 832.5,378.2 831.9,372.7 831.3,374.9 830.7,384.5 830.1,370.8 829.5,370.7 828.9,371.1 828.3,373.7 827.7,373.3 827.1,369.9 826.5,380.3 825.9,374.7 825.3,369.3 824.7,367.2 824.1,368.4 823.5,367.1 822.9,366.0 822.3,367.6 821.7,364.9 821.1,377.5 820.5,366.5 819.9,368.6 819.3,364.5 818.7,363.1 818.1,363.9 817.5,362.5 816.9,362.2 816.3,362.8 815.7,364.3 815.1,371.2 814.5,362.4 813.9,360.9 813.3,363.9 812.7,362.4 812.1,359.9 811.5,369.0 810.9,365.6 810.3,359.9 809.7,358.8 809.1,358.8 808.5,357.3 807.9,360.5 807.3,356.7 806.7,359.1 806.1,355.3 805.5,361.9 804.9,372.6 804.3,358.9 803.7,353.9 803.1,352.7 802.5,359.2 801.9,357.8 801.3,351.2 800.7,356.8 800.1,355.4 799.5,349.9 798.9,348.9 798.3,349.8 797.7,348.1 797.1,365.3 796.5,352.1 795.9,347.6 795.3,346.3 794.7,354.1 794.1,347.2 793.5,357.1 792.9,344.6 792.3,347.0 791.7,354.2 791.1,343.6 790.5,343.5 789.9,345.5 789.3,346.4 788.7,342.8 788.1,342.1 787.5,350.1 786.9,339.4 786.3,347.2 785.7,341.0 785.1,338.4 784.5,335.6 783.9,335.2 783.3,336.2 782.7,345.7 782.1,340.1 781.5,334.0 780.9,332.1 780.3,330.4 779.7,334.2 779.1,329.4 778.5,329.9 777.9,333.9 777.3,330.1 776.7,329.2 776.1,340.2 775.5,339.1 774.9,327.1 774.3,325.1 773.7,326.2 773.1,323.1 772.5,321.7 771.9,337.6 771.3,332.9 770.7,320.8 770.1,318.0 769.5,319.2 768.9,319.4 768.3,316.3 767.7,325.9 767.1,316.8 766.5,326.7 765.9,315.9 765.3,336.0 764.7,336.0 764.1,317.6 763.5,324.3 762.9,332.0 762.3,315.8 761.7,323.0 761.1,315.6 760.5,315.2 759.9,318.9 759.3,315.1 758.7,315.1 758.1,319.8 757.5,316.2 756.9,316.6 756.3,315.6 755.7,318.6 755.1,316.9 754.5,316.2 753.9,318.2 753.3,323.8 752.7,313.7 752.1,319.5 751.5,312.3 750.9,307.6 750.3,306.0 749.7,307.8 749.1,313.7 748.5,304.4 747.9,305.4 747.3,301.7 746.7,296.8 746.1,299.9 745.5,308.1 744.9,324.4 744.3,327.3 743.7,335.1 743.1,335.8 742.5,339.3 741.9,342.3 741.3,347.4 740.7,345.2 740.1,350.4 739.5,346.4 738.9,348.8 738.3,347.7 737.7,350.6 737.1,348.5 736.5,351.8 735.9,352.8 735.3,352.5 734.7,352.5 734.1,351.8 733.5,352.2 732.9,354.5 732.3,358.9 731.7,357.2 731.1,354.7 730.5,364.7 729.9,360.7 729.3,356.6 728.7,361.7 728.1,361.3 727.5,362.2 726.9,358.1 726.3,358.6 725.7,364.8 725.1,359.2 724.5,364.4 723.9,360.8 723.3,362.0 722.7,366.8 722.1,358.8 721.5,366.6 720.9,359.3 720.3,362.5 719.7,364.4 719.1,374.4 718.5,365.8 717.9,370.8 717.3,363.9 716.7,370.4 716.1,362.9 715.5,366.0 714.9,374.6 714.3,369.7 713.7,371.8 713.1,368.3 712.5,382.1 711.9,365.0 711.3,367.7 710.7,366.1 710.1,370.5 709.5,368.0 708.9,370.5 708.3,375.0 707.7,367.5 707.1,369.4 706.5,377.1 705.9,369.3 705.3,369.2 704.7,377.3 704.1,373.1 703.5,374.2 702.9,374.6 702.3,380.7 701.7,379.5 701.1,376.6 700.5,382.8 699.9,380.0 699.3,381.8 698.7,393.9 698.1,398.3 697.5,388.9 696.9,392.6 696.3,387.9 695.7,388.0 695.1,393.9 694.5,389.9 693.9,393.3 693.3,392.7 692.7,407.6 692.1,408.0 691.5,402.4 690.9,410.3 690.3,395.8 689.7,407.1 689.1,398.6 688.5,409.2 687.9,414.2 687.3,399.0 686.7,404.0 686.1,399.3 685.5,399.7 684.9,399.6 684.3,403.5 683.7,404.1 683.1,416.1 682.5,402.7 681.9,401.3 681.3,400.8 680.7,403.1 680.1,402.8 679.5,401.5 678.9,403.2 678.3,405.5 677.7,405.4 677.1,403.3 676.5,408.1 675.9,406.1 675.3,404.0 674.7,405.0 674.1,405.1 673.5,406.1 672.9,407.1 672.3,406.6 671.7,408.2 671.1,414.9 670.5,404.8 669.9,405.9 669.3,405.1 668.7,419.7 668.1,404.5 667.5,404.4 666.9,404.3 666.3,410.0 665.7,404.1 665.1,407.9 664.5,416.3 663.9,404.9 663.3,403.8 662.7,405.0 662.1,406.7 661.5,403.8 660.9,404.0 660.3,409.2 659.7,403.5 659.1,405.1 658.5,407.2 657.9,416.2 657.3,402.5 656.7,414.3 656.1,401.8 655.5,401.5 654.9,410.0 654.3,410.3 653.7,401.9 653.1,402.0 652.5,399.5 651.9,405.6 651.3,398.5 650.7,406.5 650.1,401.2 649.5,398.6 648.9,398.8 648.3,396.2 647.7,397.4 647.1,398.5 646.5,395.2 645.9,395.7 645.3,396.3 644.7,409.9 644.1,400.4 643.5,402.4 642.9,407.2 642.3,394.2 641.7,391.9 641.1,390.7 640.5,389.9 639.9,390.7 639.3,388.9 638.7,386.5 638.1,385.9 637.5,386.3 636.9,398.6 636.3,382.4 635.7,380.3 635.1,379.8 634.5,378.5 633.9,377.2 633.3,380.4 632.7,376.5 632.1,382.3 631.5,381.4 630.9,373.5 630.3,382.5 629.7,372.3 629.1,371.7 628.5,373.2 627.9,370.3 627.3,369.4 626.7,383.1 626.1,367.7 625.5,371.6 624.9,381.8 624.3,366.7 623.7,364.5 623.1,363.8 622.5,364.6 621.9,362.1 621.3,374.2 620.7,367.0 620.1,361.9 619.5,360.6 618.9,375.5 618.3,363.8 617.7,364.3 617.1,365.4 616.5,368.4 615.9,383.7 615.3,384.8 614.7,373.1 614.1,378.5 613.5,379.5 612.9,383.2 612.3,387.1 611.7,386.0 611.1,379.7 610.5,374.1 609.9,379.0 609.3,366.4 608.7,369.1 608.1,360.8 607.5,358.6 606.9,357.8 606.3,366.5 605.7,355.4 605.1,359.6 604.5,353.7 603.9,353.2 603.3,355.9 602.7,355.0 602.1,361.4 601.5,354.8 600.9,356.0 600.3,359.8 599.7,363.5 599.1,358.1 598.5,357.8 597.9,368.3 597.3,357.6 596.7,361.7 596.1,358.1 595.5,366.9 594.9,363.6 594.3,372.8 593.7,386.9 593.1,386.4 592.5,376.9 591.9,382.4 591.3,387.7 590.7,392.3 590.1,388.2 589.5,386.6 588.9,392.1 588.3,381.1 587.7,380.0 587.1,393.5 586.5,380.7 585.9,376.5 585.3,376.4 584.7,384.1 584.1,375.1 583.5,374.4 582.9,374.9 582.3,382.7 581.7,376.5 581.1,374.6 580.5,373.3 579.9,375.8 579.3,373.1 578.7,379.3 578.1,373.8 577.5,377.5 576.9,376.0 576.3,372.9 575.7,372.8 575.1,373.1 574.5,372.6 573.9,372.3 573.3,372.2 572.7,372.4 572.1,372.8 571.5,375.8 570.9,375.4 570.3,374.2 569.7,380.1 569.1,376.0 568.5,376.7 567.9,377.3 567.3,385.0 566.7,378.9 566.1,382.5 565.5,380.2 564.9,380.6 564.3,383.4 563.7,382.0 563.1,389.5 562.5,382.9 561.9,399.2 561.3,383.8 560.7,389.2 560.1,398.1 559.5,382.1 558.9,397.4 558.3,382.2 557.7,381.3 557.1,390.7 556.5,390.0 555.9,378.0 555.3,377.3 554.7,378.0 554.1,376.4 553.5,376.4 552.9,374.9 552.3,374.4 551.7,375.4 551.1,377.4 550.5,372.6 549.9,371.9 549.3,386.2 548.7,369.2 548.1,371.4 547.5,377.0 546.9,372.3 546.3,364.0 545.7,363.4 545.1,363.2 544.5,360.7 543.9,367.6 543.3,358.2 542.7,357.3 542.1,358.5 541.5,356.2 540.9,362.7 540.3,364.9 539.7,359.2 539.1,353.2 538.5,354.1 537.9,353.3 537.3,358.3 536.7,353.2 536.1,348.4 535.5,360.0 534.9,350.7 534.3,345.7 533.7,353.5 533.1,344.0 532.5,342.8 531.9,343.2 531.3,353.0 530.7,343.4 530.1,342.7 529.5,342.8 528.9,346.9 528.3,340.7 527.7,338.3 527.1,346.0 526.5,337.9 525.9,347.7 525.3,342.5 524.7,345.6 524.1,337.3 523.5,338.1 522.9,337.0 522.3,347.3 521.7,336.7 521.1,337.6 520.5,336.1 519.9,338.0 519.3,336.5 518.7,340.7 518.1,337.2 517.5,335.4 516.9,335.9 516.3,336.0 515.7,345.8 515.1,336.4 514.5,336.2 513.9,337.4 513.3,336.1 512.7,336.2 512.1,337.1 511.5,336.1 510.9,339.0 510.3,336.8 509.7,337.6 509.1,336.8 508.5,340.4 507.9,338.5 507.3,342.9 506.7,339.0 506.1,338.1 505.5,344.4 504.9,340.7 504.3,338.9 503.7,344.1 503.1,349.9 502.5,350.2 501.9,340.4 501.3,340.6 500.7,342.6 500.1,346.1 499.5,342.4 498.9,342.9 498.3,344.7 497.7,344.2 497.1,347.3 496.5,347.0 495.9,346.4 495.3,357.3 494.7,349.4 494.1,349.0 493.5,349.8 492.9,353.4 492.3,358.8 491.7,365.9 491.1,357.3 490.5,361.5 489.9,362.1 489.3,364.7 488.7,365.7 488.1,368.0 487.5,370.2 486.9,370.9 486.3,382.0 485.7,372.6 485.1,376.2 484.5,374.4 483.9,376.6 483.3,382.5 482.7,378.2 482.1,380.6 481.5,381.2 480.9,387.1 480.3,386.7 479.7,385.7 479.1,387.3 478.5,392.0 477.9,390.6 477.3,399.0 476.7,398.4 476.1,394.9 475.5,395.9 474.9,399.4 474.3,398.2 473.7,400.8 473.1,399.9 472.5,402.4 471.9,401.3 471.3,404.4 470.7,400.9 470.1,401.4 469.5,401.7 468.9,403.2 468.3,402.8 467.7,409.8 467.1,404.4 466.5,404.3 465.9,406.7 465.3,407.5 464.7,413.3 464.1,416.7 463.5,406.4 462.9,407.4 462.3,406.9 461.7,411.5 461.1,418.0 460.5,407.1 459.9,407.3 459.3,417.5 458.7,406.5 458.1,408.0 457.5,406.5 456.9,406.1 456.3,415.6 455.7,405.7 455.1,412.6 454.5,405.5 453.9,407.2 453.3,404.5 452.7,405.1 452.1,414.7 451.5,406.7 450.9,407.3 450.3,404.4 449.7,406.3 449.1,405.2 448.5,404.8 447.9,405.1 447.3,405.0 446.7,405.5 446.1,416.7 445.5,408.1 444.9,407.4 444.3,408.2 443.7,408.1 443.1,409.0 442.5,409.2 441.9,414.4 441.3,411.9 440.7,408.3 440.1,411.1 439.5,408.1 438.9,406.8 438.3,410.5 437.7,405.0 437.1,404.3 436.5,403.3 435.9,402.7 435.3,402.4 434.7,407.9 434.1,402.3 433.5,402.2 432.9,405.0 432.3,400.7 431.7,400.4 431.1,401.9 430.5,400.3 429.9,399.5 429.3,399.3 428.7,398.8 428.1,398.8 427.5,401.4 426.9,400.3 426.3,398.1 425.7,407.5 425.1,401.6 424.5,398.4 423.9,397.6 423.3,395.9 422.7,395.7 422.1,395.6 421.5,394.8 420.9,398.5 420.3,394.7 419.7,394.4 419.1,396.0 418.5,393.4 417.9,393.2 417.3,392.7 416.7,392.2 416.1,391.5 415.5,396.7 414.9,394.6 414.3,388.8 413.7,390.1 413.1,388.4 412.5,391.1 411.9,390.0 411.3,385.4 410.7,392.2 410.1,383.2 409.5,389.1 408.9,381.8 408.3,382.6 407.7,381.1 407.1,385.2 406.5,380.4 405.9,383.3 405.3,381.3 404.7,378.3 404.1,378.4 403.5,377.2 402.9,383.6 402.3,376.5 401.7,383.5 401.1,374.9 400.5,374.2 399.9,373.2 399.3,377.8 398.7,373.2 398.1,371.3 397.5,370.6 396.9,370.7 396.3,371.2 395.7,370.2 395.1,371.4 394.5,369.0 393.9,372.5 393.3,368.2 392.7,367.4 392.1,367.7 391.5,366.5 390.9,373.2 390.3,366.5 389.7,368.8 389.1,365.7 388.5,363.8 387.9,363.1 387.3,362.6 386.7,364.5 386.1,363.1 385.5,361.4 384.9,362.0 384.3,364.2 383.7,362.0 383.1,360.2 382.5,360.4 381.9,364.8 381.3,362.8 380.7,361.9 380.1,362.1 379.5,360.8 378.9,361.7 378.3,360.9 377.7,360.1 377.1,360.7 376.5,368.2 375.9,359.2 375.3,359.7 374.7,359.1 374.1,359.1 373.5,359.2 372.9,361.4 372.3,361.3 371.7,360.9 371.1,361.8 370.5,368.7 369.9,366.6 369.3,364.4 368.7,366.1 368.1,375.5 367.5,365.9 366.9,367.6 366.3,372.2 365.7,368.5 365.1,368.4 364.5,369.1 363.9,369.8 363.3,371.5 362.7,371.7 362.1,373.0 361.5,373.7 360.9,375.6 360.3,385.6 359.7,378.4 359.1,378.3 358.5,380.4 357.9,379.4 357.3,383.5 356.7,382.2 356.1,392.0 355.5,386.3 354.9,390.0 354.3,398.4 353.7,392.6 353.1,401.2 352.5,395.4 351.9,396.7 351.3,401.0 350.7,400.1 350.1,405.8 349.5,404.1 348.9,405.2 348.3,405.2 347.7,416.8 347.1,409.1 346.5,418.5 345.9,412.0 345.3,415.7 344.7,415.4 344.1,416.9 343.5,422.4 342.9,412.9 342.3,413.4 341.7,413.9 341.1,421.2 340.5,415.6 339.9,413.4 339.3,419.2 338.7,413.0 338.1,413.2 337.5,412.2 336.9,413.9 336.3,412.7 335.7,412.4 335.1,411.8 334.5,414.8 333.9,412.7 333.3,413.0 332.7,411.2 332.1,413.9 331.5,414.9 330.9,413.1 330.3,408.3 329.7,408.7 329.1,405.9 328.5,408.0 327.9,403.5 327.3,403.2 326.7,401.6 326.1,401.6 325.5,397.7 324.9,397.9 324.3,395.5 323.7,393.8 323.1,392.5 322.5,391.4 321.9,390.2 321.3,389.2 320.7,389.2 320.1,389.6 319.5,386.6 318.9,386.4 318.3,385.8 317.7,384.1 317.1,383.2 316.5,382.6 315.9,380.4 315.3,379.5 314.7,378.5 314.1,375.9 313.5,379.8 312.9,372.5 312.3,371.0 311.7,369.2 311.1,368.2 310.5,366.3 309.9,369.8 309.3,365.0 308.7,362.3 308.1,360.9 307.5,360.7 306.9,359.8 306.3,358.2 305.7,358.2 305.1,356.4 304.5,361.7 303.9,356.5 303.3,353.1 302.7,352.4 302.1,350.3 301.5,352.4 300.9,347.9 300.3,347.4 299.7,346.2 299.1,352.0 298.5,346.6 297.9,349.0 297.3,350.2 296.7,347.9 296.1,349.2 295.5,349.5 294.9,351.0 294.3,349.2 293.7,349.6 293.1,349.8 292.5,350.3 291.9,351.7 291.3,351.5 290.7,353.0 290.1,352.3 289.5,352.2 288.9,352.9 288.3,352.6 287.7,356.2 287.1,371.1 286.5,380.7 285.9,394.0 285.3,399.8 284.7,400.6 284.1,401.8 283.5,405.2 282.9,406.0 282.3,407.9 281.7,409.2 281.1,410.7 280.5,411.7 279.9,414.0 279.3,412.6 278.7,412.8 278.1,412.7 277.5,414.8 276.9,417.3 276.3,415.5 275.7,416.1 275.1,417.7 274.5,419.5 273.9,419.2 273.3,423.3 272.7,420.2 272.1,422.1 271.5,422.8 270.9,420.7 270.3,417.9 269.7,417.2 269.1,415.8 268.5,413.9 267.9,412.2 267.3,414.1 266.7,409.9 266.1,411.4 265.5,406.9 264.9,406.2 264.3,405.3 263.7,404.1 263.1,406.7 262.5,401.4 261.9,399.9 261.3,398.3 260.7,396.6 260.1,395.4 259.5,393.7 258.9,391.3 258.3,389.3 257.7,389.1 257.1,386.8 256.5,385.7 255.9,383.8 255.3,382.9 254.7,380.8 254.1,380.4 253.5,377.4 252.9,376.4 252.3,373.8 251.7,367.7 251.1,364.9 250.5,363.9 249.9,359.1 249.3,356.7 248.7,353.9 248.1,353.9 247.5,354.0 246.9,358.8 246.3,355.1 245.7,360.8 245.1,357.5 244.5,361.9 243.9,356.9 243.3,358.4 242.7,361.2 242.1,358.4 241.5,358.3 240.9,359.7 240.3,359.9 239.7,359.2 239.1,366.9 238.5,379.9 237.9,392.8 237.3,402.2 236.7,403.0 236.1,409.5 235.5,405.0 234.9,411.1 234.3,411.7 233.7,407.4 233.1,409.2 232.5,414.1 231.9,412.0 231.3,414.5 230.7,415.5 230.1,417.2 229.5,418.9 228.9,418.9 228.3,418.3 227.7,420.7 227.1,417.7 226.5,416.8 225.9,416.1 225.3,415.1 224.7,415.4 224.1,413.7 223.5,416.3 222.9,412.6 222.3,411.7 221.7,411.4 221.1,411.9 220.5,412.1 219.9,408.1 219.3,408.0 218.7,404.9 218.1,403.7 217.5,404.3 216.9,399.4 216.3,398.8 215.7,397.0 215.1,394.5 214.5,393.2 213.9,392.0 213.3,391.5 212.7,391.5 212.1,390.7 211.5,390.8 210.9,389.9 210.3,389.2 209.7,390.3 209.1,390.4 208.5,388.0 207.9,388.6 207.3,388.5 206.7,391.9 206.1,391.1 205.5,394.1 204.9,395.3 204.3,400.4 203.7,398.7 203.1,400.3 202.5,402.0 201.9,407.5 201.3,405.8 200.7,407.7 200.1,407.0 199.5,407.2 198.9,407.4 198.3,407.7 197.7,407.9 197.1,407.1 196.5,407.6 195.9,406.6 195.3,406.9 194.7,406.0 194.1,406.7 193.5,409.8 192.9,407.3 192.3,405.5 191.7,406.1 191.1,404.9 190.5,402.4 189.9,399.1 189.3,393.4 188.7,389.1 188.1,383.0 187.5,379.9 186.9,376.1 186.3,373.4 185.7,375.9 185.1,379.5 184.5,384.0 183.9,388.4 183.3,394.4 182.7,399.4 182.1,401.3 181.5,404.9 180.9,404.2 180.3,407.3 179.7,406.6 179.1,408.2 178.5,408.4 177.9,410.0 177.3,411.0 176.7,413.0 176.1,413.5 175.5,414.4 174.9,415.3 174.3,415.3 173.7,416.5 173.1,417.3 172.5,419.0 171.9,417.4 171.3,417.8 170.7,417.9 170.1,422.6 169.5,422.8 168.9,419.7 168.3,420.6 167.7,420.6 167.1,422.0 166.5,420.8 165.9,420.4 165.3,419.9 164.7,420.0 164.1,420.5 163.5,419.9 162.9,419.9" fill="#0000FF" stroke="#0000FF" stroke-width="0.8" stroke-linejoin="round"/>
<polyline points="162.9,418.1 164.7,418.2 166.5,418.3 168.3,418.1 170.1,416.9 171.9,415.4 173.7,414.0 175.5,412.5 177.3,409.4 179.1,405.7 180.9,402.7 182.7,395.7 184.5,382.3 186.3,371.4 188.1,381.6 189.9,396.2 191.7,403.8 193.5,404.1 195.3,404.6 197.1,405.1 198.9,405.5 200.7,404.5 202.5,400.1 204.3,394.7 206.1,389.6 207.9,386.2 209.7,387.3 211.5,388.7 213.3,389.9 215.1,393.0 216.9,398.0 218.7,403.4 220.5,408.0 222.3,410.2 224.1,412.1 225.9,414.2 227.7,416.2 229.5,416.9 231.3,412.3 233.1,407.0 234.9,404.0 236.7,400.7 238.5,377.4 240.3,356.7 242.1,355.6 243.9,354.3 245.7,352.9 247.5,351.8 249.3,353.2 251.1,361.9 252.9,372.0 254.7,378.7 256.5,382.5 258.3,387.6 260.1,393.3 261.9,398.6 263.7,402.7 265.5,405.5 267.3,409.4 269.1,413.8 270.9,417.7 272.7,418.7 274.5,416.5 276.3,413.8 278.1,411.3 279.9,409.5 281.7,406.1 283.5,401.7 285.3,398.3 287.1,364.4 288.9,349.6 290.7,348.7 292.5,347.5 294.3,346.2 296.1,345.0 297.9,344.0 299.7,343.9 301.5,346.7 303.3,350.4 305.1,354.1 306.9,356.8 308.7,359.7 310.5,363.9 312.3,368.8 314.1,373.9 315.9,378.7 317.7,382.5 319.5,385.1 321.3,387.7 323.1,391.0 324.9,394.8 326.7,398.7 328.5,402.5 330.3,405.8 332.1,408.5 333.9,409.7 335.7,409.9 337.5,410.1 339.3,410.4 341.1,410.6 342.9,410.8 344.7,411.0 346.5,407.7 348.3,403.1 350.1,398.2 351.9,394.4 353.7,390.6 355.5,384.4 357.3,378.3 359.1,375.2 360.9,372.7 362.7,369.6 364.5,366.8 366.3,364.9 368.1,363.3 369.9,361.1 371.7,358.9 373.5,357.3 375.3,357.1 377.1,357.3 378.9,357.5 380.7,357.7 382.5,357.9 384.3,358.4 386.1,359.5 387.9,361.1 389.7,362.7 391.5,364.4 393.3,365.8 395.1,366.9 396.9,368.1 398.7,369.7 400.5,371.7 402.3,373.8 404.1,375.7 405.9,377.2 407.7,378.4 409.5,380.2 411.3,382.5 413.1,385.1 414.9,387.6 416.7,389.7 418.5,391.4 420.3,392.1 422.1,392.9 423.9,393.8 425.7,394.9 427.5,396.0 429.3,397.1 431.1,398.0 432.9,398.8 434.7,399.6 436.5,401.2 438.3,403.3 440.1,405.4 441.9,406.9 443.7,406.0 445.5,404.5 447.3,402.9 449.1,401.7 450.9,401.6 452.7,402.1 454.5,402.8 456.3,403.5 458.1,404.2 459.9,404.8 461.7,405.1 463.5,404.2 465.3,402.9 467.1,401.5 468.9,400.0 470.7,398.7 472.5,397.7 474.3,395.8 476.1,392.4 477.9,388.2 479.7,383.6 481.5,378.9 483.3,374.5 485.1,370.8 486.9,368.0 488.7,363.5 490.5,357.2 492.3,350.8 494.1,345.8 495.9,343.9 497.7,342.0 499.5,339.9 501.3,338.0 503.1,336.7 504.9,336.2 506.7,335.6 508.5,334.9 510.3,334.2 512.1,333.5 513.9,333.0 515.7,332.9 517.5,333.1 519.3,333.4 521.1,333.7 522.9,334.1 524.7,334.4 526.5,334.6 528.3,334.8 530.1,336.7 531.9,339.1 533.7,342.0 535.5,345.2 537.3,348.2 539.1,351.0 540.9,353.2 542.7,355.1 544.5,358.1 546.3,361.8 548.1,365.8 549.9,369.3 551.7,371.8 553.5,373.2 555.3,375.1 557.1,377.3 558.9,379.4 560.7,381.0 562.5,380.7 564.3,379.1 566.1,377.1 567.9,374.9 569.7,372.7 571.5,371.0 573.3,369.8 575.1,370.1 576.9,370.4 578.7,370.7 580.5,371.1 582.3,371.5 584.1,371.7 585.9,373.7 587.7,377.6 589.5,383.6 591.3,383.5 593.1,371.7 594.9,361.4 596.7,355.7 598.5,354.6 600.3,353.3 602.1,352.0 603.9,351.0 605.7,353.3 607.5,356.2 609.3,364.1 611.1,376.9 612.9,379.4 614.7,367.8 616.5,364.5 618.3,360.4 620.1,358.2 621.9,359.9 623.7,362.1 625.5,364.7 627.3,367.3 629.1,369.5 630.9,371.3 632.7,373.2 634.5,376.0 636.3,379.4 638.1,383.1 639.9,386.6 641.7,389.5 643.5,391.4 645.3,392.3 647.1,393.3 648.9,394.6 650.7,395.9 652.5,397.3 654.3,398.6 656.1,399.7 657.9,400.6 659.7,401.1 661.5,401.3 663.3,401.6 665.1,401.9 666.9,402.2 668.7,402.5 670.5,402.7 672.3,402.9 674.1,402.5 675.9,401.4 677.7,400.2 679.5,399.2 681.3,398.7 683.1,398.1 684.9,397.5 686.7,397.1 688.5,395.6 690.3,393.3 692.1,390.5 693.9,387.9 695.7,385.8 697.5,383.5 699.3,379.3 701.1,374.3 702.9,369.9 704.7,363.2 706.5,352.9 708.3,352.3 710.1,351.5 711.9,350.6 713.7,349.6 715.5,348.7 717.3,347.9 719.1,347.3 720.9,346.8 722.7,346.2 724.5,345.5 726.3,344.7 728.1,344.0 729.9,343.5 731.7,342.6 733.5,341.3 735.3,339.7 737.1,338.1 738.9,336.6 740.7,335.4 742.5,330.5 744.3,319.0 746.1,291.9 747.9,296.1 749.7,301.2 751.5,306.0 753.3,310.8 755.1,312.1 756.9,312.2 758.7,312.3 760.5,312.5 762.3,312.6 764.1,312.8 765.9,312.9 767.7,313.1 769.5,314.7 771.3,316.9 773.1,319.4 774.9,322.0 776.7,324.4 778.5,326.3 780.3,327.7 782.1,329.7 783.9,332.1 785.7,334.7 787.5,337.3 789.3,339.5 791.1,341.0 792.9,342.0 794.7,343.1 796.5,344.4 798.3,345.8 800.1,347.4 801.9,349.0 803.7,350.6 805.5,352.3 807.3,353.9 809.1,355.3 810.9,356.6 812.7,357.8 814.5,358.8 816.3,359.5 818.1,360.3 819.9,361.3 821.7,362.4 823.5,363.7 825.3,364.9 827.1,366.3 828.9,367.6 830.7,368.8 832.5,370.0 834.3,371.1 836.1,372.0 837.9,372.8 839.7,373.3 841.5,373.9 843.3,374.5 845.1,375.3 846.9,376.1 848.7,376.9 850.5,377.8 852.3,378.8 854.1,379.7 855.9,380.6 857.7,381.5 859.5,382.3 861.3,383.1 863.1,383.8 864.9,384.4 866.7,384.9 868.5,385.3 870.3,385.6 872.1,386.0 873.9,386.4 875.7,386.9 877.5,387.4 879.3,387.9 881.1,388.4 882.9,389.0 884.7,389.6 886.5,390.2 888.3,390.7 890.1,391.3 891.9,391.9 893.7,392.4 895.5,392.9 897.3,393.4 899.1,393.8 900.9,394.2 902.7,394.6 904.5,394.9 906.3,395.2 908.1,395.6 909.9,396.0 911.7,396.5 913.5,397.0 915.3,397.6 917.1,398.1 918.9,398.8 920.7,399.4 922.5,400.0 924.3,400.7 926.1,401.3 927.9,401.9 929.7,402.6 931.5,403.1 933.3,403.7 935.1,404.2 936.9,404.7 938.7,405.2 940.5,405.6 942.3,405.9 944.1,404.3 945.9,401.3 947.7,395.4 949.5,377.8 951.3,362.5 953.1,357.3 954.9,350.4 956.7,342.8 958.5,336.0 960.3,331.8 962.1,330.1 963.9,327.8 965.7,325.4 967.5,323.3 969.3,322.2 971.1,323.5 972.9,325.2 974.7,327.2 976.5,329.2 978.3,330.8 980.1,332.2 981.9,336.4 983.7,342.3 985.5,348.5 987.3,353.7 989.1,356.8 990.9,359.1 992.7,361.9 994.5,365.1 996.3,368.7 998.1,372.4 999.9,376.1 1001.7,379.7 1003.5,382.9 1005.3,385.8 1007.1,388.1 1008.9,389.5 1010.7,390.5 1012.5,391.8 1014.3,393.3 1016.1,394.8 1017.9,396.4 1019.7,397.8 1021.5,399.0 1023.3,399.9 1025.1,399.3 1026.9,398.1 1028.7,396.9 1030.5,396.0 1032.3,340.2 1034.1,332.7 1035.9,333.2 1037.7,339.5 1039.5,343.4 1041.3,345.5 1043.1,348.2 1044.9,351.2 1046.7,354.1 1048.5,356.5 1050.3,358.3 1052.1,361.0 1053.9,364.6 1055.7,368.5 1057.5,372.2 1059.3,375.2 1061.1,376.7 1062.9,378.3 1064.7,380.2 1066.5,382.3 1068.3,384.5 1070.1,386.6 1071.9,388.5 1073.7,390.1 1075.5,391.1 1077.3,391.4 1079.1,391.9 1080.9,392.3 1082.7,392.6 1084.5,392.0 1086.3,391.2 1088.1,390.4 1089.9,389.4 1091.7,388.4 1093.5,387.5 1095.3,386.8 1097.1,386.1 1098.9,386.6 1100.7,387.6 1102.5,388.8 1104.3,390.2 1106.1,391.6 1107.9,393.1 1109.7,394.5 1111.5,395.8 1113.3,396.8 1115.1,397.6 1116.9,397.9 1118.7,398.2 1120.5,398.5 1122.3,398.9 1124.1,399.3 1125.9,399.7 1127.7,400.2 1129.5,400.7 1131.3,401.1 1133.1,401.6 1134.9,402.1 1136.7,402.5 1138.5,402.9 1140.3,403.2 1142.1,403.6 1143.9,403.9 1145.7,404.0 1147.5,404.0 1149.3,404.1 1151.1,404.1 1152.9,404.1 1154.7,404.2 1156.5,404.2 1158.3,404.3 1160.1,404.3 1161.9,404.3 1163.7,404.4 1165.5,404.4 1167.3,404.5 1169.1,404.5 1170.9,404.6 1172.7,404.6 1174.5,404.7 1176.3,404.7 1178.1,404.8 1179.9,404.8 1181.7,404.9 1183.5,404.9" fill="none" stroke="#0000FF" stroke-width="2.3" stroke-linejoin="round"/>
<g fill="none" stroke-width="1.9">
<path d="M176.3,355.8V445.8M171.3,355.8H181.3M171.3,445.8H181.3M169.3,415.8H183.3M169.3,410.8V420.8M183.3,410.8V420.8" stroke="#CA6612"/><path d="M172.10000000000002,415.8L176.3,411.6L180.5,415.8L176.3,420.0Z" fill="#CA6612" stroke="none"/>
<path d="M184.5,352.5V407M179.5,352.5H189.5M179.5,407H189.5M178.5,384.2H190.5M178.5,379.2V389.2M190.5,379.2V389.2" stroke="#CA6612"/><path d="M180.3,384.2L184.5,380.0L188.7,384.2L184.5,388.4Z" fill="#CA6612" stroke="none"/>
<path d="M174.7,385V416.7M169.7,385H179.7M169.7,416.7H179.7M168.7,401.7H180.7M168.7,396.7V406.7M180.7,396.7V406.7" stroke="#CA6612"/><path d="M170.5,401.7L174.7,397.5L178.89999999999998,401.7L174.7,405.9Z" fill="#CA6612" stroke="none"/>
<path d="M192.2,360V456.7M187.2,360H197.2M187.2,456.7H197.2M185.7,410.8H198.7M185.7,405.8V415.8M198.7,405.8V415.8" stroke="#CA6612"/><path d="M188.0,410.8L192.2,406.6L196.39999999999998,410.8L192.2,415.0Z" fill="#CA6612" stroke="none"/>
<path d="M193,365.8V400M188.0,365.8H198.0M188.0,400H198.0M187,383.3H199M187,378.3V388.3M199,378.3V388.3" stroke="#CA6612"/><path d="M188.8,383.3L193,379.1L197.2,383.3L193,387.5Z" fill="#CA6612" stroke="none"/>
<path d="M201.3,360.8V402M196.3,360.8H206.3M196.3,402H206.3M195.3,381.7H207.3M195.3,376.7V386.7M207.3,376.7V386.7" stroke="#CA6612"/><path d="M197.10000000000002,381.7L201.3,377.5L205.5,381.7L201.3,385.9Z" fill="#CA6612" stroke="none"/>
<path d="M209.7,377V426.7M204.7,377H214.7M204.7,426.7H214.7M203.7,406.7H215.7M203.7,401.7V411.7M215.7,401.7V411.7" stroke="#CA6612"/><path d="M205.5,406.7L209.7,402.5L213.89999999999998,406.7L209.7,410.9Z" fill="#CA6612" stroke="none"/>
<path d="M218.8,362.5V400M213.8,362.5H223.8M213.8,400H223.8M212.3,381.7H225.3M212.3,376.7V386.7M225.3,376.7V386.7" stroke="#CA6612"/><path d="M214.60000000000002,381.7L218.8,377.5L223.0,381.7L218.8,385.9Z" fill="#CA6612" stroke="none"/>
<path d="M229,415V454.8M224.0,415H234.0M224.0,454.8H234.0M222.5,437H235.5M222.5,432.0V442.0M235.5,432.0V442.0" stroke="#CA6612"/><path d="M224.8,437L229,432.8L233.2,437L229,441.2Z" fill="#CA6612" stroke="none"/>
<path d="M239,363.5V395M234.0,363.5H244.0M234.0,395H244.0M232.5,378.8H245.5M232.5,373.8V383.8M245.5,373.8V383.8" stroke="#CA6612"/><path d="M234.8,378.8L239,374.6L243.2,378.8L239,383.0Z" fill="#CA6612" stroke="none"/>
<path d="M248.9,330V359M243.9,330H253.9M243.9,359H253.9M242.4,344.5H255.4M242.4,339.5V349.5M255.4,339.5V349.5" stroke="#CA6612"/><path d="M244.70000000000002,344.5L248.9,340.3L253.1,344.5L248.9,348.7Z" fill="#CA6612" stroke="none"/>
<path d="M259.7,378.8V411.4M254.7,378.8H264.7M254.7,411.4H264.7M253.2,395H266.2M253.2,390.0V400.0M266.2,390.0V400.0" stroke="#CA6612"/><path d="M255.5,395L259.7,390.8L263.9,395L259.7,399.2Z" fill="#CA6612" stroke="none"/>
<path d="M271.1,409V441.3M266.1,409H276.1M266.1,441.3H276.1M264.8,425.8H277.40000000000003M264.8,420.8V430.8M277.40000000000003,420.8V430.8" stroke="#CA6612"/><path d="M266.90000000000003,425.8L271.1,421.6L275.3,425.8L271.1,430.0Z" fill="#CA6612" stroke="none"/>
<path d="M282.9,380.1V410.2M277.9,380.1H287.9M277.9,410.2H287.9M276.4,396H289.4M276.4,391.0V401.0M289.4,391.0V401.0" stroke="#CA6612"/><path d="M278.7,396L282.9,391.8L287.09999999999997,396L282.9,400.2Z" fill="#CA6612" stroke="none"/>
<path d="M295.2,341.2V374.6M290.2,341.2H300.2M290.2,374.6H300.2M288.7,356.8H301.7M288.7,351.8V361.8M301.7,351.8V361.8" stroke="#CA6612"/><path d="M291.0,356.8L295.2,352.6L299.4,356.8L295.2,361.0Z" fill="#CA6612" stroke="none"/>
<path d="M308.3,315.6V346.7M303.3,315.6H313.3M303.3,346.7H313.3M301.3,331.2H315.3M301.3,326.2V336.2M315.3,326.2V336.2" stroke="#CA6612"/><path d="M304.1,331.2L308.3,327.0L312.5,331.2L308.3,335.4Z" fill="#CA6612" stroke="none"/>
<path d="M321.2,342.3V376.8M316.2,342.3H326.2M316.2,376.8H326.2M314.2,359H328.2M314.2,354.0V364.0M328.2,354.0V364.0" stroke="#CA6612"/><path d="M317.0,359L321.2,354.8L325.4,359L321.2,363.2Z" fill="#CA6612" stroke="none"/>
<path d="M335,377.9V414.6M330.0,377.9H340.0M330.0,414.6H340.0M328,394.6H342M328,389.6V399.6M342,389.6V399.6" stroke="#CA6612"/><path d="M330.8,394.6L335,390.40000000000003L339.2,394.6L335,398.8Z" fill="#CA6612" stroke="none"/>
<path d="M349.5,381.9V416.8M344.5,381.9H354.5M344.5,416.8H354.5M342.5,398H356.5M342.5,393.0V403.0M356.5,393.0V403.0" stroke="#CA6612"/><path d="M345.3,398L349.5,393.8L353.7,398L349.5,402.2Z" fill="#CA6612" stroke="none"/>
<path d="M364.2,335.6V369M359.2,335.6H369.2M359.2,369H369.2M356.4,352.7H372.0M356.4,347.7V357.7M372.0,347.7V357.7" stroke="#CA6612"/><path d="M360.0,352.7L364.2,348.5L368.4,352.7L364.2,356.9Z" fill="#CA6612" stroke="none"/>
<path d="M379.8,331.8V369M374.8,331.8H384.8M374.8,369H384.8M372.0,351.2H387.6M372.0,346.2V356.2M387.6,346.2V356.2" stroke="#CA6612"/><path d="M375.6,351.2L379.8,347.0L384.0,351.2L379.8,355.4Z" fill="#CA6612" stroke="none"/>
<path d="M395.8,359V398M390.8,359H400.8M390.8,398H400.8M387.8,377.9H403.8M387.8,372.9V382.9M403.8,372.9V382.9" stroke="#CA6612"/><path d="M391.6,377.9L395.8,373.7L400.0,377.9L395.8,382.09999999999997Z" fill="#CA6612" stroke="none"/>
<path d="M412.5,356.4V397.7M407.5,356.4H417.5M407.5,397.7H417.5M403.5,376.5H421.5M403.5,371.5V381.5M421.5,371.5V381.5" stroke="#CA6612"/><path d="M408.3,376.5L412.5,372.3L416.7,376.5L412.5,380.7Z" fill="#CA6612" stroke="none"/>
<path d="M429.6,362.7V407.8M424.6,362.7H434.6M424.6,407.8H434.6M420.6,384H438.6M420.6,379.0V389.0M438.6,379.0V389.0" stroke="#CA6612"/><path d="M425.40000000000003,384L429.6,379.8L433.8,384L429.6,388.2Z" fill="#CA6612" stroke="none"/>
<path d="M448.4,391.5V436.6M443.4,391.5H453.4M443.4,436.6H453.4M438.9,413.3H457.9M438.9,408.3V418.3M457.9,408.3V418.3" stroke="#CA6612"/><path d="M444.2,413.3L448.4,409.1L452.59999999999997,413.3L448.4,417.5Z" fill="#CA6612" stroke="none"/>
<path d="M467.6,381.5V429M462.6,381.5H472.6M462.6,429H472.6M458.1,404H477.1M458.1,399.0V409.0M477.1,399.0V409.0" stroke="#CA6612"/><path d="M463.40000000000003,404L467.6,399.8L471.8,404L467.6,408.2Z" fill="#CA6612" stroke="none"/>
<path d="M486.9,322.6V376.5M481.9,322.6H491.9M481.9,376.5H491.9M476.9,349.4H496.9M476.9,344.4V354.4M496.9,344.4V354.4" stroke="#CA6612"/><path d="M482.7,349.4L486.9,345.2L491.09999999999997,349.4L486.9,353.59999999999997Z" fill="#CA6612" stroke="none"/>
<path d="M507.2,311.3V369M502.2,311.3H512.2M502.2,369H512.2M497.2,340.1H517.2M497.2,335.1V345.1M517.2,335.1V345.1" stroke="#CA6612"/><path d="M503.0,340.1L507.2,335.90000000000003L511.4,340.1L507.2,344.3Z" fill="#CA6612" stroke="none"/>
<path d="M529,331.4V396.5M524.0,331.4H534.0M524.0,396.5H534.0M518,363.9H540M518,358.9V368.9M540,358.9V368.9" stroke="#CA6612"/><path d="M524.8,363.9L529,359.7L533.2,363.9L529,368.09999999999997Z" fill="#CA6612" stroke="none"/>
<path d="M551.1,271.2V346.8M546.1,271.2H556.1M546.1,346.8H556.1M539.6,308.6H562.6M539.6,303.6V313.6M562.6,303.6V313.6" stroke="#CA6612"/><path d="M546.9,308.6L551.1,304.40000000000003L555.3000000000001,308.6L551.1,312.8Z" fill="#CA6612" stroke="none"/>
<path d="M574.4,378.4V456.9M569.4,378.4H579.4M569.4,456.9H579.4M562.6999999999999,416.8H586.1M562.6999999999999,411.8V421.8M586.1,411.8V421.8" stroke="#CA6612"/><path d="M570.1999999999999,416.8L574.4,412.6L578.6,416.8L574.4,421.0Z" fill="#CA6612" stroke="none"/>
<path d="M597.8,381.6V479.3M592.8,381.6H602.8M592.8,479.3H602.8M585.8,431.3H609.8M585.8,426.3V436.3M609.8,426.3V436.3" stroke="#CA6612"/><path d="M593.5999999999999,431.3L597.8,427.1L602.0,431.3L597.8,435.5Z" fill="#CA6612" stroke="none"/>
<path d="M622.4,376.8V472.9M617.4,376.8H627.4M617.4,472.9H627.4M610.6,421.7H634.1999999999999M610.6,416.7V426.7M634.1999999999999,416.7V426.7" stroke="#CA6612"/><path d="M618.1999999999999,421.7L622.4,417.5L626.6,421.7L622.4,425.9Z" fill="#CA6612" stroke="none"/>
</g><g fill="none" stroke-width="2.3">
<path d="M619.9,287.2V376.8M614.9,287.2H624.9M614.9,376.8H624.9M614.3,332H625.5M614.3,327.0V337.0M625.5,327.0V337.0" stroke="#9C0808"/><path d="M615.6999999999999,332L619.9,327.8L624.1,332L619.9,336.2Z" fill="#9C0808" stroke="none"/>
<path d="M631.4,312.8V360.8M626.4,312.8H636.4M626.4,360.8H636.4M625.4,336.8H637.4M625.4,331.8V341.8M637.4,331.8V341.8" stroke="#9C0808"/><path d="M627.1999999999999,336.8L631.4,332.6L635.6,336.8L631.4,341.0Z" fill="#9C0808" stroke="none"/>
<path d="M643.9,378.4V418.5M638.9,378.4H648.9M638.9,418.5H648.9M637.9,397.6H649.9M637.9,392.6V402.6M649.9,392.6V402.6" stroke="#9C0808"/><path d="M639.6999999999999,397.6L643.9,393.40000000000003L648.1,397.6L643.9,401.8Z" fill="#9C0808" stroke="none"/>
<path d="M656,364V404M651.0,364H661.0M651.0,404H661.0M650,383.2H662M650,378.2V388.2M662,378.2V388.2" stroke="#9C0808"/><path d="M651.8,383.2L656,379.0L660.2,383.2L656,387.4Z" fill="#9C0808" stroke="none"/>
<path d="M667.9,413.6V447.3M662.9,413.6H672.9M662.9,447.3H672.9M661.4,429.6H674.4M661.4,424.6V434.6M674.4,424.6V434.6" stroke="#9C0808"/><path d="M663.6999999999999,429.6L667.9,425.40000000000003L672.1,429.6L667.9,433.8Z" fill="#9C0808" stroke="none"/>
<path d="M680.6,393.6V425.6M675.6,393.6H685.6M675.6,425.6H685.6M673.0,409.7H688.2M673.0,404.7V414.7M688.2,404.7V414.7" stroke="#9C0808"/><path d="M676.4,409.7L680.6,405.5L684.8000000000001,409.7L680.6,413.9Z" fill="#9C0808" stroke="none"/>
<path d="M693.6,372.7V404.7M688.6,372.7H698.6M688.6,404.7H698.6M686.0,389.4H701.2M686.0,384.4V394.4M701.2,384.4V394.4" stroke="#9C0808"/><path d="M689.4,389.4L693.6,385.2L697.8000000000001,389.4L693.6,393.59999999999997Z" fill="#9C0808" stroke="none"/>
<path d="M706.2,363V393.6M701.2,363H711.2M701.2,393.6H711.2M698.6,378.3H713.8000000000001M698.6,373.3V383.3M713.8000000000001,373.3V383.3" stroke="#9C0808"/><path d="M702.0,378.3L706.2,374.1L710.4000000000001,378.3L706.2,382.5Z" fill="#9C0808" stroke="none"/>
<path d="M720.1,359.6V391.3M715.1,359.6H725.1M715.1,391.3H725.1M712.5,375.5H727.7M712.5,370.5V380.5M727.7,370.5V380.5" stroke="#9C0808"/><path d="M715.9,375.5L720.1,371.3L724.3000000000001,375.5L720.1,379.7Z" fill="#9C0808" stroke="none"/>
<path d="M733.4,319.8V350.4M728.4,319.8H738.4M728.4,350.4H738.4M725.8,335.1H741.0M725.8,330.1V340.1M741.0,330.1V340.1" stroke="#9C0808"/><path d="M729.1999999999999,335.1L733.4,330.90000000000003L737.6,335.1L733.4,339.3Z" fill="#9C0808" stroke="none"/>
<path d="M747.1,283.6V310.1M742.1,283.6H752.1M742.1,310.1H752.1M739.5,297.6H754.7M739.5,292.6V302.6M754.7,292.6V302.6" stroke="#9C0808"/><path d="M742.9,297.6L747.1,293.40000000000003L751.3000000000001,297.6L747.1,301.8Z" fill="#9C0808" stroke="none"/>
<path d="M761.3,300.3V329.6M756.3,300.3H766.3M756.3,329.6H766.3M753.6999999999999,314.3H768.9M753.6999999999999,309.3V319.3M768.9,309.3V319.3" stroke="#9C0808"/><path d="M757.0999999999999,314.3L761.3,310.1L765.5,314.3L761.3,318.5Z" fill="#9C0808" stroke="none"/>
<path d="M775.7,294.8V322.6M770.7,294.8H780.7M770.7,322.6H780.7M768.1,309.5H783.3000000000001M768.1,304.5V314.5M783.3000000000001,304.5V314.5" stroke="#9C0808"/><path d="M771.5,309.5L775.7,305.3L779.9000000000001,309.5L775.7,313.7Z" fill="#9C0808" stroke="none"/>
<path d="M790.2,329V358.8M785.2,329H795.2M785.2,358.8H795.2M782.6,344.9H797.8000000000001M782.6,339.9V349.9M797.8000000000001,339.9V349.9" stroke="#9C0808"/><path d="M786.0,344.9L790.2,340.7L794.4000000000001,344.9L790.2,349.09999999999997Z" fill="#9C0808" stroke="none"/>
<path d="M805,321.8V350.4M800.0,321.8H810.0M800.0,350.4H810.0M797.4,336.5H812.6M797.4,331.5V341.5M812.6,331.5V341.5" stroke="#9C0808"/><path d="M800.8,336.5L805,332.3L809.2,336.5L805,340.7Z" fill="#9C0808" stroke="none"/>
<path d="M820.3,364.3V393.6M815.3,364.3H825.3M815.3,393.6H825.3M812.6999999999999,379.1H827.9M812.6999999999999,374.1V384.1M827.9,374.1V384.1" stroke="#9C0808"/><path d="M816.0999999999999,379.1L820.3,374.90000000000003L824.5,379.1L820.3,383.3Z" fill="#9C0808" stroke="none"/>
<path d="M835.6,355V391.3M830.6,355H840.6M830.6,391.3H840.6M828.0,372.7H843.2M828.0,367.7V377.7M843.2,367.7V377.7" stroke="#9C0808"/><path d="M831.4,372.7L835.6,368.5L839.8000000000001,372.7L835.6,376.9Z" fill="#9C0808" stroke="none"/>
<path d="M867.1,367.6V405.2M862.1,367.6H872.1M862.1,405.2H872.1M859.1,385.9H875.1M859.1,380.9V390.9M875.1,380.9V390.9" stroke="#9C0808"/><path d="M862.9,385.9L867.1,381.7L871.3000000000001,385.9L867.1,390.09999999999997Z" fill="#9C0808" stroke="none"/>
<path d="M883.3,368.9V401.4M878.3,368.9H888.3M878.3,401.4H888.3M875.3,385H891.3M875.3,380.0V390.0M891.3,380.0V390.0" stroke="#9C0808"/><path d="M879.0999999999999,385L883.3,380.8L887.5,385L883.3,389.2Z" fill="#9C0808" stroke="none"/>
<path d="M900.1,368.1V400.2M895.1,368.1H905.1M895.1,400.2H905.1M892.1,383.9H908.1M892.1,378.9V388.9M908.1,378.9V388.9" stroke="#9C0808"/><path d="M895.9,383.9L900.1,379.7L904.3000000000001,383.9L900.1,388.09999999999997Z" fill="#9C0808" stroke="none"/>
<path d="M916.9,397.7V430.7M911.9,397.7H921.9M911.9,430.7H921.9M908.4,414H925.4M908.4,409.0V419.0M925.4,409.0V419.0" stroke="#9C0808"/><path d="M912.6999999999999,414L916.9,409.8L921.1,414L916.9,418.2Z" fill="#9C0808" stroke="none"/>
<path d="M933.9,410.2V445.7M928.9,410.2H938.9M928.9,445.7H938.9M925.4,428.2H942.4M925.4,423.2V433.2M942.4,423.2V433.2" stroke="#9C0808"/><path d="M929.6999999999999,428.2L933.9,424.0L938.1,428.2L933.9,432.4Z" fill="#9C0808" stroke="none"/>
<path d="M951.4,347.1V382.7M946.4,347.1H956.4M946.4,382.7H956.4M942.4,365.1H960.4M942.4,360.1V370.1M960.4,360.1V370.1" stroke="#9C0808"/><path d="M947.1999999999999,365.1L951.4,360.90000000000003L955.6,365.1L951.4,369.3Z" fill="#9C0808" stroke="none"/>
<path d="M969.5,322.6V360.1M964.5,322.6H974.5M964.5,360.1H974.5M960.5,340.1H978.5M960.5,335.1V345.1M978.5,335.1V345.1" stroke="#9C0808"/><path d="M965.3,340.1L969.5,335.90000000000003L973.7,340.1L969.5,344.3Z" fill="#9C0808" stroke="none"/>
<path d="M987.2,350.1V389.7M982.2,350.1H992.2M982.2,389.7H992.2M978.2,369.6H996.2M978.2,364.6V374.6M996.2,364.6V374.6" stroke="#9C0808"/><path d="M983.0,369.6L987.2,365.40000000000003L991.4000000000001,369.6L987.2,373.8Z" fill="#9C0808" stroke="none"/>
<path d="M1005.5,311.3V354.6M1000.5,311.3H1010.5M1000.5,354.6H1010.5M995.5,333.1H1015.5M995.5,328.1V338.1M1015.5,328.1V338.1" stroke="#9C0808"/><path d="M1001.3,333.1L1005.5,328.90000000000003L1009.7,333.1L1005.5,337.3Z" fill="#9C0808" stroke="none"/>
<path d="M1024.5,400.2V442.2M1019.5,400.2H1029.5M1019.5,442.2H1029.5M1014.5,420.2H1034.5M1014.5,415.2V425.2M1034.5,415.2V425.2" stroke="#9C0808"/><path d="M1020.3,420.2L1024.5,416.0L1028.7,420.2L1024.5,424.4Z" fill="#9C0808" stroke="none"/>
<path d="M1043.3,303.8V351.3M1038.3,303.8H1048.3M1038.3,351.3H1048.3M1033.3,327.1H1053.3M1033.3,322.1V332.1M1053.3,322.1V332.1" stroke="#9C0808"/><path d="M1039.1,327.1L1043.3,322.90000000000003L1047.5,327.1L1043.3,331.3Z" fill="#9C0808" stroke="none"/>
<path d="M1063.1,355.1V403.2M1058.1,355.1H1068.1M1058.1,403.2H1068.1M1053.1,378.9H1073.1M1053.1,373.9V383.9M1073.1,373.9V383.9" stroke="#9C0808"/><path d="M1058.8999999999999,378.9L1063.1,374.7L1067.3,378.9L1063.1,383.09999999999997Z" fill="#9C0808" stroke="none"/>
<path d="M1082.6,368.1V418.4M1077.6,368.1H1087.6M1077.6,418.4H1087.6M1072.6,393.1H1092.6M1072.6,388.1V398.1M1092.6,388.1V398.1" stroke="#9C0808"/><path d="M1078.3999999999999,393.1L1082.6,388.90000000000003L1086.8,393.1L1082.6,397.3Z" fill="#9C0808" stroke="none"/>
<path d="M1103.1,320V372.5M1098.1,320H1108.1M1098.1,372.5H1108.1M1092.8999999999999,346H1113.3M1092.8999999999999,341.0V351.0M1113.3,341.0V351.0" stroke="#9C0808"/><path d="M1098.8999999999999,346L1103.1,341.8L1107.3,346L1103.1,350.2Z" fill="#9C0808" stroke="none"/>
<path d="M1123.9,382.6V437.2M1118.9,382.6H1128.9M1118.9,437.2H1128.9M1113.4,409.7H1134.4M1113.4,404.7V414.7M1134.4,404.7V414.7" stroke="#9C0808"/><path d="M1119.7,409.7L1123.9,405.5L1128.1000000000001,409.7L1123.9,413.9Z" fill="#9C0808" stroke="none"/>
<path d="M1144.7,348.1V405.7M1139.7,348.1H1149.7M1139.7,405.7H1149.7M1134.2,377.1H1155.2M1134.2,372.1V382.1M1155.2,372.1V382.1" stroke="#9C0808"/><path d="M1140.5,377.1L1144.7,372.90000000000003L1148.9,377.1L1144.7,381.3Z" fill="#9C0808" stroke="none"/>
<path d="M1166,367.6V429.4M1161.0,367.6H1171.0M1161.0,429.4H1171.0M1155.5,398.1H1176.5M1155.5,393.1V403.1M1176.5,393.1V403.1" stroke="#9C0808"/><path d="M1161.8,398.1L1166,393.90000000000003L1170.2,398.1L1166,402.3Z" fill="#9C0808" stroke="none"/>
</g>
<g fill="#FFF200" fill-opacity="0.86" stroke="#15153A" stroke-width="1.1">
<circle cx="174.8" cy="409.6" r="5.1"/>
<circle cx="178.4" cy="403.2" r="5.1"/>
<circle cx="183.8" cy="385.2" r="5.1"/>
<circle cx="191.9" cy="396.9" r="5.1"/>
<circle cx="191.9" cy="403.8" r="5.1"/>
<circle cx="200.6" cy="404.1" r="5.1"/>
<circle cx="209.7" cy="389.7" r="5.1"/>
<circle cx="219.1" cy="404.1" r="5.1"/>
<circle cx="228.6" cy="415.4" r="5.1"/>
<circle cx="238.6" cy="381.9" r="5.1"/>
<circle cx="249.5" cy="356.8" r="5.1"/>
<circle cx="260" cy="392.4" r="5.1"/>
<circle cx="271.1" cy="417.3" r="5.1"/>
<circle cx="282.9" cy="397.3" r="5.1"/>
<circle cx="295.2" cy="355.2" r="5.1"/>
<circle cx="307.9" cy="363" r="5.1"/>
<circle cx="321.2" cy="395.3" r="5.1"/>
<circle cx="335" cy="414" r="5.1"/>
<circle cx="349.5" cy="402.8" r="5.1"/>
<circle cx="364.2" cy="368.6" r="5.1"/>
<circle cx="379.8" cy="357.9" r="5.1"/>
<circle cx="396" cy="369.4" r="5.1"/>
<circle cx="412.5" cy="386" r="5.1"/>
<circle cx="430.1" cy="396.5" r="5.1"/>
<circle cx="448.4" cy="400.7" r="5.1"/>
<circle cx="467.1" cy="402.7" r="5.1"/>
<circle cx="486.9" cy="369" r="5.1"/>
<circle cx="507.2" cy="338.9" r="5.1"/>
<circle cx="529" cy="341.5" r="5.1"/>
<circle cx="551" cy="368.8" r="5.1"/>
<circle cx="574.4" cy="373.6" r="5.1"/>
<circle cx="597.8" cy="365.6" r="5.1"/>
<circle cx="619.9" cy="362.4" r="5.1"/>
<circle cx="622.4" cy="368.2" r="5.1"/>
<circle cx="631.4" cy="373" r="5.1"/>
<circle cx="643.9" cy="392.8" r="5.1"/>
<circle cx="656" cy="400.8" r="5.1"/>
<circle cx="667.9" cy="401.5" r="5.1"/>
<circle cx="680.6" cy="398.6" r="5.1"/>
<circle cx="693.6" cy="393.6" r="5.1"/>
<circle cx="706.7" cy="370.7" r="5.1"/>
<circle cx="720.1" cy="351.3" r="5.1"/>
<circle cx="733.4" cy="342.4" r="5.1"/>
<circle cx="747.1" cy="311.5" r="5.1"/>
<circle cx="761.3" cy="316.5" r="5.1"/>
<circle cx="775.7" cy="324.6" r="5.1"/>
<circle cx="790.2" cy="342.6" r="5.1"/>
<circle cx="805" cy="357.4" r="5.1"/>
<circle cx="820.3" cy="362.4" r="5.1"/>
<circle cx="835.5" cy="372.6" r="5.1"/>
<circle cx="867.1" cy="383.9" r="5.1"/>
<circle cx="883.3" cy="386.4" r="5.1"/>
<circle cx="900.1" cy="393.2" r="5.1"/>
<circle cx="916.9" cy="398.4" r="5.1"/>
<circle cx="933.9" cy="403.2" r="5.1"/>
<circle cx="951.4" cy="359.6" r="5.1"/>
<circle cx="969.5" cy="325.1" r="5.1"/>
<circle cx="987.2" cy="347.6" r="5.1"/>
<circle cx="1005.5" cy="385.9" r="5.1"/>
<circle cx="1024.5" cy="395.1" r="5.1"/>
<circle cx="1043.3" cy="342.6" r="5.1"/>
<circle cx="1063.1" cy="379.6" r="5.1"/>
<circle cx="1082.6" cy="393.1" r="5.1"/>
<circle cx="1103.1" cy="387.6" r="5.1"/>
<circle cx="1123.9" cy="400.7" r="5.1"/>
<circle cx="1144.7" cy="405.7" r="5.1"/>
<circle cx="1166" cy="401.9" r="5.1"/>
</g>
</g>
<path d="M211.00,525.8v-9.5M211.00,196.3v9.5M326.68,525.8v-9.5M326.68,196.3v9.5M442.35,525.8v-9.5M442.35,196.3v9.5M558.02,525.8v-9.5M558.02,196.3v9.5M673.70,525.8v-9.5M673.70,196.3v9.5M789.38,525.8v-9.5M789.38,196.3v9.5M905.05,525.8v-9.5M905.05,196.3v9.5M1020.73,525.8v-9.5M1020.73,196.3v9.5M1136.40,525.8v-9.5M1136.40,196.3v9.5M164.9,452.30h9.5M1183.0,452.30h-9.5M164.9,379.10h9.5M1183.0,379.10h-9.5M164.9,305.90h9.5M1183.0,305.90h-9.5M164.9,232.70h9.5M1183.0,232.70h-9.5" stroke="#000" stroke-width="2.8" fill="none"/>
<rect x="164.9" y="196.3" width="1018.1" height="329.49999999999994" fill="none" stroke="#000" stroke-width="3.4"/>
<text x="211.0" y="549.5" font-family="Liberation Serif" font-weight="bold" font-size="25" text-anchor="middle" textLength="34" lengthAdjust="spacingAndGlyphs">1.0</text>
<text x="326.7" y="549.5" font-family="Liberation Serif" font-weight="bold" font-size="25" text-anchor="middle" textLength="34" lengthAdjust="spacingAndGlyphs">1.5</text>
<text x="442.4" y="549.5" font-family="Liberation Serif" font-weight="bold" font-size="25" text-anchor="middle" textLength="34" lengthAdjust="spacingAndGlyphs">2.0</text>
<text x="558.0" y="549.5" font-family="Liberation Serif" font-weight="bold" font-size="25" text-anchor="middle" textLength="34" lengthAdjust="spacingAndGlyphs">2.5</text>
<text x="673.7" y="549.5" font-family="Liberation Serif" font-weight="bold" font-size="25" text-anchor="middle" textLength="34" lengthAdjust="spacingAndGlyphs">3.0</text>
<text x="789.4" y="549.5" font-family="Liberation Serif" font-weight="bold" font-size="25" text-anchor="middle" textLength="34" lengthAdjust="spacingAndGlyphs">3.5</text>
<text x="905.0" y="549.5" font-family="Liberation Serif" font-weight="bold" font-size="25" text-anchor="middle" textLength="34" lengthAdjust="spacingAndGlyphs">4.0</text>
<text x="1020.7" y="549.5" font-family="Liberation Serif" font-weight="bold" font-size="25" text-anchor="middle" textLength="34" lengthAdjust="spacingAndGlyphs">4.5</text>
<text x="1136.4" y="549.5" font-family="Liberation Serif" font-weight="bold" font-size="25" text-anchor="middle" textLength="34" lengthAdjust="spacingAndGlyphs">5.0</text>
<text x="157.4" y="533.7" font-family="Liberation Serif" font-weight="bold" font-size="25" text-anchor="end" textLength="47" lengthAdjust="spacingAndGlyphs">0.27</text>
<text x="157.4" y="460.5" font-family="Liberation Serif" font-weight="bold" font-size="25" text-anchor="end" textLength="47" lengthAdjust="spacingAndGlyphs">0.28</text>
<text x="157.4" y="387.3" font-family="Liberation Serif" font-weight="bold" font-size="25" text-anchor="end" textLength="47" lengthAdjust="spacingAndGlyphs">0.29</text>
<text x="157.4" y="314.1" font-family="Liberation Serif" font-weight="bold" font-size="25" text-anchor="end" textLength="47" lengthAdjust="spacingAndGlyphs">0.30</text>
<text x="157.4" y="240.9" font-family="Liberation Serif" font-weight="bold" font-size="25" text-anchor="end" textLength="47" lengthAdjust="spacingAndGlyphs">0.31</text>
<text x="564.8" y="579" font-family="Liberation Serif" font-weight="bold" font-size="27" textLength="215" lengthAdjust="spacingAndGlyphs">Wavelength(<tspan font-style="italic">μ</tspan>m)</text>
<text transform="translate(98,476) rotate(-90)" x="0" y="0" font-family="Liberation Serif" font-weight="bold" font-size="27" textLength="227.5" lengthAdjust="spacingAndGlyphs">Transit Depth (%)</text>
<path d="M180,217.8H216" stroke="#0000FF" stroke-width="1.8"/>
<rect x="181.3" y="236.3" width="33.2" height="11" fill="#4BBFBC" stroke="#00B0AE" stroke-width="1"/>
<rect x="181.3" y="260.5" width="33.2" height="10" fill="#A6DFDE" stroke="#90D5D3" stroke-width="1"/>
<text x="229" y="224.4" font-family="Liberation Serif" font-weight="normal" stroke="#000" stroke-width="0.6" font-size="17" textLength="86.7" lengthAdjust="spacingAndGlyphs">Median fit</text>
<text x="229.8" y="248.2" font-family="Liberation Serif" font-weight="normal" stroke="#000" stroke-width="0.6" font-size="17" textLength="26" lengthAdjust="spacingAndGlyphs">1-<tspan font-style="italic">σ</tspan></text>
<text x="229.8" y="272" font-family="Liberation Serif" font-weight="normal" stroke="#000" stroke-width="0.6" font-size="17" textLength="26" lengthAdjust="spacingAndGlyphs">2-<tspan font-style="italic">σ</tspan></text>
<circle cx="347.4" cy="219.2" r="5" fill="#FFFF00" stroke="#22225A" stroke-width="1.1"/>
<g fill="none" stroke-width="1.9"><path d="M347.4,233.1V250.5M342.4,233.1H352.4M342.4,250.5H352.4M338.4,241.8H356.4M338.4,236.8V246.8M356.4,236.8V246.8" stroke="#CA6612"/><path d="M343.2,241.8L347.4,237.60000000000002L351.59999999999997,241.8L347.4,246.0Z" fill="#CA6612" stroke="none"/><path d="M347.4,257V274.5M342.4,257H352.4M342.4,274.5H352.4M338.4,265.8H356.4M338.4,260.8V270.8M356.4,260.8V270.8" stroke="#9C0808"/><path d="M343.2,265.8L347.4,261.6L351.59999999999997,265.8L347.4,270.0Z" fill="#9C0808" stroke="none"/></g>
<text x="378.8" y="224" font-family="Liberation Serif" font-weight="normal" stroke="#000" stroke-width="0.6" font-size="17" textLength="159.3" lengthAdjust="spacingAndGlyphs">Binned Median Fit</text>
<text x="378.8" y="247.9" font-family="Liberation Serif" font-weight="normal" stroke="#000" stroke-width="0.6" font-size="17" textLength="63.6" lengthAdjust="spacingAndGlyphs">NIRISS</text>
<text x="378.8" y="271.8" font-family="Liberation Serif" font-weight="normal" stroke="#000" stroke-width="0.6" font-size="17" textLength="141" lengthAdjust="spacingAndGlyphs">NIRSpec G395H</text>
<path d="M187.2,507.4H327.9" stroke="#000" stroke-width="1.6"/>
<text x="257.8" y="503" font-family="Liberation Serif" font-weight="normal" stroke="#000" stroke-width="0.6" font-size="18" text-anchor="middle" textLength="37.2" lengthAdjust="spacingAndGlyphs">CH<tspan font-size="13" dy="3">4</tspan></text>
<path d="M349,507.4H443.6" stroke="#000" stroke-width="1.6"/>
<text x="396.7" y="503" font-family="Liberation Serif" font-weight="normal" stroke="#000" stroke-width="0.6" font-size="18" text-anchor="middle" textLength="38" lengthAdjust="spacingAndGlyphs">CH<tspan font-size="13" dy="3">4</tspan></text>
<path d="M464.7,507.4H582.5" stroke="#000" stroke-width="1.6"/>
<text x="519" y="503" font-family="Liberation Serif" font-weight="normal" stroke="#000" stroke-width="0.6" font-size="18" text-anchor="middle" textLength="37.5" lengthAdjust="spacingAndGlyphs">CH<tspan font-size="13" dy="3">4</tspan></text>
<path d="M591.6,507.4H663.3" stroke="#000" stroke-width="1.6"/>
<text x="628" y="503" font-family="Liberation Serif" font-weight="normal" stroke="#000" stroke-width="0.6" font-size="18" text-anchor="middle" textLength="36.6" lengthAdjust="spacingAndGlyphs">CO<tspan font-size="13" dy="3">2</tspan></text>
<path d="M673.4,507.4H905.5" stroke="#000" stroke-width="1.6"/>
<text x="790" y="503" font-family="Liberation Serif" font-weight="normal" stroke="#000" stroke-width="0.6" font-size="18" text-anchor="middle" textLength="37.5" lengthAdjust="spacingAndGlyphs">CH<tspan font-size="13" dy="3">4</tspan></text>
<path d="M927.7,507.4H1021.7" stroke="#000" stroke-width="1.6"/>
<text x="974.7" y="503" font-family="Liberation Serif" font-weight="normal" stroke="#000" stroke-width="0.6" font-size="18" text-anchor="middle" textLength="36.6" lengthAdjust="spacingAndGlyphs">CO<tspan font-size="13" dy="3">2</tspan></text>
<path d="M1024.2,507.4H1114" stroke="#000" stroke-width="1.6"/>
<text x="1067" y="503" font-family="Liberation Serif" font-weight="normal" stroke="#000" stroke-width="0.6" font-size="18" text-anchor="middle" textLength="33.5" lengthAdjust="spacingAndGlyphs">CS<tspan font-size="13" dy="3">2</tspan></text>
</svg></body></html>
